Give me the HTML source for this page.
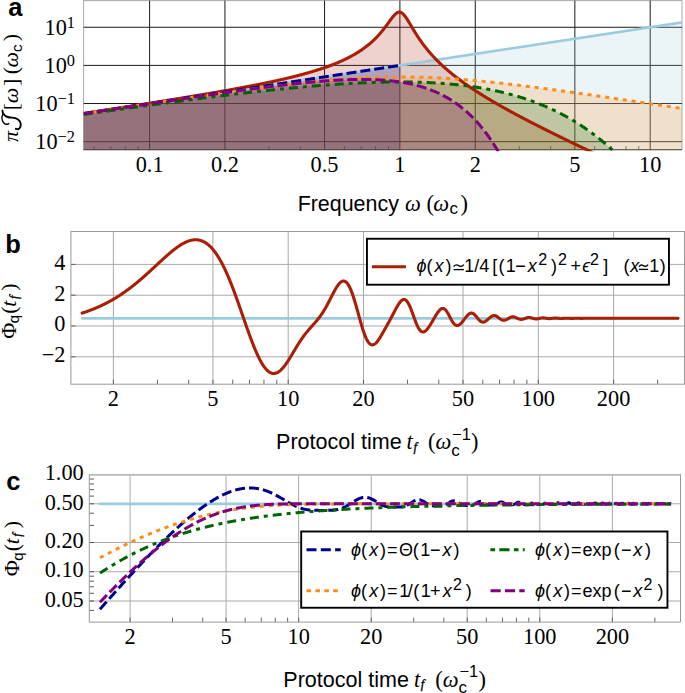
<!DOCTYPE html>
<html><head><meta charset="utf-8"><style>
html,body{margin:0;padding:0;background:#fff;width:685px;height:693px;overflow:hidden}
svg{display:block}
text{fill:#000}
</style></head><body>
<svg width="685" height="693" viewBox="0 0 685 693"><defs><clipPath id="ca"><rect x="83.60" y="0.60" width="598.40" height="149.10"/></clipPath><clipPath id="ca2"><rect x="83.60" y="0.60" width="598.40" height="150.60"/></clipPath>
</defs>
<rect x="83.60" y="0.60" width="598.40" height="149.10" fill="none" stroke="#aaa" stroke-width="1"/>
<line x1="83.60" y1="149.70" x2="682.00" y2="149.70" stroke="#333" stroke-width="1"/>
<line x1="94.07" y1="149.70" x2="94.07" y2="146.20" stroke="#333" stroke-width="0.8"/>
<line x1="110.83" y1="149.70" x2="110.83" y2="146.20" stroke="#333" stroke-width="0.8"/>
<line x1="125.34" y1="149.70" x2="125.34" y2="146.20" stroke="#333" stroke-width="0.8"/>
<line x1="138.15" y1="149.70" x2="138.15" y2="146.20" stroke="#333" stroke-width="0.8"/>
<line x1="269.02" y1="149.70" x2="269.02" y2="146.20" stroke="#333" stroke-width="0.8"/>
<line x1="300.30" y1="149.70" x2="300.30" y2="146.20" stroke="#333" stroke-width="0.8"/>
<line x1="344.37" y1="149.70" x2="344.37" y2="146.20" stroke="#333" stroke-width="0.8"/>
<line x1="361.13" y1="149.70" x2="361.13" y2="146.20" stroke="#333" stroke-width="0.8"/>
<line x1="375.64" y1="149.70" x2="375.64" y2="146.20" stroke="#333" stroke-width="0.8"/>
<line x1="388.45" y1="149.70" x2="388.45" y2="146.20" stroke="#333" stroke-width="0.8"/>
<line x1="519.32" y1="149.70" x2="519.32" y2="146.20" stroke="#333" stroke-width="0.8"/>
<line x1="550.60" y1="149.70" x2="550.60" y2="146.20" stroke="#333" stroke-width="0.8"/>
<line x1="594.67" y1="149.70" x2="594.67" y2="146.20" stroke="#333" stroke-width="0.8"/>
<line x1="611.43" y1="149.70" x2="611.43" y2="146.20" stroke="#333" stroke-width="0.8"/>
<line x1="625.94" y1="149.70" x2="625.94" y2="146.20" stroke="#333" stroke-width="0.8"/>
<line x1="638.75" y1="149.70" x2="638.75" y2="146.20" stroke="#333" stroke-width="0.8"/>
<line x1="149.60" y1="0.60" x2="149.60" y2="149.70" stroke="#1a1a1a" stroke-width="1"/>
<line x1="224.95" y1="0.60" x2="224.95" y2="149.70" stroke="#1a1a1a" stroke-width="1"/>
<line x1="324.55" y1="0.60" x2="324.55" y2="149.70" stroke="#1a1a1a" stroke-width="1"/>
<line x1="399.90" y1="0.60" x2="399.90" y2="149.70" stroke="#1a1a1a" stroke-width="1"/>
<line x1="475.25" y1="0.60" x2="475.25" y2="149.70" stroke="#1a1a1a" stroke-width="1"/>
<line x1="574.85" y1="0.60" x2="574.85" y2="149.70" stroke="#1a1a1a" stroke-width="1"/>
<line x1="650.20" y1="0.60" x2="650.20" y2="149.70" stroke="#1a1a1a" stroke-width="1"/>
<line x1="83.60" y1="27.27" x2="682.00" y2="27.27" stroke="#1a1a1a" stroke-width="1"/>
<line x1="83.60" y1="65.40" x2="682.00" y2="65.40" stroke="#1a1a1a" stroke-width="1"/>
<line x1="83.60" y1="103.53" x2="682.00" y2="103.53" stroke="#1a1a1a" stroke-width="1"/>
<line x1="83.60" y1="141.66" x2="682.00" y2="141.66" stroke="#1a1a1a" stroke-width="1"/>
<g clip-path="url(#ca)">
<path d="M83.60,113.58L84.27,113.48L84.93,113.38L85.60,113.28L86.26,113.18L86.93,113.08L87.59,112.98L88.26,112.87L88.93,112.77L89.59,112.67L90.26,112.57L90.92,112.47L91.59,112.37L92.25,112.27L92.92,112.16L93.58,112.06L94.25,111.96L94.92,111.86L95.58,111.76L96.25,111.66L96.91,111.56L97.58,111.45L98.24,111.35L98.91,111.25L99.58,111.15L100.24,111.05L100.91,110.95L101.57,110.85L102.24,110.75L102.90,110.64L103.57,110.54L104.23,110.44L104.90,110.34L105.57,110.24L106.23,110.14L106.90,110.04L107.56,109.93L108.23,109.83L108.89,109.73L109.56,109.63L110.23,109.53L110.89,109.43L111.56,109.33L112.22,109.22L112.89,109.12L113.55,109.02L114.22,108.92L114.88,108.82L115.55,108.72L116.22,108.62L116.88,108.51L117.55,108.41L118.21,108.31L118.88,108.21L119.54,108.11L120.21,108.01L120.88,107.91L121.54,107.80L122.21,107.70L122.87,107.60L123.54,107.50L124.20,107.40L124.87,107.30L125.53,107.20L126.20,107.09L126.87,106.99L127.53,106.89L128.20,106.79L128.86,106.69L129.53,106.59L130.19,106.49L130.86,106.38L131.53,106.28L132.19,106.18L132.86,106.08L133.52,105.98L134.19,105.88L134.85,105.78L135.52,105.68L136.18,105.57L136.85,105.47L137.52,105.37L138.18,105.27L138.85,105.17L139.51,105.07L140.18,104.97L140.84,104.86L141.51,104.76L142.18,104.66L142.84,104.56L143.51,104.46L144.17,104.36L144.84,104.26L145.50,104.15L146.17,104.05L146.83,103.95L147.50,103.85L148.17,103.75L148.83,103.65L149.50,103.55L150.16,103.44L150.83,103.34L151.49,103.24L152.16,103.14L152.83,103.04L153.49,102.94L154.16,102.84L154.82,102.73L155.49,102.63L156.15,102.53L156.82,102.43L157.48,102.33L158.15,102.23L158.82,102.13L159.48,102.02L160.15,101.92L160.81,101.82L161.48,101.72L162.14,101.62L162.81,101.52L163.48,101.42L164.14,101.31L164.81,101.21L165.47,101.11L166.14,101.01L166.80,100.91L167.47,100.81L168.13,100.71L168.80,100.61L169.47,100.50L170.13,100.40L170.80,100.30L171.46,100.20L172.13,100.10L172.79,100.00L173.46,99.90L174.13,99.79L174.79,99.69L175.46,99.59L176.12,99.49L176.79,99.39L177.45,99.29L178.12,99.19L178.78,99.08L179.45,98.98L180.12,98.88L180.78,98.78L181.45,98.68L182.11,98.58L182.78,98.48L183.44,98.37L184.11,98.27L184.78,98.17L185.44,98.07L186.11,97.97L186.77,97.87L187.44,97.77L188.10,97.66L188.77,97.56L189.43,97.46L190.10,97.36L190.77,97.26L191.43,97.16L192.10,97.06L192.76,96.95L193.43,96.85L194.09,96.75L194.76,96.65L195.43,96.55L196.09,96.45L196.76,96.35L197.42,96.24L198.09,96.14L198.75,96.04L199.42,95.94L200.08,95.84L200.75,95.74L201.42,95.64L202.08,95.54L202.75,95.43L203.41,95.33L204.08,95.23L204.74,95.13L205.41,95.03L206.08,94.93L206.74,94.83L207.41,94.72L208.07,94.62L208.74,94.52L209.40,94.42L210.07,94.32L210.74,94.22L211.40,94.12L212.07,94.01L212.73,93.91L213.40,93.81L214.06,93.71L214.73,93.61L215.39,93.51L216.06,93.41L216.73,93.30L217.39,93.20L218.06,93.10L218.72,93.00L219.39,92.90L220.05,92.80L220.72,92.70L221.39,92.59L222.05,92.49L222.72,92.39L223.38,92.29L224.05,92.19L224.71,92.09L225.38,91.99L226.04,91.88L226.71,91.78L227.38,91.68L228.04,91.58L228.71,91.48L229.37,91.38L230.04,91.28L230.70,91.17L231.37,91.07L232.04,90.97L232.70,90.87L233.37,90.77L234.03,90.67L234.70,90.57L235.36,90.47L236.03,90.36L236.69,90.26L237.36,90.16L238.03,90.06L238.69,89.96L239.36,89.86L240.02,89.76L240.69,89.65L241.35,89.55L242.02,89.45L242.69,89.35L243.35,89.25L244.02,89.15L244.68,89.05L245.35,88.94L246.01,88.84L246.68,88.74L247.34,88.64L248.01,88.54L248.68,88.44L249.34,88.34L250.01,88.23L250.67,88.13L251.34,88.03L252.00,87.93L252.67,87.83L253.34,87.73L254.00,87.63L254.67,87.52L255.33,87.42L256.00,87.32L256.66,87.22L257.33,87.12L257.99,87.02L258.66,86.92L259.33,86.81L259.99,86.71L260.66,86.61L261.32,86.51L261.99,86.41L262.65,86.31L263.32,86.21L263.99,86.10L264.65,86.00L265.32,85.90L265.98,85.80L266.65,85.70L267.31,85.60L267.98,85.50L268.64,85.40L269.31,85.29L269.98,85.19L270.64,85.09L271.31,84.99L271.97,84.89L272.64,84.79L273.30,84.69L273.97,84.58L274.64,84.48L275.30,84.38L275.97,84.28L276.63,84.18L277.30,84.08L277.96,83.98L278.63,83.87L279.29,83.77L279.96,83.67L280.63,83.57L281.29,83.47L281.96,83.37L282.62,83.27L283.29,83.16L283.95,83.06L284.62,82.96L285.29,82.86L285.95,82.76L286.62,82.66L287.28,82.56L287.95,82.45L288.61,82.35L289.28,82.25L289.94,82.15L290.61,82.05L291.28,81.95L291.94,81.85L292.61,81.74L293.27,81.64L293.94,81.54L294.60,81.44L295.27,81.34L295.94,81.24L296.60,81.14L297.27,81.03L297.93,80.93L298.60,80.83L299.26,80.73L299.93,80.63L300.59,80.53L301.26,80.43L301.93,80.33L302.59,80.22L303.26,80.12L303.92,80.02L304.59,79.92L305.25,79.82L305.92,79.72L306.59,79.62L307.25,79.51L307.92,79.41L308.58,79.31L309.25,79.21L309.91,79.11L310.58,79.01L311.24,78.91L311.91,78.80L312.58,78.70L313.24,78.60L313.91,78.50L314.57,78.40L315.24,78.30L315.90,78.20L316.57,78.09L317.24,77.99L317.90,77.89L318.57,77.79L319.23,77.69L319.90,77.59L320.56,77.49L321.23,77.38L321.89,77.28L322.56,77.18L323.23,77.08L323.89,76.98L324.56,76.88L325.22,76.78L325.89,76.67L326.55,76.57L327.22,76.47L327.89,76.37L328.55,76.27L329.22,76.17L329.88,76.07L330.55,75.96L331.21,75.86L331.88,75.76L332.55,75.66L333.21,75.56L333.88,75.46L334.54,75.36L335.21,75.26L335.87,75.15L336.54,75.05L337.20,74.95L337.87,74.85L338.54,74.75L339.20,74.65L339.87,74.55L340.53,74.44L341.20,74.34L341.86,74.24L342.53,74.14L343.20,74.04L343.86,73.94L344.53,73.84L345.19,73.73L345.86,73.63L346.52,73.53L347.19,73.43L347.85,73.33L348.52,73.23L349.19,73.13L349.85,73.02L350.52,72.92L351.18,72.82L351.85,72.72L352.51,72.62L353.18,72.52L353.85,72.42L354.51,72.31L355.18,72.21L355.84,72.11L356.51,72.01L357.17,71.91L357.84,71.81L358.50,71.71L359.17,71.60L359.84,71.50L360.50,71.40L361.17,71.30L361.83,71.20L362.50,71.10L363.16,71.00L363.83,70.89L364.50,70.79L365.16,70.69L365.83,70.59L366.49,70.49L367.16,70.39L367.82,70.29L368.49,70.19L369.15,70.08L369.82,69.98L370.49,69.88L371.15,69.78L371.82,69.68L372.48,69.58L373.15,69.48L373.81,69.37L374.48,69.27L375.15,69.17L375.81,69.07L376.48,68.97L377.14,68.87L377.81,68.77L378.47,68.66L379.14,68.56L379.80,68.46L380.47,68.36L381.14,68.26L381.80,68.16L382.47,68.06L383.13,67.95L383.80,67.85L384.46,67.75L385.13,67.65L385.80,67.55L386.46,67.45L387.13,67.35L387.79,67.24L388.46,67.14L389.12,67.04L389.79,66.94L390.45,66.84L391.12,66.74L391.79,66.64L392.45,66.53L393.12,66.43L393.78,66.33L394.45,66.23L395.11,66.13L395.78,66.03L396.45,65.93L397.11,65.82L397.78,65.72L398.44,65.62L399.11,65.52L399.77,65.42L400.44,65.32L401.10,65.22L401.77,65.12L402.44,65.01L403.10,64.91L403.77,64.81L404.43,64.71L405.10,64.61L405.76,64.51L406.43,64.41L407.10,64.30L407.76,64.20L408.43,64.10L409.09,64.00L409.76,63.90L410.42,63.80L411.09,63.70L411.75,63.59L412.42,63.49L413.09,63.39L413.75,63.29L414.42,63.19L415.08,63.09L415.75,62.99L416.41,62.88L417.08,62.78L417.75,62.68L418.41,62.58L419.08,62.48L419.74,62.38L420.41,62.28L421.07,62.17L421.74,62.07L422.40,61.97L423.07,61.87L423.74,61.77L424.40,61.67L425.07,61.57L425.73,61.46L426.40,61.36L427.06,61.26L427.73,61.16L428.40,61.06L429.06,60.96L429.73,60.86L430.39,60.75L431.06,60.65L431.72,60.55L432.39,60.45L433.05,60.35L433.72,60.25L434.39,60.15L435.05,60.05L435.72,59.94L436.38,59.84L437.05,59.74L437.71,59.64L438.38,59.54L439.05,59.44L439.71,59.34L440.38,59.23L441.04,59.13L441.71,59.03L442.37,58.93L443.04,58.83L443.71,58.73L444.37,58.63L445.04,58.52L445.70,58.42L446.37,58.32L447.03,58.22L447.70,58.12L448.36,58.02L449.03,57.92L449.70,57.81L450.36,57.71L451.03,57.61L451.69,57.51L452.36,57.41L453.02,57.31L453.69,57.21L454.36,57.10L455.02,57.00L455.69,56.90L456.35,56.80L457.02,56.70L457.68,56.60L458.35,56.50L459.01,56.39L459.68,56.29L460.35,56.19L461.01,56.09L461.68,55.99L462.34,55.89L463.01,55.79L463.67,55.68L464.34,55.58L465.01,55.48L465.67,55.38L466.34,55.28L467.00,55.18L467.67,55.08L468.33,54.98L469.00,54.87L469.66,54.77L470.33,54.67L471.00,54.57L471.66,54.47L472.33,54.37L472.99,54.27L473.66,54.16L474.32,54.06L474.99,53.96L475.66,53.86L476.32,53.76L476.99,53.66L477.65,53.56L478.32,53.45L478.98,53.35L479.65,53.25L480.31,53.15L480.98,53.05L481.65,52.95L482.31,52.85L482.98,52.74L483.64,52.64L484.31,52.54L484.97,52.44L485.64,52.34L486.31,52.24L486.97,52.14L487.64,52.03L488.30,51.93L488.97,51.83L489.63,51.73L490.30,51.63L490.96,51.53L491.63,51.43L492.30,51.32L492.96,51.22L493.63,51.12L494.29,51.02L494.96,50.92L495.62,50.82L496.29,50.72L496.96,50.61L497.62,50.51L498.29,50.41L498.95,50.31L499.62,50.21L500.28,50.11L500.95,50.01L501.61,49.91L502.28,49.80L502.95,49.70L503.61,49.60L504.28,49.50L504.94,49.40L505.61,49.30L506.27,49.20L506.94,49.09L507.61,48.99L508.27,48.89L508.94,48.79L509.60,48.69L510.27,48.59L510.93,48.49L511.60,48.38L512.26,48.28L512.93,48.18L513.60,48.08L514.26,47.98L514.93,47.88L515.59,47.78L516.26,47.67L516.92,47.57L517.59,47.47L518.26,47.37L518.92,47.27L519.59,47.17L520.25,47.07L520.92,46.96L521.58,46.86L522.25,46.76L522.91,46.66L523.58,46.56L524.25,46.46L524.91,46.36L525.58,46.25L526.24,46.15L526.91,46.05L527.57,45.95L528.24,45.85L528.91,45.75L529.57,45.65L530.24,45.54L530.90,45.44L531.57,45.34L532.23,45.24L532.90,45.14L533.56,45.04L534.23,44.94L534.90,44.84L535.56,44.73L536.23,44.63L536.89,44.53L537.56,44.43L538.22,44.33L538.89,44.23L539.56,44.13L540.22,44.02L540.89,43.92L541.55,43.82L542.22,43.72L542.88,43.62L543.55,43.52L544.21,43.42L544.88,43.31L545.55,43.21L546.21,43.11L546.88,43.01L547.54,42.91L548.21,42.81L548.87,42.71L549.54,42.60L550.21,42.50L550.87,42.40L551.54,42.30L552.20,42.20L552.87,42.10L553.53,42.00L554.20,41.89L554.86,41.79L555.53,41.69L556.20,41.59L556.86,41.49L557.53,41.39L558.19,41.29L558.86,41.18L559.52,41.08L560.19,40.98L560.86,40.88L561.52,40.78L562.19,40.68L562.85,40.58L563.52,40.47L564.18,40.37L564.85,40.27L565.52,40.17L566.18,40.07L566.85,39.97L567.51,39.87L568.18,39.77L568.84,39.66L569.51,39.56L570.17,39.46L570.84,39.36L571.51,39.26L572.17,39.16L572.84,39.06L573.50,38.95L574.17,38.85L574.83,38.75L575.50,38.65L576.17,38.55L576.83,38.45L577.50,38.35L578.16,38.24L578.83,38.14L579.49,38.04L580.16,37.94L580.82,37.84L581.49,37.74L582.16,37.64L582.82,37.53L583.49,37.43L584.15,37.33L584.82,37.23L585.48,37.13L586.15,37.03L586.82,36.93L587.48,36.82L588.15,36.72L588.81,36.62L589.48,36.52L590.14,36.42L590.81,36.32L591.47,36.22L592.14,36.11L592.81,36.01L593.47,35.91L594.14,35.81L594.80,35.71L595.47,35.61L596.13,35.51L596.80,35.40L597.47,35.30L598.13,35.20L598.80,35.10L599.46,35.00L600.13,34.90L600.79,34.80L601.46,34.70L602.12,34.59L602.79,34.49L603.46,34.39L604.12,34.29L604.79,34.19L605.45,34.09L606.12,33.99L606.78,33.88L607.45,33.78L608.12,33.68L608.78,33.58L609.45,33.48L610.11,33.38L610.78,33.28L611.44,33.17L612.11,33.07L612.77,32.97L613.44,32.87L614.11,32.77L614.77,32.67L615.44,32.57L616.10,32.46L616.77,32.36L617.43,32.26L618.10,32.16L618.77,32.06L619.43,31.96L620.10,31.86L620.76,31.75L621.43,31.65L622.09,31.55L622.76,31.45L623.42,31.35L624.09,31.25L624.76,31.15L625.42,31.04L626.09,30.94L626.75,30.84L627.42,30.74L628.08,30.64L628.75,30.54L629.42,30.44L630.08,30.33L630.75,30.23L631.41,30.13L632.08,30.03L632.74,29.93L633.41,29.83L634.07,29.73L634.74,29.63L635.41,29.52L636.07,29.42L636.74,29.32L637.40,29.22L638.07,29.12L638.73,29.02L639.40,28.92L640.07,28.81L640.73,28.71L641.40,28.61L642.06,28.51L642.73,28.41L643.39,28.31L644.06,28.21L644.72,28.10L645.39,28.00L646.06,27.90L646.72,27.80L647.39,27.70L648.05,27.60L648.72,27.50L649.38,27.39L650.05,27.29L650.72,27.19L651.38,27.09L652.05,26.99L652.71,26.89L653.38,26.79L654.04,26.68L654.71,26.58L655.37,26.48L656.04,26.38L656.71,26.28L657.37,26.18L658.04,26.08L658.70,25.97L659.37,25.87L660.03,25.77L660.70,25.67L661.37,25.57L662.03,25.47L662.70,25.37L663.36,25.26L664.03,25.16L664.69,25.06L665.36,24.96L666.02,24.86L666.69,24.76L667.36,24.66L668.02,24.56L668.69,24.45L669.35,24.35L670.02,24.25L670.68,24.15L671.35,24.05L672.02,23.95L672.68,23.85L673.35,23.74L674.01,23.64L674.68,23.54L675.34,23.44L676.01,23.34L676.67,23.24L677.34,23.14L678.01,23.03L678.67,22.93L679.34,22.83L680.00,22.73L680.67,22.63L681.33,22.53L682.00,22.43L682.00,154.70L83.60,154.70Z" fill="#9bcbde" fill-opacity="0.200" stroke="none"/>
<path d="M83.60,113.49L84.27,113.39L84.93,113.28L85.60,113.18L86.26,113.08L86.93,112.97L87.59,112.87L88.26,112.77L88.93,112.67L89.59,112.56L90.26,112.46L90.92,112.36L91.59,112.26L92.25,112.15L92.92,112.05L93.58,111.95L94.25,111.84L94.92,111.74L95.58,111.64L96.25,111.54L96.91,111.43L97.58,111.33L98.24,111.23L98.91,111.12L99.58,111.02L100.24,110.92L100.91,110.82L101.57,110.71L102.24,110.61L102.90,110.51L103.57,110.40L104.23,110.30L104.90,110.20L105.57,110.09L106.23,109.99L106.90,109.89L107.56,109.78L108.23,109.68L108.89,109.58L109.56,109.47L110.23,109.37L110.89,109.27L111.56,109.16L112.22,109.06L112.89,108.96L113.55,108.85L114.22,108.75L114.88,108.65L115.55,108.54L116.22,108.44L116.88,108.34L117.55,108.23L118.21,108.13L118.88,108.03L119.54,107.92L120.21,107.82L120.88,107.71L121.54,107.61L122.21,107.51L122.87,107.40L123.54,107.30L124.20,107.19L124.87,107.09L125.53,106.99L126.20,106.88L126.87,106.78L127.53,106.67L128.20,106.57L128.86,106.47L129.53,106.36L130.19,106.26L130.86,106.15L131.53,106.05L132.19,105.95L132.86,105.84L133.52,105.74L134.19,105.63L134.85,105.53L135.52,105.42L136.18,105.32L136.85,105.21L137.52,105.11L138.18,105.01L138.85,104.90L139.51,104.80L140.18,104.69L140.84,104.59L141.51,104.48L142.18,104.38L142.84,104.27L143.51,104.17L144.17,104.06L144.84,103.96L145.50,103.85L146.17,103.75L146.83,103.64L147.50,103.54L148.17,103.43L148.83,103.33L149.50,103.22L150.16,103.11L150.83,103.01L151.49,102.90L152.16,102.80L152.83,102.69L153.49,102.59L154.16,102.48L154.82,102.38L155.49,102.27L156.15,102.16L156.82,102.06L157.48,101.95L158.15,101.85L158.82,101.74L159.48,101.63L160.15,101.53L160.81,101.42L161.48,101.31L162.14,101.21L162.81,101.10L163.48,100.99L164.14,100.89L164.81,100.78L165.47,100.67L166.14,100.57L166.80,100.46L167.47,100.35L168.13,100.25L168.80,100.14L169.47,100.03L170.13,99.93L170.80,99.82L171.46,99.71L172.13,99.60L172.79,99.50L173.46,99.39L174.13,99.28L174.79,99.17L175.46,99.06L176.12,98.96L176.79,98.85L177.45,98.74L178.12,98.63L178.78,98.52L179.45,98.42L180.12,98.31L180.78,98.20L181.45,98.09L182.11,97.98L182.78,97.87L183.44,97.76L184.11,97.65L184.78,97.55L185.44,97.44L186.11,97.33L186.77,97.22L187.44,97.11L188.10,97.00L188.77,96.89L189.43,96.78L190.10,96.67L190.77,96.56L191.43,96.45L192.10,96.34L192.76,96.23L193.43,96.12L194.09,96.01L194.76,95.90L195.43,95.79L196.09,95.68L196.76,95.56L197.42,95.45L198.09,95.34L198.75,95.23L199.42,95.12L200.08,95.01L200.75,94.90L201.42,94.78L202.08,94.67L202.75,94.56L203.41,94.45L204.08,94.34L204.74,94.22L205.41,94.11L206.08,94.00L206.74,93.88L207.41,93.77L208.07,93.66L208.74,93.54L209.40,93.43L210.07,93.32L210.74,93.20L211.40,93.09L212.07,92.97L212.73,92.86L213.40,92.75L214.06,92.63L214.73,92.52L215.39,92.40L216.06,92.29L216.73,92.17L217.39,92.05L218.06,91.94L218.72,91.82L219.39,91.71L220.05,91.59L220.72,91.47L221.39,91.36L222.05,91.24L222.72,91.12L223.38,91.01L224.05,90.89L224.71,90.77L225.38,90.65L226.04,90.53L226.71,90.42L227.38,90.30L228.04,90.18L228.71,90.06L229.37,89.94L230.04,89.82L230.70,89.70L231.37,89.58L232.04,89.46L232.70,89.34L233.37,89.22L234.03,89.10L234.70,88.98L235.36,88.86L236.03,88.73L236.69,88.61L237.36,88.49L238.03,88.37L238.69,88.24L239.36,88.12L240.02,88.00L240.69,87.87L241.35,87.75L242.02,87.63L242.69,87.50L243.35,87.38L244.02,87.25L244.68,87.13L245.35,87.00L246.01,86.87L246.68,86.75L247.34,86.62L248.01,86.49L248.68,86.37L249.34,86.24L250.01,86.11L250.67,85.98L251.34,85.85L252.00,85.73L252.67,85.60L253.34,85.47L254.00,85.34L254.67,85.21L255.33,85.07L256.00,84.94L256.66,84.81L257.33,84.68L257.99,84.55L258.66,84.41L259.33,84.28L259.99,84.15L260.66,84.01L261.32,83.88L261.99,83.74L262.65,83.61L263.32,83.47L263.99,83.33L264.65,83.20L265.32,83.06L265.98,82.92L266.65,82.78L267.31,82.64L267.98,82.51L268.64,82.37L269.31,82.23L269.98,82.08L270.64,81.94L271.31,81.80L271.97,81.66L272.64,81.51L273.30,81.37L273.97,81.23L274.64,81.08L275.30,80.94L275.97,80.79L276.63,80.64L277.30,80.50L277.96,80.35L278.63,80.20L279.29,80.05L279.96,79.90L280.63,79.75L281.29,79.60L281.96,79.45L282.62,79.30L283.29,79.14L283.95,78.99L284.62,78.83L285.29,78.68L285.95,78.52L286.62,78.36L287.28,78.21L287.95,78.05L288.61,77.89L289.28,77.73L289.94,77.57L290.61,77.41L291.28,77.24L291.94,77.08L292.61,76.92L293.27,76.75L293.94,76.58L294.60,76.42L295.27,76.25L295.94,76.08L296.60,75.91L297.27,75.74L297.93,75.57L298.60,75.39L299.26,75.22L299.93,75.05L300.59,74.87L301.26,74.69L301.93,74.51L302.59,74.33L303.26,74.15L303.92,73.97L304.59,73.79L305.25,73.61L305.92,73.42L306.59,73.23L307.25,73.05L307.92,72.86L308.58,72.67L309.25,72.47L309.91,72.28L310.58,72.09L311.24,71.89L311.91,71.69L312.58,71.50L313.24,71.30L313.91,71.09L314.57,70.89L315.24,70.69L315.90,70.48L316.57,70.27L317.24,70.06L317.90,69.85L318.57,69.64L319.23,69.42L319.90,69.21L320.56,68.99L321.23,68.77L321.89,68.55L322.56,68.32L323.23,68.10L323.89,67.87L324.56,67.64L325.22,67.41L325.89,67.17L326.55,66.94L327.22,66.70L327.89,66.46L328.55,66.22L329.22,65.97L329.88,65.73L330.55,65.48L331.21,65.22L331.88,64.97L332.55,64.71L333.21,64.45L333.88,64.19L334.54,63.92L335.21,63.66L335.87,63.39L336.54,63.11L337.20,62.84L337.87,62.56L338.54,62.27L339.20,61.99L339.87,61.70L340.53,61.41L341.20,61.11L341.86,60.81L342.53,60.51L343.20,60.20L343.86,59.89L344.53,59.58L345.19,59.26L345.86,58.94L346.52,58.61L347.19,58.28L347.85,57.95L348.52,57.61L349.19,57.27L349.85,56.92L350.52,56.57L351.18,56.21L351.85,55.85L352.51,55.48L353.18,55.11L353.85,54.73L354.51,54.35L355.18,53.96L355.84,53.56L356.51,53.16L357.17,52.76L357.84,52.34L358.50,51.93L359.17,51.50L359.84,51.07L360.50,50.63L361.17,50.18L361.83,49.73L362.50,49.27L363.16,48.80L363.83,48.32L364.50,47.84L365.16,47.34L365.83,46.84L366.49,46.33L367.16,45.81L367.82,45.28L368.49,44.74L369.15,44.19L369.82,43.63L370.49,43.06L371.15,42.48L371.82,41.88L372.48,41.28L373.15,40.66L373.81,40.04L374.48,39.40L375.15,38.74L375.81,38.07L376.48,37.39L377.14,36.70L377.81,35.99L378.47,35.27L379.14,34.53L379.80,33.78L380.47,33.01L381.14,32.23L381.80,31.44L382.47,30.62L383.13,29.80L383.80,28.96L384.46,28.10L385.13,27.23L385.80,26.35L386.46,25.46L387.13,24.56L387.79,23.65L388.46,22.73L389.12,21.82L389.79,20.90L390.45,19.99L391.12,19.09L391.79,18.21L392.45,17.34L393.12,16.51L393.78,15.72L394.45,14.98L395.11,14.30L395.78,13.69L396.45,13.16L397.11,12.73L397.78,12.39L398.44,12.17L399.11,12.06L399.77,12.08L400.44,12.22L401.10,12.48L401.77,12.86L402.44,13.36L403.10,13.96L403.77,14.66L404.43,15.44L405.10,16.30L405.76,17.22L406.43,18.20L407.10,19.22L407.76,20.27L408.43,21.35L409.09,22.45L409.76,23.56L410.42,24.67L411.09,25.80L411.75,26.91L412.42,28.03L413.09,29.14L413.75,30.24L414.42,31.32L415.08,32.40L415.75,33.46L416.41,34.51L417.08,35.55L417.75,36.57L418.41,37.57L419.08,38.56L419.74,39.54L420.41,40.50L421.07,41.44L421.74,42.37L422.40,43.29L423.07,44.19L423.74,45.08L424.40,45.95L425.07,46.82L425.73,47.66L426.40,48.50L427.06,49.32L427.73,50.14L428.40,50.94L429.06,51.72L429.73,52.50L430.39,53.27L431.06,54.02L431.72,54.77L432.39,55.51L433.05,56.23L433.72,56.95L434.39,57.66L435.05,58.36L435.72,59.05L436.38,59.73L437.05,60.41L437.71,61.08L438.38,61.73L439.05,62.39L439.71,63.03L440.38,63.67L441.04,64.30L441.71,64.92L442.37,65.54L443.04,66.15L443.71,66.76L444.37,67.36L445.04,67.95L445.70,68.54L446.37,69.12L447.03,69.70L447.70,70.27L448.36,70.84L449.03,71.40L449.70,71.96L450.36,72.51L451.03,73.06L451.69,73.60L452.36,74.14L453.02,74.67L453.69,75.20L454.36,75.73L455.02,76.25L455.69,76.77L456.35,77.28L457.02,77.79L457.68,78.30L458.35,78.80L459.01,79.30L459.68,79.80L460.35,80.29L461.01,80.78L461.68,81.27L462.34,81.75L463.01,82.23L463.67,82.71L464.34,83.19L465.01,83.66L465.67,84.13L466.34,84.59L467.00,85.06L467.67,85.52L468.33,85.98L469.00,86.43L469.66,86.89L470.33,87.34L471.00,87.79L471.66,88.23L472.33,88.68L472.99,89.12L473.66,89.56L474.32,90.00L474.99,90.43L475.66,90.86L476.32,91.29L476.99,91.72L477.65,92.15L478.32,92.58L478.98,93.00L479.65,93.42L480.31,93.84L480.98,94.26L481.65,94.68L482.31,95.09L482.98,95.50L483.64,95.92L484.31,96.32L484.97,96.73L485.64,97.14L486.31,97.54L486.97,97.95L487.64,98.35L488.30,98.75L488.97,99.15L489.63,99.55L490.30,99.94L490.96,100.34L491.63,100.73L492.30,101.12L492.96,101.52L493.63,101.91L494.29,102.29L494.96,102.68L495.62,103.07L496.29,103.45L496.96,103.84L497.62,104.22L498.29,104.60L498.95,104.98L499.62,105.36L500.28,105.74L500.95,106.12L501.61,106.49L502.28,106.87L502.95,107.24L503.61,107.61L504.28,107.99L504.94,108.36L505.61,108.73L506.27,109.10L506.94,109.47L507.61,109.83L508.27,110.20L508.94,110.57L509.60,110.93L510.27,111.29L510.93,111.66L511.60,112.02L512.26,112.38L512.93,112.74L513.60,113.10L514.26,113.46L514.93,113.82L515.59,114.18L516.26,114.53L516.92,114.89L517.59,115.25L518.26,115.60L518.92,115.96L519.59,116.31L520.25,116.66L520.92,117.01L521.58,117.37L522.25,117.72L522.91,118.07L523.58,118.42L524.25,118.77L524.91,119.11L525.58,119.46L526.24,119.81L526.91,120.16L527.57,120.50L528.24,120.85L528.91,121.19L529.57,121.54L530.24,121.88L530.90,122.23L531.57,122.57L532.23,122.91L532.90,123.25L533.56,123.59L534.23,123.93L534.90,124.28L535.56,124.62L536.23,124.95L536.89,125.29L537.56,125.63L538.22,125.97L538.89,126.31L539.56,126.65L540.22,126.98L540.89,127.32L541.55,127.65L542.22,127.99L542.88,128.32L543.55,128.66L544.21,128.99L544.88,129.33L545.55,129.66L546.21,129.99L546.88,130.33L547.54,130.66L548.21,130.99L548.87,131.32L549.54,131.65L550.21,131.99L550.87,132.32L551.54,132.65L552.20,132.98L552.87,133.31L553.53,133.64L554.20,133.96L554.86,134.29L555.53,134.62L556.20,134.95L556.86,135.28L557.53,135.60L558.19,135.93L558.86,136.26L559.52,136.58L560.19,136.91L560.86,137.24L561.52,137.56L562.19,137.89L562.85,138.21L563.52,138.54L564.18,138.86L564.85,139.19L565.52,139.51L566.18,139.83L566.85,140.16L567.51,140.48L568.18,140.80L568.84,141.13L569.51,141.45L570.17,141.77L570.84,142.09L571.51,142.42L572.17,142.74L572.84,143.06L573.50,143.38L574.17,143.70L574.83,144.02L575.50,144.34L576.17,144.66L576.83,144.98L577.50,145.30L578.16,145.62L578.83,145.94L579.49,146.26L580.16,146.58L580.82,146.90L581.49,147.22L582.16,147.54L582.82,147.86L583.49,148.18L584.15,148.49L584.82,148.81L585.48,149.13L586.15,149.45L586.82,149.76L587.48,150.08L588.15,150.40L588.81,150.72L589.48,151.03L590.14,151.35L590.81,151.67L591.47,151.98L592.14,152.30L592.81,152.61L593.47,152.93L594.14,153.25L594.80,153.56L595.47,153.88L596.13,154.19L596.80,154.51L597.47,154.82L598.13,155.14L598.80,155.45L599.46,155.77L600.13,156.08L600.79,156.40L601.46,156.71L602.12,157.02L602.79,157.34L603.46,157.65L604.12,157.97L604.79,158.28L605.45,158.59L606.12,158.91L606.78,159.22L607.45,159.53L608.12,159.85L608.78,160.16L609.45,160.47L610.11,160.78L610.78,161.10L611.44,161.41L612.11,161.72L612.77,162.03L613.44,162.35L614.11,162.66L614.77,162.97L615.44,163.28L616.10,163.59L616.77,163.91L617.43,164.22L618.10,164.53L618.77,164.84L619.43,165.15L620.10,165.46L620.76,165.77L621.43,166.09L622.09,166.40L622.76,166.71L623.42,167.02L624.09,167.33L624.76,167.64L625.42,167.95L626.09,168.26L626.75,168.57L627.42,168.88L628.08,169.19L628.75,169.50L629.42,169.70L630.08,169.70L630.75,169.70L631.41,169.70L632.08,169.70L632.74,169.70L633.41,169.70L634.07,169.70L634.74,169.70L635.41,169.70L636.07,169.70L636.74,169.70L637.40,169.70L638.07,169.70L638.73,169.70L639.40,169.70L640.07,169.70L640.73,169.70L641.40,169.70L642.06,169.70L642.73,169.70L643.39,169.70L644.06,169.70L644.72,169.70L645.39,169.70L646.06,169.70L646.72,169.70L647.39,169.70L648.05,169.70L648.72,169.70L649.38,169.70L650.05,169.70L650.72,169.70L651.38,169.70L652.05,169.70L652.71,169.70L653.38,169.70L654.04,169.70L654.71,169.70L655.37,169.70L656.04,169.70L656.71,169.70L657.37,169.70L658.04,169.70L658.70,169.70L659.37,169.70L660.03,169.70L660.70,169.70L661.37,169.70L662.03,169.70L662.70,169.70L663.36,169.70L664.03,169.70L664.69,169.70L665.36,169.70L666.02,169.70L666.69,169.70L667.36,169.70L668.02,169.70L668.69,169.70L669.35,169.70L670.02,169.70L670.68,169.70L671.35,169.70L672.02,169.70L672.68,169.70L673.35,169.70L674.01,169.70L674.68,169.70L675.34,169.70L676.01,169.70L676.67,169.70L677.34,169.70L678.01,169.70L678.67,169.70L679.34,169.70L680.00,169.70L680.67,169.70L681.33,169.70L682.00,169.70L682.00,154.70L83.60,154.70Z" fill="#aa1e05" fill-opacity="0.200" stroke="none"/>
<path d="M83.60,113.58L84.27,113.48L84.93,113.38L85.60,113.28L86.26,113.18L86.93,113.08L87.59,112.98L88.26,112.87L88.93,112.77L89.59,112.67L90.26,112.57L90.92,112.47L91.59,112.37L92.25,112.27L92.92,112.16L93.58,112.06L94.25,111.96L94.92,111.86L95.58,111.76L96.25,111.66L96.91,111.56L97.58,111.45L98.24,111.35L98.91,111.25L99.58,111.15L100.24,111.05L100.91,110.95L101.57,110.85L102.24,110.75L102.90,110.64L103.57,110.54L104.23,110.44L104.90,110.34L105.57,110.24L106.23,110.14L106.90,110.04L107.56,109.93L108.23,109.83L108.89,109.73L109.56,109.63L110.23,109.53L110.89,109.43L111.56,109.33L112.22,109.22L112.89,109.12L113.55,109.02L114.22,108.92L114.88,108.82L115.55,108.72L116.22,108.62L116.88,108.51L117.55,108.41L118.21,108.31L118.88,108.21L119.54,108.11L120.21,108.01L120.88,107.91L121.54,107.80L122.21,107.70L122.87,107.60L123.54,107.50L124.20,107.40L124.87,107.30L125.53,107.20L126.20,107.09L126.87,106.99L127.53,106.89L128.20,106.79L128.86,106.69L129.53,106.59L130.19,106.49L130.86,106.38L131.53,106.28L132.19,106.18L132.86,106.08L133.52,105.98L134.19,105.88L134.85,105.78L135.52,105.68L136.18,105.57L136.85,105.47L137.52,105.37L138.18,105.27L138.85,105.17L139.51,105.07L140.18,104.97L140.84,104.86L141.51,104.76L142.18,104.66L142.84,104.56L143.51,104.46L144.17,104.36L144.84,104.26L145.50,104.15L146.17,104.05L146.83,103.95L147.50,103.85L148.17,103.75L148.83,103.65L149.50,103.55L150.16,103.44L150.83,103.34L151.49,103.24L152.16,103.14L152.83,103.04L153.49,102.94L154.16,102.84L154.82,102.73L155.49,102.63L156.15,102.53L156.82,102.43L157.48,102.33L158.15,102.23L158.82,102.13L159.48,102.02L160.15,101.92L160.81,101.82L161.48,101.72L162.14,101.62L162.81,101.52L163.48,101.42L164.14,101.31L164.81,101.21L165.47,101.11L166.14,101.01L166.80,100.91L167.47,100.81L168.13,100.71L168.80,100.61L169.47,100.50L170.13,100.40L170.80,100.30L171.46,100.20L172.13,100.10L172.79,100.00L173.46,99.90L174.13,99.79L174.79,99.69L175.46,99.59L176.12,99.49L176.79,99.39L177.45,99.29L178.12,99.19L178.78,99.08L179.45,98.98L180.12,98.88L180.78,98.78L181.45,98.68L182.11,98.58L182.78,98.48L183.44,98.37L184.11,98.27L184.78,98.17L185.44,98.07L186.11,97.97L186.77,97.87L187.44,97.77L188.10,97.66L188.77,97.56L189.43,97.46L190.10,97.36L190.77,97.26L191.43,97.16L192.10,97.06L192.76,96.95L193.43,96.85L194.09,96.75L194.76,96.65L195.43,96.55L196.09,96.45L196.76,96.35L197.42,96.24L198.09,96.14L198.75,96.04L199.42,95.94L200.08,95.84L200.75,95.74L201.42,95.64L202.08,95.54L202.75,95.43L203.41,95.33L204.08,95.23L204.74,95.13L205.41,95.03L206.08,94.93L206.74,94.83L207.41,94.72L208.07,94.62L208.74,94.52L209.40,94.42L210.07,94.32L210.74,94.22L211.40,94.12L212.07,94.01L212.73,93.91L213.40,93.81L214.06,93.71L214.73,93.61L215.39,93.51L216.06,93.41L216.73,93.30L217.39,93.20L218.06,93.10L218.72,93.00L219.39,92.90L220.05,92.80L220.72,92.70L221.39,92.59L222.05,92.49L222.72,92.39L223.38,92.29L224.05,92.19L224.71,92.09L225.38,91.99L226.04,91.88L226.71,91.78L227.38,91.68L228.04,91.58L228.71,91.48L229.37,91.38L230.04,91.28L230.70,91.17L231.37,91.07L232.04,90.97L232.70,90.87L233.37,90.77L234.03,90.67L234.70,90.57L235.36,90.47L236.03,90.36L236.69,90.26L237.36,90.16L238.03,90.06L238.69,89.96L239.36,89.86L240.02,89.76L240.69,89.65L241.35,89.55L242.02,89.45L242.69,89.35L243.35,89.25L244.02,89.15L244.68,89.05L245.35,88.94L246.01,88.84L246.68,88.74L247.34,88.64L248.01,88.54L248.68,88.44L249.34,88.34L250.01,88.23L250.67,88.13L251.34,88.03L252.00,87.93L252.67,87.83L253.34,87.73L254.00,87.63L254.67,87.52L255.33,87.42L256.00,87.32L256.66,87.22L257.33,87.12L257.99,87.02L258.66,86.92L259.33,86.81L259.99,86.71L260.66,86.61L261.32,86.51L261.99,86.41L262.65,86.31L263.32,86.21L263.99,86.10L264.65,86.00L265.32,85.90L265.98,85.80L266.65,85.70L267.31,85.60L267.98,85.50L268.64,85.40L269.31,85.29L269.98,85.19L270.64,85.09L271.31,84.99L271.97,84.89L272.64,84.79L273.30,84.69L273.97,84.58L274.64,84.48L275.30,84.38L275.97,84.28L276.63,84.18L277.30,84.08L277.96,83.98L278.63,83.87L279.29,83.77L279.96,83.67L280.63,83.57L281.29,83.47L281.96,83.37L282.62,83.27L283.29,83.16L283.95,83.06L284.62,82.96L285.29,82.86L285.95,82.76L286.62,82.66L287.28,82.56L287.95,82.45L288.61,82.35L289.28,82.25L289.94,82.15L290.61,82.05L291.28,81.95L291.94,81.85L292.61,81.74L293.27,81.64L293.94,81.54L294.60,81.44L295.27,81.34L295.94,81.24L296.60,81.14L297.27,81.03L297.93,80.93L298.60,80.83L299.26,80.73L299.93,80.63L300.59,80.53L301.26,80.43L301.93,80.33L302.59,80.22L303.26,80.12L303.92,80.02L304.59,79.92L305.25,79.82L305.92,79.72L306.59,79.62L307.25,79.51L307.92,79.41L308.58,79.31L309.25,79.21L309.91,79.11L310.58,79.01L311.24,78.91L311.91,78.80L312.58,78.70L313.24,78.60L313.91,78.50L314.57,78.40L315.24,78.30L315.90,78.20L316.57,78.09L317.24,77.99L317.90,77.89L318.57,77.79L319.23,77.69L319.90,77.59L320.56,77.49L321.23,77.38L321.89,77.28L322.56,77.18L323.23,77.08L323.89,76.98L324.56,76.88L325.22,76.78L325.89,76.67L326.55,76.57L327.22,76.47L327.89,76.37L328.55,76.27L329.22,76.17L329.88,76.07L330.55,75.96L331.21,75.86L331.88,75.76L332.55,75.66L333.21,75.56L333.88,75.46L334.54,75.36L335.21,75.26L335.87,75.15L336.54,75.05L337.20,74.95L337.87,74.85L338.54,74.75L339.20,74.65L339.87,74.55L340.53,74.44L341.20,74.34L341.86,74.24L342.53,74.14L343.20,74.04L343.86,73.94L344.53,73.84L345.19,73.73L345.86,73.63L346.52,73.53L347.19,73.43L347.85,73.33L348.52,73.23L349.19,73.13L349.85,73.02L350.52,72.92L351.18,72.82L351.85,72.72L352.51,72.62L353.18,72.52L353.85,72.42L354.51,72.31L355.18,72.21L355.84,72.11L356.51,72.01L357.17,71.91L357.84,71.81L358.50,71.71L359.17,71.60L359.84,71.50L360.50,71.40L361.17,71.30L361.83,71.20L362.50,71.10L363.16,71.00L363.83,70.89L364.50,70.79L365.16,70.69L365.83,70.59L366.49,70.49L367.16,70.39L367.82,70.29L368.49,70.19L369.15,70.08L369.82,69.98L370.49,69.88L371.15,69.78L371.82,69.68L372.48,69.58L373.15,69.48L373.81,69.37L374.48,69.27L375.15,69.17L375.81,69.07L376.48,68.97L377.14,68.87L377.81,68.77L378.47,68.66L379.14,68.56L379.80,68.46L380.47,68.36L381.14,68.26L381.80,68.16L382.47,68.06L383.13,67.95L383.80,67.85L384.46,67.75L385.13,67.65L385.80,67.55L386.46,67.45L387.13,67.35L387.79,67.24L388.46,67.14L389.12,67.04L389.79,66.94L390.45,66.84L391.12,66.74L391.79,66.64L392.45,66.53L393.12,66.43L393.78,66.33L394.45,66.23L395.11,66.13L395.78,66.03L396.45,65.93L397.11,65.82L397.78,65.72L398.44,65.62L399.11,65.52L399.77,65.42L399.90,65.40L399.90,154.70L83.60,154.70Z" fill="#00008b" fill-opacity="0.200" stroke="none"/>
<path d="M83.60,113.63L84.27,113.53L84.93,113.43L85.60,113.33L86.26,113.23L86.93,113.13L87.59,113.03L88.26,112.93L88.93,112.83L89.59,112.73L90.26,112.63L90.92,112.53L91.59,112.42L92.25,112.32L92.92,112.22L93.58,112.12L94.25,112.02L94.92,111.92L95.58,111.82L96.25,111.72L96.91,111.62L97.58,111.52L98.24,111.42L98.91,111.32L99.58,111.22L100.24,111.12L100.91,111.02L101.57,110.91L102.24,110.81L102.90,110.71L103.57,110.61L104.23,110.51L104.90,110.41L105.57,110.31L106.23,110.21L106.90,110.11L107.56,110.01L108.23,109.91L108.89,109.81L109.56,109.71L110.23,109.61L110.89,109.51L111.56,109.41L112.22,109.31L112.89,109.21L113.55,109.11L114.22,109.01L114.88,108.91L115.55,108.81L116.22,108.71L116.88,108.60L117.55,108.50L118.21,108.40L118.88,108.30L119.54,108.20L120.21,108.10L120.88,108.00L121.54,107.90L122.21,107.80L122.87,107.70L123.54,107.60L124.20,107.50L124.87,107.40L125.53,107.30L126.20,107.20L126.87,107.10L127.53,107.00L128.20,106.90L128.86,106.80L129.53,106.70L130.19,106.60L130.86,106.50L131.53,106.40L132.19,106.30L132.86,106.20L133.52,106.10L134.19,106.00L134.85,105.90L135.52,105.80L136.18,105.70L136.85,105.60L137.52,105.50L138.18,105.40L138.85,105.30L139.51,105.20L140.18,105.10L140.84,105.00L141.51,104.90L142.18,104.80L142.84,104.71L143.51,104.61L144.17,104.51L144.84,104.41L145.50,104.31L146.17,104.21L146.83,104.11L147.50,104.01L148.17,103.91L148.83,103.81L149.50,103.71L150.16,103.61L150.83,103.51L151.49,103.41L152.16,103.31L152.83,103.21L153.49,103.11L154.16,103.01L154.82,102.92L155.49,102.82L156.15,102.72L156.82,102.62L157.48,102.52L158.15,102.42L158.82,102.32L159.48,102.22L160.15,102.12L160.81,102.02L161.48,101.93L162.14,101.83L162.81,101.73L163.48,101.63L164.14,101.53L164.81,101.43L165.47,101.33L166.14,101.23L166.80,101.13L167.47,101.04L168.13,100.94L168.80,100.84L169.47,100.74L170.13,100.64L170.80,100.54L171.46,100.45L172.13,100.35L172.79,100.25L173.46,100.15L174.13,100.05L174.79,99.95L175.46,99.86L176.12,99.76L176.79,99.66L177.45,99.56L178.12,99.46L178.78,99.36L179.45,99.27L180.12,99.17L180.78,99.07L181.45,98.97L182.11,98.88L182.78,98.78L183.44,98.68L184.11,98.58L184.78,98.48L185.44,98.39L186.11,98.29L186.77,98.19L187.44,98.09L188.10,98.00L188.77,97.90L189.43,97.80L190.10,97.71L190.77,97.61L191.43,97.51L192.10,97.41L192.76,97.32L193.43,97.22L194.09,97.12L194.76,97.03L195.43,96.93L196.09,96.83L196.76,96.74L197.42,96.64L198.09,96.54L198.75,96.45L199.42,96.35L200.08,96.25L200.75,96.16L201.42,96.06L202.08,95.96L202.75,95.87L203.41,95.77L204.08,95.68L204.74,95.58L205.41,95.48L206.08,95.39L206.74,95.29L207.41,95.20L208.07,95.10L208.74,95.01L209.40,94.91L210.07,94.81L210.74,94.72L211.40,94.62L212.07,94.53L212.73,94.43L213.40,94.34L214.06,94.24L214.73,94.15L215.39,94.05L216.06,93.96L216.73,93.86L217.39,93.77L218.06,93.67L218.72,93.58L219.39,93.49L220.05,93.39L220.72,93.30L221.39,93.20L222.05,93.11L222.72,93.02L223.38,92.92L224.05,92.83L224.71,92.73L225.38,92.64L226.04,92.55L226.71,92.45L227.38,92.36L228.04,92.27L228.71,92.17L229.37,92.08L230.04,91.99L230.70,91.90L231.37,91.80L232.04,91.71L232.70,91.62L233.37,91.53L234.03,91.43L234.70,91.34L235.36,91.25L236.03,91.16L236.69,91.06L237.36,90.97L238.03,90.88L238.69,90.79L239.36,90.70L240.02,90.61L240.69,90.52L241.35,90.42L242.02,90.33L242.69,90.24L243.35,90.15L244.02,90.06L244.68,89.97L245.35,89.88L246.01,89.79L246.68,89.70L247.34,89.61L248.01,89.52L248.68,89.43L249.34,89.34L250.01,89.25L250.67,89.16L251.34,89.07L252.00,88.99L252.67,88.90L253.34,88.81L254.00,88.72L254.67,88.63L255.33,88.54L256.00,88.45L256.66,88.37L257.33,88.28L257.99,88.19L258.66,88.10L259.33,88.02L259.99,87.93L260.66,87.84L261.32,87.76L261.99,87.67L262.65,87.58L263.32,87.50L263.99,87.41L264.65,87.32L265.32,87.24L265.98,87.15L266.65,87.07L267.31,86.98L267.98,86.90L268.64,86.81L269.31,86.73L269.98,86.64L270.64,86.56L271.31,86.48L271.97,86.39L272.64,86.31L273.30,86.22L273.97,86.14L274.64,86.06L275.30,85.97L275.97,85.89L276.63,85.81L277.30,85.73L277.96,85.65L278.63,85.56L279.29,85.48L279.96,85.40L280.63,85.32L281.29,85.24L281.96,85.16L282.62,85.08L283.29,85.00L283.95,84.92L284.62,84.84L285.29,84.76L285.95,84.68L286.62,84.60L287.28,84.52L287.95,84.44L288.61,84.36L289.28,84.28L289.94,84.21L290.61,84.13L291.28,84.05L291.94,83.98L292.61,83.90L293.27,83.82L293.94,83.75L294.60,83.67L295.27,83.59L295.94,83.52L296.60,83.44L297.27,83.37L297.93,83.29L298.60,83.22L299.26,83.15L299.93,83.07L300.59,83.00L301.26,82.93L301.93,82.85L302.59,82.78L303.26,82.71L303.92,82.64L304.59,82.56L305.25,82.49L305.92,82.42L306.59,82.35L307.25,82.28L307.92,82.21L308.58,82.14L309.25,82.07L309.91,82.00L310.58,81.93L311.24,81.87L311.91,81.80L312.58,81.73L313.24,81.66L313.91,81.60L314.57,81.53L315.24,81.46L315.90,81.40L316.57,81.33L317.24,81.27L317.90,81.20L318.57,81.14L319.23,81.07L319.90,81.01L320.56,80.95L321.23,80.88L321.89,80.82L322.56,80.76L323.23,80.70L323.89,80.63L324.56,80.57L325.22,80.51L325.89,80.45L326.55,80.39L327.22,80.33L327.89,80.27L328.55,80.22L329.22,80.16L329.88,80.10L330.55,80.04L331.21,79.98L331.88,79.93L332.55,79.87L333.21,79.82L333.88,79.76L334.54,79.71L335.21,79.65L335.87,79.60L336.54,79.55L337.20,79.49L337.87,79.44L338.54,79.39L339.20,79.34L339.87,79.28L340.53,79.23L341.20,79.18L341.86,79.13L342.53,79.08L343.20,79.04L343.86,78.99L344.53,78.94L345.19,78.89L345.86,78.85L346.52,78.80L347.19,78.75L347.85,78.71L348.52,78.66L349.19,78.62L349.85,78.57L350.52,78.53L351.18,78.49L351.85,78.45L352.51,78.40L353.18,78.36L353.85,78.32L354.51,78.28L355.18,78.24L355.84,78.20L356.51,78.16L357.17,78.13L357.84,78.09L358.50,78.05L359.17,78.01L359.84,77.98L360.50,77.94L361.17,77.91L361.83,77.87L362.50,77.84L363.16,77.81L363.83,77.77L364.50,77.74L365.16,77.71L365.83,77.68L366.49,77.65L367.16,77.62L367.82,77.59L368.49,77.56L369.15,77.53L369.82,77.50L370.49,77.48L371.15,77.45L371.82,77.42L372.48,77.40L373.15,77.37L373.81,77.35L374.48,77.33L375.15,77.30L375.81,77.28L376.48,77.26L377.14,77.24L377.81,77.22L378.47,77.20L379.14,77.18L379.80,77.16L380.47,77.14L381.14,77.12L381.80,77.11L382.47,77.09L383.13,77.07L383.80,77.06L384.46,77.04L385.13,77.03L385.80,77.02L386.46,77.00L387.13,76.99L387.79,76.98L388.46,76.97L389.12,76.96L389.79,76.95L390.45,76.94L391.12,76.93L391.79,76.92L392.45,76.92L393.12,76.91L393.78,76.90L394.45,76.90L395.11,76.89L395.78,76.89L396.45,76.89L397.11,76.88L397.78,76.88L398.44,76.88L399.11,76.88L399.77,76.88L400.44,76.88L401.10,76.88L401.77,76.88L402.44,76.88L403.10,76.89L403.77,76.89L404.43,76.89L405.10,76.90L405.76,76.90L406.43,76.91L407.10,76.91L407.76,76.92L408.43,76.93L409.09,76.94L409.76,76.95L410.42,76.96L411.09,76.97L411.75,76.98L412.42,76.99L413.09,77.00L413.75,77.01L414.42,77.03L415.08,77.04L415.75,77.05L416.41,77.07L417.08,77.08L417.75,77.10L418.41,77.12L419.08,77.13L419.74,77.15L420.41,77.17L421.07,77.19L421.74,77.21L422.40,77.23L423.07,77.25L423.74,77.27L424.40,77.30L425.07,77.32L425.73,77.34L426.40,77.37L427.06,77.39L427.73,77.42L428.40,77.44L429.06,77.47L429.73,77.49L430.39,77.52L431.06,77.55L431.72,77.58L432.39,77.61L433.05,77.64L433.72,77.67L434.39,77.70L435.05,77.73L435.72,77.76L436.38,77.79L437.05,77.83L437.71,77.86L438.38,77.89L439.05,77.93L439.71,77.96L440.38,78.00L441.04,78.04L441.71,78.07L442.37,78.11L443.04,78.15L443.71,78.19L444.37,78.23L445.04,78.27L445.70,78.31L446.37,78.35L447.03,78.39L447.70,78.43L448.36,78.47L449.03,78.51L449.70,78.56L450.36,78.60L451.03,78.65L451.69,78.69L452.36,78.74L453.02,78.78L453.69,78.83L454.36,78.87L455.02,78.92L455.69,78.97L456.35,79.02L457.02,79.07L457.68,79.12L458.35,79.16L459.01,79.21L459.68,79.27L460.35,79.32L461.01,79.37L461.68,79.42L462.34,79.47L463.01,79.52L463.67,79.58L464.34,79.63L465.01,79.69L465.67,79.74L466.34,79.80L467.00,79.85L467.67,79.91L468.33,79.96L469.00,80.02L469.66,80.08L470.33,80.14L471.00,80.19L471.66,80.25L472.33,80.31L472.99,80.37L473.66,80.43L474.32,80.49L474.99,80.55L475.66,80.61L476.32,80.67L476.99,80.73L477.65,80.80L478.32,80.86L478.98,80.92L479.65,80.98L480.31,81.05L480.98,81.11L481.65,81.18L482.31,81.24L482.98,81.31L483.64,81.37L484.31,81.44L484.97,81.50L485.64,81.57L486.31,81.64L486.97,81.70L487.64,81.77L488.30,81.84L488.97,81.91L489.63,81.98L490.30,82.05L490.96,82.11L491.63,82.18L492.30,82.25L492.96,82.32L493.63,82.39L494.29,82.47L494.96,82.54L495.62,82.61L496.29,82.68L496.96,82.75L497.62,82.82L498.29,82.90L498.95,82.97L499.62,83.04L500.28,83.12L500.95,83.19L501.61,83.27L502.28,83.34L502.95,83.41L503.61,83.49L504.28,83.57L504.94,83.64L505.61,83.72L506.27,83.79L506.94,83.87L507.61,83.95L508.27,84.02L508.94,84.10L509.60,84.18L510.27,84.26L510.93,84.33L511.60,84.41L512.26,84.49L512.93,84.57L513.60,84.65L514.26,84.73L514.93,84.81L515.59,84.89L516.26,84.97L516.92,85.05L517.59,85.13L518.26,85.21L518.92,85.29L519.59,85.37L520.25,85.45L520.92,85.53L521.58,85.61L522.25,85.70L522.91,85.78L523.58,85.86L524.25,85.94L524.91,86.03L525.58,86.11L526.24,86.19L526.91,86.28L527.57,86.36L528.24,86.44L528.91,86.53L529.57,86.61L530.24,86.70L530.90,86.78L531.57,86.87L532.23,86.95L532.90,87.04L533.56,87.12L534.23,87.21L534.90,87.29L535.56,87.38L536.23,87.46L536.89,87.55L537.56,87.64L538.22,87.72L538.89,87.81L539.56,87.90L540.22,87.98L540.89,88.07L541.55,88.16L542.22,88.25L542.88,88.33L543.55,88.42L544.21,88.51L544.88,88.60L545.55,88.69L546.21,88.77L546.88,88.86L547.54,88.95L548.21,89.04L548.87,89.13L549.54,89.22L550.21,89.31L550.87,89.40L551.54,89.49L552.20,89.58L552.87,89.67L553.53,89.76L554.20,89.85L554.86,89.94L555.53,90.03L556.20,90.12L556.86,90.21L557.53,90.30L558.19,90.39L558.86,90.48L559.52,90.57L560.19,90.66L560.86,90.76L561.52,90.85L562.19,90.94L562.85,91.03L563.52,91.12L564.18,91.21L564.85,91.31L565.52,91.40L566.18,91.49L566.85,91.58L567.51,91.67L568.18,91.77L568.84,91.86L569.51,91.95L570.17,92.05L570.84,92.14L571.51,92.23L572.17,92.32L572.84,92.42L573.50,92.51L574.17,92.61L574.83,92.70L575.50,92.79L576.17,92.89L576.83,92.98L577.50,93.07L578.16,93.17L578.83,93.26L579.49,93.36L580.16,93.45L580.82,93.54L581.49,93.64L582.16,93.73L582.82,93.83L583.49,93.92L584.15,94.02L584.82,94.11L585.48,94.21L586.15,94.30L586.82,94.40L587.48,94.49L588.15,94.59L588.81,94.68L589.48,94.78L590.14,94.87L590.81,94.97L591.47,95.06L592.14,95.16L592.81,95.26L593.47,95.35L594.14,95.45L594.80,95.54L595.47,95.64L596.13,95.74L596.80,95.83L597.47,95.93L598.13,96.02L598.80,96.12L599.46,96.22L600.13,96.31L600.79,96.41L601.46,96.51L602.12,96.60L602.79,96.70L603.46,96.80L604.12,96.89L604.79,96.99L605.45,97.09L606.12,97.18L606.78,97.28L607.45,97.38L608.12,97.47L608.78,97.57L609.45,97.67L610.11,97.77L610.78,97.86L611.44,97.96L612.11,98.06L612.77,98.16L613.44,98.25L614.11,98.35L614.77,98.45L615.44,98.55L616.10,98.64L616.77,98.74L617.43,98.84L618.10,98.94L618.77,99.03L619.43,99.13L620.10,99.23L620.76,99.33L621.43,99.43L622.09,99.52L622.76,99.62L623.42,99.72L624.09,99.82L624.76,99.92L625.42,100.01L626.09,100.11L626.75,100.21L627.42,100.31L628.08,100.41L628.75,100.51L629.42,100.60L630.08,100.70L630.75,100.80L631.41,100.90L632.08,101.00L632.74,101.10L633.41,101.20L634.07,101.29L634.74,101.39L635.41,101.49L636.07,101.59L636.74,101.69L637.40,101.79L638.07,101.89L638.73,101.99L639.40,102.09L640.07,102.18L640.73,102.28L641.40,102.38L642.06,102.48L642.73,102.58L643.39,102.68L644.06,102.78L644.72,102.88L645.39,102.98L646.06,103.08L646.72,103.18L647.39,103.28L648.05,103.37L648.72,103.47L649.38,103.57L650.05,103.67L650.72,103.77L651.38,103.87L652.05,103.97L652.71,104.07L653.38,104.17L654.04,104.27L654.71,104.37L655.37,104.47L656.04,104.57L656.71,104.67L657.37,104.77L658.04,104.87L658.70,104.97L659.37,105.07L660.03,105.17L660.70,105.27L661.37,105.37L662.03,105.46L662.70,105.56L663.36,105.66L664.03,105.76L664.69,105.86L665.36,105.96L666.02,106.06L666.69,106.16L667.36,106.26L668.02,106.36L668.69,106.46L669.35,106.56L670.02,106.66L670.68,106.76L671.35,106.86L672.02,106.96L672.68,107.06L673.35,107.16L674.01,107.26L674.68,107.36L675.34,107.46L676.01,107.56L676.67,107.66L677.34,107.76L678.01,107.86L678.67,107.97L679.34,108.07L680.00,108.17L680.67,108.27L681.33,108.37L682.00,108.47L682.00,154.70L83.60,154.70Z" fill="#ff8c1a" fill-opacity="0.200" stroke="none"/>
<path d="M83.60,114.49L84.27,114.39L84.93,114.29L85.60,114.20L86.26,114.10L86.93,114.01L87.59,113.91L88.26,113.82L88.93,113.72L89.59,113.63L90.26,113.53L90.92,113.43L91.59,113.34L92.25,113.24L92.92,113.15L93.58,113.05L94.25,112.96L94.92,112.86L95.58,112.77L96.25,112.67L96.91,112.58L97.58,112.48L98.24,112.39L98.91,112.29L99.58,112.20L100.24,112.10L100.91,112.01L101.57,111.91L102.24,111.82L102.90,111.72L103.57,111.63L104.23,111.53L104.90,111.44L105.57,111.34L106.23,111.25L106.90,111.15L107.56,111.06L108.23,110.96L108.89,110.87L109.56,110.78L110.23,110.68L110.89,110.59L111.56,110.49L112.22,110.40L112.89,110.30L113.55,110.21L114.22,110.12L114.88,110.02L115.55,109.93L116.22,109.83L116.88,109.74L117.55,109.65L118.21,109.55L118.88,109.46L119.54,109.36L120.21,109.27L120.88,109.18L121.54,109.08L122.21,108.99L122.87,108.90L123.54,108.80L124.20,108.71L124.87,108.62L125.53,108.52L126.20,108.43L126.87,108.34L127.53,108.24L128.20,108.15L128.86,108.06L129.53,107.96L130.19,107.87L130.86,107.78L131.53,107.69L132.19,107.59L132.86,107.50L133.52,107.41L134.19,107.31L134.85,107.22L135.52,107.13L136.18,107.04L136.85,106.94L137.52,106.85L138.18,106.76L138.85,106.67L139.51,106.58L140.18,106.48L140.84,106.39L141.51,106.30L142.18,106.21L142.84,106.12L143.51,106.02L144.17,105.93L144.84,105.84L145.50,105.75L146.17,105.66L146.83,105.57L147.50,105.47L148.17,105.38L148.83,105.29L149.50,105.20L150.16,105.11L150.83,105.02L151.49,104.93L152.16,104.84L152.83,104.74L153.49,104.65L154.16,104.56L154.82,104.47L155.49,104.38L156.15,104.29L156.82,104.20L157.48,104.11L158.15,104.02L158.82,103.93L159.48,103.84L160.15,103.75L160.81,103.66L161.48,103.57L162.14,103.48L162.81,103.39L163.48,103.30L164.14,103.21L164.81,103.12L165.47,103.03L166.14,102.94L166.80,102.85L167.47,102.76L168.13,102.67L168.80,102.58L169.47,102.49L170.13,102.40L170.80,102.31L171.46,102.22L172.13,102.14L172.79,102.05L173.46,101.96L174.13,101.87L174.79,101.78L175.46,101.69L176.12,101.60L176.79,101.51L177.45,101.43L178.12,101.34L178.78,101.25L179.45,101.16L180.12,101.07L180.78,100.99L181.45,100.90L182.11,100.81L182.78,100.72L183.44,100.64L184.11,100.55L184.78,100.46L185.44,100.37L186.11,100.29L186.77,100.20L187.44,100.11L188.10,100.02L188.77,99.94L189.43,99.85L190.10,99.76L190.77,99.68L191.43,99.59L192.10,99.50L192.76,99.42L193.43,99.33L194.09,99.25L194.76,99.16L195.43,99.07L196.09,98.99L196.76,98.90L197.42,98.82L198.09,98.73L198.75,98.64L199.42,98.56L200.08,98.47L200.75,98.39L201.42,98.30L202.08,98.22L202.75,98.13L203.41,98.05L204.08,97.96L204.74,97.88L205.41,97.80L206.08,97.71L206.74,97.63L207.41,97.54L208.07,97.46L208.74,97.37L209.40,97.29L210.07,97.21L210.74,97.12L211.40,97.04L212.07,96.96L212.73,96.87L213.40,96.79L214.06,96.71L214.73,96.62L215.39,96.54L216.06,96.46L216.73,96.37L217.39,96.29L218.06,96.21L218.72,96.13L219.39,96.05L220.05,95.96L220.72,95.88L221.39,95.80L222.05,95.72L222.72,95.64L223.38,95.55L224.05,95.47L224.71,95.39L225.38,95.31L226.04,95.23L226.71,95.15L227.38,95.07L228.04,94.99L228.71,94.91L229.37,94.83L230.04,94.75L230.70,94.67L231.37,94.59L232.04,94.51L232.70,94.43L233.37,94.35L234.03,94.27L234.70,94.19L235.36,94.11L236.03,94.03L236.69,93.95L237.36,93.87L238.03,93.79L238.69,93.72L239.36,93.64L240.02,93.56L240.69,93.48L241.35,93.40L242.02,93.33L242.69,93.25L243.35,93.17L244.02,93.09L244.68,93.02L245.35,92.94L246.01,92.86L246.68,92.79L247.34,92.71L248.01,92.63L248.68,92.56L249.34,92.48L250.01,92.40L250.67,92.33L251.34,92.25L252.00,92.18L252.67,92.10L253.34,92.03L254.00,91.95L254.67,91.88L255.33,91.80L256.00,91.73L256.66,91.65L257.33,91.58L257.99,91.51L258.66,91.43L259.33,91.36L259.99,91.29L260.66,91.21L261.32,91.14L261.99,91.07L262.65,90.99L263.32,90.92L263.99,90.85L264.65,90.78L265.32,90.70L265.98,90.63L266.65,90.56L267.31,90.49L267.98,90.42L268.64,90.35L269.31,90.27L269.98,90.20L270.64,90.13L271.31,90.06L271.97,89.99L272.64,89.92L273.30,89.85L273.97,89.78L274.64,89.71L275.30,89.64L275.97,89.58L276.63,89.51L277.30,89.44L277.96,89.37L278.63,89.30L279.29,89.23L279.96,89.16L280.63,89.10L281.29,89.03L281.96,88.96L282.62,88.90L283.29,88.83L283.95,88.76L284.62,88.70L285.29,88.63L285.95,88.56L286.62,88.50L287.28,88.43L287.95,88.37L288.61,88.30L289.28,88.24L289.94,88.17L290.61,88.11L291.28,88.04L291.94,87.98L292.61,87.92L293.27,87.85L293.94,87.79L294.60,87.73L295.27,87.66L295.94,87.60L296.60,87.54L297.27,87.48L297.93,87.41L298.60,87.35L299.26,87.29L299.93,87.23L300.59,87.17L301.26,87.11L301.93,87.05L302.59,86.99L303.26,86.93L303.92,86.87L304.59,86.81L305.25,86.75L305.92,86.69L306.59,86.63L307.25,86.58L307.92,86.52L308.58,86.46L309.25,86.40L309.91,86.34L310.58,86.29L311.24,86.23L311.91,86.17L312.58,86.12L313.24,86.06L313.91,86.01L314.57,85.95L315.24,85.90L315.90,85.84L316.57,85.79L317.24,85.73L317.90,85.68L318.57,85.63L319.23,85.57L319.90,85.52L320.56,85.47L321.23,85.42L321.89,85.36L322.56,85.31L323.23,85.26L323.89,85.21L324.56,85.16L325.22,85.11L325.89,85.06L326.55,85.01L327.22,84.96L327.89,84.91L328.55,84.86L329.22,84.81L329.88,84.76L330.55,84.71L331.21,84.67L331.88,84.62L332.55,84.57L333.21,84.53L333.88,84.48L334.54,84.43L335.21,84.39L335.87,84.34L336.54,84.30L337.20,84.25L337.87,84.21L338.54,84.16L339.20,84.12L339.87,84.08L340.53,84.03L341.20,83.99L341.86,83.95L342.53,83.91L343.20,83.87L343.86,83.83L344.53,83.79L345.19,83.75L345.86,83.71L346.52,83.67L347.19,83.63L347.85,83.59L348.52,83.55L349.19,83.51L349.85,83.47L350.52,83.44L351.18,83.40L351.85,83.36L352.51,83.33L353.18,83.29L353.85,83.26L354.51,83.22L355.18,83.19L355.84,83.15L356.51,83.12L357.17,83.09L357.84,83.05L358.50,83.02L359.17,82.99L359.84,82.96L360.50,82.93L361.17,82.90L361.83,82.87L362.50,82.84L363.16,82.81L363.83,82.78L364.50,82.75L365.16,82.72L365.83,82.69L366.49,82.67L367.16,82.64L367.82,82.61L368.49,82.59L369.15,82.56L369.82,82.54L370.49,82.51L371.15,82.49L371.82,82.47L372.48,82.44L373.15,82.42L373.81,82.40L374.48,82.38L375.15,82.36L375.81,82.34L376.48,82.32L377.14,82.30L377.81,82.28L378.47,82.26L379.14,82.24L379.80,82.23L380.47,82.21L381.14,82.19L381.80,82.18L382.47,82.16L383.13,82.15L383.80,82.13L384.46,82.12L385.13,82.11L385.80,82.09L386.46,82.08L387.13,82.07L387.79,82.06L388.46,82.05L389.12,82.04L389.79,82.03L390.45,82.02L391.12,82.01L391.79,82.00L392.45,82.00L393.12,81.99L393.78,81.99L394.45,81.98L395.11,81.98L395.78,81.97L396.45,81.97L397.11,81.97L397.78,81.96L398.44,81.96L399.11,81.96L399.77,81.96L400.44,81.96L401.10,81.96L401.77,81.96L402.44,81.96L403.10,81.97L403.77,81.97L404.43,81.97L405.10,81.98L405.76,81.98L406.43,81.99L407.10,82.00L407.76,82.00L408.43,82.01L409.09,82.02L409.76,82.03L410.42,82.04L411.09,82.05L411.75,82.06L412.42,82.07L413.09,82.09L413.75,82.10L414.42,82.11L415.08,82.13L415.75,82.14L416.41,82.16L417.08,82.18L417.75,82.20L418.41,82.21L419.08,82.23L419.74,82.25L420.41,82.27L421.07,82.30L421.74,82.32L422.40,82.34L423.07,82.36L423.74,82.39L424.40,82.41L425.07,82.44L425.73,82.47L426.40,82.49L427.06,82.52L427.73,82.55L428.40,82.58L429.06,82.61L429.73,82.64L430.39,82.68L431.06,82.71L431.72,82.74L432.39,82.78L433.05,82.81L433.72,82.85L434.39,82.89L435.05,82.93L435.72,82.97L436.38,83.01L437.05,83.05L437.71,83.09L438.38,83.13L439.05,83.17L439.71,83.22L440.38,83.26L441.04,83.31L441.71,83.36L442.37,83.41L443.04,83.45L443.71,83.50L444.37,83.56L445.04,83.61L445.70,83.66L446.37,83.71L447.03,83.77L447.70,83.82L448.36,83.88L449.03,83.94L449.70,84.00L450.36,84.06L451.03,84.12L451.69,84.18L452.36,84.24L453.02,84.30L453.69,84.37L454.36,84.43L455.02,84.50L455.69,84.57L456.35,84.64L457.02,84.70L457.68,84.78L458.35,84.85L459.01,84.92L459.68,84.99L460.35,85.07L461.01,85.14L461.68,85.22L462.34,85.30L463.01,85.38L463.67,85.46L464.34,85.54L465.01,85.62L465.67,85.71L466.34,85.79L467.00,85.88L467.67,85.96L468.33,86.05L469.00,86.14L469.66,86.23L470.33,86.33L471.00,86.42L471.66,86.51L472.33,86.61L472.99,86.70L473.66,86.80L474.32,86.90L474.99,87.00L475.66,87.10L476.32,87.21L476.99,87.31L477.65,87.42L478.32,87.52L478.98,87.63L479.65,87.74L480.31,87.85L480.98,87.96L481.65,88.07L482.31,88.19L482.98,88.30L483.64,88.42L484.31,88.54L484.97,88.66L485.64,88.78L486.31,88.90L486.97,89.03L487.64,89.15L488.30,89.28L488.97,89.41L489.63,89.54L490.30,89.67L490.96,89.80L491.63,89.93L492.30,90.07L492.96,90.20L493.63,90.34L494.29,90.48L494.96,90.62L495.62,90.77L496.29,90.91L496.96,91.05L497.62,91.20L498.29,91.35L498.95,91.50L499.62,91.65L500.28,91.80L500.95,91.96L501.61,92.12L502.28,92.27L502.95,92.43L503.61,92.59L504.28,92.76L504.94,92.92L505.61,93.09L506.27,93.25L506.94,93.42L507.61,93.59L508.27,93.77L508.94,93.94L509.60,94.12L510.27,94.29L510.93,94.47L511.60,94.66L512.26,94.84L512.93,95.02L513.60,95.21L514.26,95.40L514.93,95.59L515.59,95.78L516.26,95.97L516.92,96.17L517.59,96.36L518.26,96.56L518.92,96.76L519.59,96.97L520.25,97.17L520.92,97.38L521.58,97.59L522.25,97.80L522.91,98.01L523.58,98.22L524.25,98.44L524.91,98.66L525.58,98.88L526.24,99.10L526.91,99.32L527.57,99.55L528.24,99.77L528.91,100.00L529.57,100.24L530.24,100.47L530.90,100.71L531.57,100.94L532.23,101.18L532.90,101.43L533.56,101.67L534.23,101.92L534.90,102.17L535.56,102.42L536.23,102.67L536.89,102.92L537.56,103.18L538.22,103.44L538.89,103.70L539.56,103.97L540.22,104.23L540.89,104.50L541.55,104.77L542.22,105.05L542.88,105.32L543.55,105.60L544.21,105.88L544.88,106.16L545.55,106.44L546.21,106.73L546.88,107.02L547.54,107.31L548.21,107.61L548.87,107.90L549.54,108.20L550.21,108.50L550.87,108.81L551.54,109.11L552.20,109.42L552.87,109.74L553.53,110.05L554.20,110.37L554.86,110.68L555.53,111.01L556.20,111.33L556.86,111.66L557.53,111.99L558.19,112.32L558.86,112.65L559.52,112.99L560.19,113.33L560.86,113.68L561.52,114.02L562.19,114.37L562.85,114.72L563.52,115.07L564.18,115.43L564.85,115.79L565.52,116.15L566.18,116.52L566.85,116.89L567.51,117.26L568.18,117.63L568.84,118.01L569.51,118.39L570.17,118.77L570.84,119.16L571.51,119.55L572.17,119.94L572.84,120.33L573.50,120.73L574.17,121.13L574.83,121.54L575.50,121.94L576.17,122.35L576.83,122.77L577.50,123.18L578.16,123.60L578.83,124.02L579.49,124.45L580.16,124.88L580.82,125.31L581.49,125.75L582.16,126.19L582.82,126.63L583.49,127.08L584.15,127.53L584.82,127.98L585.48,128.43L586.15,128.89L586.82,129.36L587.48,129.82L588.15,130.29L588.81,130.77L589.48,131.24L590.14,131.72L590.81,132.21L591.47,132.69L592.14,133.19L592.81,133.68L593.47,134.18L594.14,134.68L594.80,135.19L595.47,135.70L596.13,136.21L596.80,136.73L597.47,137.25L598.13,137.77L598.80,138.30L599.46,138.83L600.13,139.37L600.79,139.91L601.46,140.45L602.12,141.00L602.79,141.56L603.46,142.11L604.12,142.67L604.79,143.24L605.45,143.80L606.12,144.38L606.78,144.95L607.45,145.53L608.12,146.12L608.78,146.71L609.45,147.30L610.11,147.90L610.78,148.50L611.44,149.11L612.11,149.72L612.77,150.33L613.44,150.95L614.11,151.58L614.77,152.21L615.44,152.84L616.10,153.48L616.77,154.12L617.43,154.76L618.10,155.41L618.77,156.07L619.43,156.73L620.10,157.40L620.76,158.07L621.43,158.74L622.09,159.42L622.76,160.10L623.42,160.79L624.09,161.49L624.76,162.18L625.42,162.89L626.09,163.60L626.75,164.31L627.42,165.03L628.08,165.75L628.75,166.48L629.42,167.21L630.08,167.95L630.75,168.70L631.41,169.44L632.08,169.70L632.74,169.70L633.41,169.70L634.07,169.70L634.74,169.70L635.41,169.70L636.07,169.70L636.74,169.70L637.40,169.70L638.07,169.70L638.73,169.70L639.40,169.70L640.07,169.70L640.73,169.70L641.40,169.70L642.06,169.70L642.73,169.70L643.39,169.70L644.06,169.70L644.72,169.70L645.39,169.70L646.06,169.70L646.72,169.70L647.39,169.70L648.05,169.70L648.72,169.70L649.38,169.70L650.05,169.70L650.72,169.70L651.38,169.70L652.05,169.70L652.71,169.70L653.38,169.70L654.04,169.70L654.71,169.70L655.37,169.70L656.04,169.70L656.71,169.70L657.37,169.70L658.04,169.70L658.70,169.70L659.37,169.70L660.03,169.70L660.70,169.70L661.37,169.70L662.03,169.70L662.70,169.70L663.36,169.70L664.03,169.70L664.69,169.70L665.36,169.70L666.02,169.70L666.69,169.70L667.36,169.70L668.02,169.70L668.69,169.70L669.35,169.70L670.02,169.70L670.68,169.70L671.35,169.70L672.02,169.70L672.68,169.70L673.35,169.70L674.01,169.70L674.68,169.70L675.34,169.70L676.01,169.70L676.67,169.70L677.34,169.70L678.01,169.70L678.67,169.70L679.34,169.70L680.00,169.70L680.67,169.70L681.33,169.70L682.00,169.70L682.00,154.70L83.60,154.70Z" fill="#006400" fill-opacity="0.200" stroke="none"/>
<path d="M83.60,113.63L84.27,113.53L84.93,113.43L85.60,113.33L86.26,113.23L86.93,113.13L87.59,113.03L88.26,112.93L88.93,112.83L89.59,112.73L90.26,112.63L90.92,112.53L91.59,112.42L92.25,112.32L92.92,112.22L93.58,112.12L94.25,112.02L94.92,111.92L95.58,111.82L96.25,111.72L96.91,111.62L97.58,111.52L98.24,111.42L98.91,111.32L99.58,111.22L100.24,111.12L100.91,111.02L101.57,110.91L102.24,110.81L102.90,110.71L103.57,110.61L104.23,110.51L104.90,110.41L105.57,110.31L106.23,110.21L106.90,110.11L107.56,110.01L108.23,109.91L108.89,109.81L109.56,109.71L110.23,109.61L110.89,109.51L111.56,109.41L112.22,109.31L112.89,109.21L113.55,109.11L114.22,109.01L114.88,108.91L115.55,108.81L116.22,108.71L116.88,108.60L117.55,108.50L118.21,108.40L118.88,108.30L119.54,108.20L120.21,108.10L120.88,108.00L121.54,107.90L122.21,107.80L122.87,107.70L123.54,107.60L124.20,107.50L124.87,107.40L125.53,107.30L126.20,107.20L126.87,107.10L127.53,107.00L128.20,106.90L128.86,106.80L129.53,106.70L130.19,106.60L130.86,106.50L131.53,106.40L132.19,106.30L132.86,106.20L133.52,106.10L134.19,106.00L134.85,105.90L135.52,105.80L136.18,105.70L136.85,105.60L137.52,105.50L138.18,105.40L138.85,105.30L139.51,105.20L140.18,105.10L140.84,105.00L141.51,104.91L142.18,104.81L142.84,104.71L143.51,104.61L144.17,104.51L144.84,104.41L145.50,104.31L146.17,104.21L146.83,104.11L147.50,104.01L148.17,103.91L148.83,103.81L149.50,103.71L150.16,103.61L150.83,103.51L151.49,103.41L152.16,103.31L152.83,103.21L153.49,103.12L154.16,103.02L154.82,102.92L155.49,102.82L156.15,102.72L156.82,102.62L157.48,102.52L158.15,102.42L158.82,102.32L159.48,102.22L160.15,102.12L160.81,102.03L161.48,101.93L162.14,101.83L162.81,101.73L163.48,101.63L164.14,101.53L164.81,101.43L165.47,101.33L166.14,101.24L166.80,101.14L167.47,101.04L168.13,100.94L168.80,100.84L169.47,100.74L170.13,100.64L170.80,100.55L171.46,100.45L172.13,100.35L172.79,100.25L173.46,100.15L174.13,100.05L174.79,99.96L175.46,99.86L176.12,99.76L176.79,99.66L177.45,99.56L178.12,99.47L178.78,99.37L179.45,99.27L180.12,99.17L180.78,99.07L181.45,98.98L182.11,98.88L182.78,98.78L183.44,98.68L184.11,98.59L184.78,98.49L185.44,98.39L186.11,98.29L186.77,98.20L187.44,98.10L188.10,98.00L188.77,97.90L189.43,97.81L190.10,97.71L190.77,97.61L191.43,97.51L192.10,97.42L192.76,97.32L193.43,97.22L194.09,97.13L194.76,97.03L195.43,96.93L196.09,96.84L196.76,96.74L197.42,96.64L198.09,96.55L198.75,96.45L199.42,96.35L200.08,96.26L200.75,96.16L201.42,96.07L202.08,95.97L202.75,95.87L203.41,95.78L204.08,95.68L204.74,95.59L205.41,95.49L206.08,95.39L206.74,95.30L207.41,95.20L208.07,95.11L208.74,95.01L209.40,94.92L210.07,94.82L210.74,94.73L211.40,94.63L212.07,94.54L212.73,94.44L213.40,94.35L214.06,94.25L214.73,94.16L215.39,94.06L216.06,93.97L216.73,93.87L217.39,93.78L218.06,93.68L218.72,93.59L219.39,93.50L220.05,93.40L220.72,93.31L221.39,93.21L222.05,93.12L222.72,93.03L223.38,92.93L224.05,92.84L224.71,92.75L225.38,92.65L226.04,92.56L226.71,92.47L227.38,92.37L228.04,92.28L228.71,92.19L229.37,92.10L230.04,92.00L230.70,91.91L231.37,91.82L232.04,91.73L232.70,91.63L233.37,91.54L234.03,91.45L234.70,91.36L235.36,91.27L236.03,91.18L236.69,91.08L237.36,90.99L238.03,90.90L238.69,90.81L239.36,90.72L240.02,90.63L240.69,90.54L241.35,90.45L242.02,90.36L242.69,90.27L243.35,90.18L244.02,90.09L244.68,90.00L245.35,89.91L246.01,89.82L246.68,89.73L247.34,89.64L248.01,89.55L248.68,89.46L249.34,89.37L250.01,89.28L250.67,89.20L251.34,89.11L252.00,89.02L252.67,88.93L253.34,88.84L254.00,88.76L254.67,88.67L255.33,88.58L256.00,88.49L256.66,88.41L257.33,88.32L257.99,88.23L258.66,88.15L259.33,88.06L259.99,87.98L260.66,87.89L261.32,87.80L261.99,87.72L262.65,87.63L263.32,87.55L263.99,87.46L264.65,87.38L265.32,87.29L265.98,87.21L266.65,87.13L267.31,87.04L267.98,86.96L268.64,86.88L269.31,86.79L269.98,86.71L270.64,86.63L271.31,86.54L271.97,86.46L272.64,86.38L273.30,86.30L273.97,86.22L274.64,86.13L275.30,86.05L275.97,85.97L276.63,85.89L277.30,85.81L277.96,85.73L278.63,85.65L279.29,85.57L279.96,85.49L280.63,85.41L281.29,85.34L281.96,85.26L282.62,85.18L283.29,85.10L283.95,85.02L284.62,84.95L285.29,84.87L285.95,84.79L286.62,84.72L287.28,84.64L287.95,84.57L288.61,84.49L289.28,84.42L289.94,84.34L290.61,84.27L291.28,84.19L291.94,84.12L292.61,84.04L293.27,83.97L293.94,83.90L294.60,83.83L295.27,83.75L295.94,83.68L296.60,83.61L297.27,83.54L297.93,83.47L298.60,83.40L299.26,83.33L299.93,83.26L300.59,83.19L301.26,83.12L301.93,83.06L302.59,82.99L303.26,82.92L303.92,82.85L304.59,82.79L305.25,82.72L305.92,82.66L306.59,82.59L307.25,82.53L307.92,82.46L308.58,82.40L309.25,82.33L309.91,82.27L310.58,82.21L311.24,82.15L311.91,82.08L312.58,82.02L313.24,81.96L313.91,81.90L314.57,81.84L315.24,81.79L315.90,81.73L316.57,81.67L317.24,81.61L317.90,81.55L318.57,81.50L319.23,81.44L319.90,81.39L320.56,81.33L321.23,81.28L321.89,81.23L322.56,81.17L323.23,81.12L323.89,81.07L324.56,81.02L325.22,80.97L325.89,80.92L326.55,80.87L327.22,80.82L327.89,80.77L328.55,80.73L329.22,80.68L329.88,80.63L330.55,80.59L331.21,80.54L331.88,80.50L332.55,80.46L333.21,80.41L333.88,80.37L334.54,80.33L335.21,80.29L335.87,80.25L336.54,80.21L337.20,80.18L337.87,80.14L338.54,80.10L339.20,80.07L339.87,80.03L340.53,80.00L341.20,79.97L341.86,79.93L342.53,79.90L343.20,79.87L343.86,79.84L344.53,79.81L345.19,79.79L345.86,79.76L346.52,79.73L347.19,79.71L347.85,79.68L348.52,79.66L349.19,79.64L349.85,79.62L350.52,79.60L351.18,79.58L351.85,79.56L352.51,79.54L353.18,79.53L353.85,79.51L354.51,79.50L355.18,79.49L355.84,79.47L356.51,79.46L357.17,79.45L357.84,79.45L358.50,79.44L359.17,79.43L359.84,79.43L360.50,79.42L361.17,79.42L361.83,79.42L362.50,79.42L363.16,79.42L363.83,79.42L364.50,79.43L365.16,79.43L365.83,79.44L366.49,79.45L367.16,79.45L367.82,79.46L368.49,79.48L369.15,79.49L369.82,79.50L370.49,79.52L371.15,79.54L371.82,79.56L372.48,79.58L373.15,79.60L373.81,79.62L374.48,79.65L375.15,79.67L375.81,79.70L376.48,79.73L377.14,79.76L377.81,79.79L378.47,79.83L379.14,79.86L379.80,79.90L380.47,79.94L381.14,79.98L381.80,80.03L382.47,80.07L383.13,80.12L383.80,80.17L384.46,80.22L385.13,80.27L385.80,80.32L386.46,80.38L387.13,80.44L387.79,80.50L388.46,80.56L389.12,80.62L389.79,80.69L390.45,80.76L391.12,80.83L391.79,80.90L392.45,80.97L393.12,81.05L393.78,81.13L394.45,81.21L395.11,81.29L395.78,81.38L396.45,81.47L397.11,81.56L397.78,81.65L398.44,81.74L399.11,81.84L399.77,81.94L400.44,82.04L401.10,82.15L401.77,82.25L402.44,82.36L403.10,82.48L403.77,82.59L404.43,82.71L405.10,82.83L405.76,82.95L406.43,83.08L407.10,83.21L407.76,83.34L408.43,83.47L409.09,83.61L409.76,83.75L410.42,83.89L411.09,84.04L411.75,84.19L412.42,84.34L413.09,84.50L413.75,84.66L414.42,84.82L415.08,84.98L415.75,85.15L416.41,85.32L417.08,85.50L417.75,85.68L418.41,85.86L419.08,86.04L419.74,86.23L420.41,86.43L421.07,86.62L421.74,86.82L422.40,87.03L423.07,87.23L423.74,87.44L424.40,87.66L425.07,87.88L425.73,88.10L426.40,88.33L427.06,88.56L427.73,88.79L428.40,89.03L429.06,89.28L429.73,89.52L430.39,89.77L431.06,90.03L431.72,90.29L432.39,90.56L433.05,90.83L433.72,91.10L434.39,91.38L435.05,91.66L435.72,91.95L436.38,92.24L437.05,92.54L437.71,92.84L438.38,93.15L439.05,93.46L439.71,93.78L440.38,94.11L441.04,94.43L441.71,94.77L442.37,95.11L443.04,95.45L443.71,95.80L444.37,96.16L445.04,96.52L445.70,96.88L446.37,97.26L447.03,97.64L447.70,98.02L448.36,98.41L449.03,98.81L449.70,99.21L450.36,99.62L451.03,100.03L451.69,100.45L452.36,100.88L453.02,101.32L453.69,101.76L454.36,102.20L455.02,102.66L455.69,103.12L456.35,103.59L457.02,104.06L457.68,104.54L458.35,105.03L459.01,105.53L459.68,106.03L460.35,106.55L461.01,107.07L461.68,107.59L462.34,108.13L463.01,108.67L463.67,109.22L464.34,109.78L465.01,110.34L465.67,110.92L466.34,111.50L467.00,112.09L467.67,112.69L468.33,113.30L469.00,113.92L469.66,114.54L470.33,115.18L471.00,115.82L471.66,116.48L472.33,117.14L472.99,117.81L473.66,118.49L474.32,119.18L474.99,119.89L475.66,120.60L476.32,121.32L476.99,122.05L477.65,122.79L478.32,123.54L478.98,124.30L479.65,125.08L480.31,125.86L480.98,126.65L481.65,127.46L482.31,128.28L482.98,129.11L483.64,129.94L484.31,130.80L484.97,131.66L485.64,132.53L486.31,133.42L486.97,134.32L487.64,135.23L488.30,136.15L488.97,137.09L489.63,138.04L490.30,139.00L490.96,139.98L491.63,140.97L492.30,141.97L492.96,142.98L493.63,144.01L494.29,145.06L494.96,146.11L495.62,147.18L496.29,148.27L496.96,149.37L497.62,150.49L498.29,151.62L498.95,152.76L499.62,153.92L500.28,155.10L500.95,156.29L501.61,157.50L502.28,158.72L502.95,159.97L503.61,161.22L504.28,162.50L504.94,163.79L505.61,165.10L506.27,166.42L506.94,167.76L507.61,169.13L508.27,169.70L508.94,169.70L509.60,169.70L510.27,169.70L510.93,169.70L511.60,169.70L512.26,169.70L512.93,169.70L513.60,169.70L514.26,169.70L514.93,169.70L515.59,169.70L516.26,169.70L516.92,169.70L517.59,169.70L518.26,169.70L518.92,169.70L519.59,169.70L520.25,169.70L520.92,169.70L521.58,169.70L522.25,169.70L522.91,169.70L523.58,169.70L524.25,169.70L524.91,169.70L525.58,169.70L526.24,169.70L526.91,169.70L527.57,169.70L528.24,169.70L528.91,169.70L529.57,169.70L530.24,169.70L530.90,169.70L531.57,169.70L532.23,169.70L532.90,169.70L533.56,169.70L534.23,169.70L534.90,169.70L535.56,169.70L536.23,169.70L536.89,169.70L537.56,169.70L538.22,169.70L538.89,169.70L539.56,169.70L540.22,169.70L540.89,169.70L541.55,169.70L542.22,169.70L542.88,169.70L543.55,169.70L544.21,169.70L544.88,169.70L545.55,169.70L546.21,169.70L546.88,169.70L547.54,169.70L548.21,169.70L548.87,169.70L549.54,169.70L550.21,169.70L550.87,169.70L551.54,169.70L552.20,169.70L552.87,169.70L553.53,169.70L554.20,169.70L554.86,169.70L555.53,169.70L556.20,169.70L556.86,169.70L557.53,169.70L558.19,169.70L558.86,169.70L559.52,169.70L560.19,169.70L560.86,169.70L561.52,169.70L562.19,169.70L562.85,169.70L563.52,169.70L564.18,169.70L564.85,169.70L565.52,169.70L566.18,169.70L566.85,169.70L567.51,169.70L568.18,169.70L568.84,169.70L569.51,169.70L570.17,169.70L570.84,169.70L571.51,169.70L572.17,169.70L572.84,169.70L573.50,169.70L574.17,169.70L574.83,169.70L575.50,169.70L576.17,169.70L576.83,169.70L577.50,169.70L578.16,169.70L578.83,169.70L579.49,169.70L580.16,169.70L580.82,169.70L581.49,169.70L582.16,169.70L582.82,169.70L583.49,169.70L584.15,169.70L584.82,169.70L585.48,169.70L586.15,169.70L586.82,169.70L587.48,169.70L588.15,169.70L588.81,169.70L589.48,169.70L590.14,169.70L590.81,169.70L591.47,169.70L592.14,169.70L592.81,169.70L593.47,169.70L594.14,169.70L594.80,169.70L595.47,169.70L596.13,169.70L596.80,169.70L597.47,169.70L598.13,169.70L598.80,169.70L599.46,169.70L600.13,169.70L600.79,169.70L601.46,169.70L602.12,169.70L602.79,169.70L603.46,169.70L604.12,169.70L604.79,169.70L605.45,169.70L606.12,169.70L606.78,169.70L607.45,169.70L608.12,169.70L608.78,169.70L609.45,169.70L610.11,169.70L610.78,169.70L611.44,169.70L612.11,169.70L612.77,169.70L613.44,169.70L614.11,169.70L614.77,169.70L615.44,169.70L616.10,169.70L616.77,169.70L617.43,169.70L618.10,169.70L618.77,169.70L619.43,169.70L620.10,169.70L620.76,169.70L621.43,169.70L622.09,169.70L622.76,169.70L623.42,169.70L624.09,169.70L624.76,169.70L625.42,169.70L626.09,169.70L626.75,169.70L627.42,169.70L628.08,169.70L628.75,169.70L629.42,169.70L630.08,169.70L630.75,169.70L631.41,169.70L632.08,169.70L632.74,169.70L633.41,169.70L634.07,169.70L634.74,169.70L635.41,169.70L636.07,169.70L636.74,169.70L637.40,169.70L638.07,169.70L638.73,169.70L639.40,169.70L640.07,169.70L640.73,169.70L641.40,169.70L642.06,169.70L642.73,169.70L643.39,169.70L644.06,169.70L644.72,169.70L645.39,169.70L646.06,169.70L646.72,169.70L647.39,169.70L648.05,169.70L648.72,169.70L649.38,169.70L650.05,169.70L650.72,169.70L651.38,169.70L652.05,169.70L652.71,169.70L653.38,169.70L654.04,169.70L654.71,169.70L655.37,169.70L656.04,169.70L656.71,169.70L657.37,169.70L658.04,169.70L658.70,169.70L659.37,169.70L660.03,169.70L660.70,169.70L661.37,169.70L662.03,169.70L662.70,169.70L663.36,169.70L664.03,169.70L664.69,169.70L665.36,169.70L666.02,169.70L666.69,169.70L667.36,169.70L668.02,169.70L668.69,169.70L669.35,169.70L670.02,169.70L670.68,169.70L671.35,169.70L672.02,169.70L672.68,169.70L673.35,169.70L674.01,169.70L674.68,169.70L675.34,169.70L676.01,169.70L676.67,169.70L677.34,169.70L678.01,169.70L678.67,169.70L679.34,169.70L680.00,169.70L680.67,169.70L681.33,169.70L682.00,169.70L682.00,154.70L83.60,154.70Z" fill="#800080" fill-opacity="0.200" stroke="none"/>
</g><g clip-path="url(#ca2)">
<path d="M83.60,113.58L84.27,113.48L84.93,113.38L85.60,113.28L86.26,113.18L86.93,113.08L87.59,112.98L88.26,112.87L88.93,112.77L89.59,112.67L90.26,112.57L90.92,112.47L91.59,112.37L92.25,112.27L92.92,112.16L93.58,112.06L94.25,111.96L94.92,111.86L95.58,111.76L96.25,111.66L96.91,111.56L97.58,111.45L98.24,111.35L98.91,111.25L99.58,111.15L100.24,111.05L100.91,110.95L101.57,110.85L102.24,110.75L102.90,110.64L103.57,110.54L104.23,110.44L104.90,110.34L105.57,110.24L106.23,110.14L106.90,110.04L107.56,109.93L108.23,109.83L108.89,109.73L109.56,109.63L110.23,109.53L110.89,109.43L111.56,109.33L112.22,109.22L112.89,109.12L113.55,109.02L114.22,108.92L114.88,108.82L115.55,108.72L116.22,108.62L116.88,108.51L117.55,108.41L118.21,108.31L118.88,108.21L119.54,108.11L120.21,108.01L120.88,107.91L121.54,107.80L122.21,107.70L122.87,107.60L123.54,107.50L124.20,107.40L124.87,107.30L125.53,107.20L126.20,107.09L126.87,106.99L127.53,106.89L128.20,106.79L128.86,106.69L129.53,106.59L130.19,106.49L130.86,106.38L131.53,106.28L132.19,106.18L132.86,106.08L133.52,105.98L134.19,105.88L134.85,105.78L135.52,105.68L136.18,105.57L136.85,105.47L137.52,105.37L138.18,105.27L138.85,105.17L139.51,105.07L140.18,104.97L140.84,104.86L141.51,104.76L142.18,104.66L142.84,104.56L143.51,104.46L144.17,104.36L144.84,104.26L145.50,104.15L146.17,104.05L146.83,103.95L147.50,103.85L148.17,103.75L148.83,103.65L149.50,103.55L150.16,103.44L150.83,103.34L151.49,103.24L152.16,103.14L152.83,103.04L153.49,102.94L154.16,102.84L154.82,102.73L155.49,102.63L156.15,102.53L156.82,102.43L157.48,102.33L158.15,102.23L158.82,102.13L159.48,102.02L160.15,101.92L160.81,101.82L161.48,101.72L162.14,101.62L162.81,101.52L163.48,101.42L164.14,101.31L164.81,101.21L165.47,101.11L166.14,101.01L166.80,100.91L167.47,100.81L168.13,100.71L168.80,100.61L169.47,100.50L170.13,100.40L170.80,100.30L171.46,100.20L172.13,100.10L172.79,100.00L173.46,99.90L174.13,99.79L174.79,99.69L175.46,99.59L176.12,99.49L176.79,99.39L177.45,99.29L178.12,99.19L178.78,99.08L179.45,98.98L180.12,98.88L180.78,98.78L181.45,98.68L182.11,98.58L182.78,98.48L183.44,98.37L184.11,98.27L184.78,98.17L185.44,98.07L186.11,97.97L186.77,97.87L187.44,97.77L188.10,97.66L188.77,97.56L189.43,97.46L190.10,97.36L190.77,97.26L191.43,97.16L192.10,97.06L192.76,96.95L193.43,96.85L194.09,96.75L194.76,96.65L195.43,96.55L196.09,96.45L196.76,96.35L197.42,96.24L198.09,96.14L198.75,96.04L199.42,95.94L200.08,95.84L200.75,95.74L201.42,95.64L202.08,95.54L202.75,95.43L203.41,95.33L204.08,95.23L204.74,95.13L205.41,95.03L206.08,94.93L206.74,94.83L207.41,94.72L208.07,94.62L208.74,94.52L209.40,94.42L210.07,94.32L210.74,94.22L211.40,94.12L212.07,94.01L212.73,93.91L213.40,93.81L214.06,93.71L214.73,93.61L215.39,93.51L216.06,93.41L216.73,93.30L217.39,93.20L218.06,93.10L218.72,93.00L219.39,92.90L220.05,92.80L220.72,92.70L221.39,92.59L222.05,92.49L222.72,92.39L223.38,92.29L224.05,92.19L224.71,92.09L225.38,91.99L226.04,91.88L226.71,91.78L227.38,91.68L228.04,91.58L228.71,91.48L229.37,91.38L230.04,91.28L230.70,91.17L231.37,91.07L232.04,90.97L232.70,90.87L233.37,90.77L234.03,90.67L234.70,90.57L235.36,90.47L236.03,90.36L236.69,90.26L237.36,90.16L238.03,90.06L238.69,89.96L239.36,89.86L240.02,89.76L240.69,89.65L241.35,89.55L242.02,89.45L242.69,89.35L243.35,89.25L244.02,89.15L244.68,89.05L245.35,88.94L246.01,88.84L246.68,88.74L247.34,88.64L248.01,88.54L248.68,88.44L249.34,88.34L250.01,88.23L250.67,88.13L251.34,88.03L252.00,87.93L252.67,87.83L253.34,87.73L254.00,87.63L254.67,87.52L255.33,87.42L256.00,87.32L256.66,87.22L257.33,87.12L257.99,87.02L258.66,86.92L259.33,86.81L259.99,86.71L260.66,86.61L261.32,86.51L261.99,86.41L262.65,86.31L263.32,86.21L263.99,86.10L264.65,86.00L265.32,85.90L265.98,85.80L266.65,85.70L267.31,85.60L267.98,85.50L268.64,85.40L269.31,85.29L269.98,85.19L270.64,85.09L271.31,84.99L271.97,84.89L272.64,84.79L273.30,84.69L273.97,84.58L274.64,84.48L275.30,84.38L275.97,84.28L276.63,84.18L277.30,84.08L277.96,83.98L278.63,83.87L279.29,83.77L279.96,83.67L280.63,83.57L281.29,83.47L281.96,83.37L282.62,83.27L283.29,83.16L283.95,83.06L284.62,82.96L285.29,82.86L285.95,82.76L286.62,82.66L287.28,82.56L287.95,82.45L288.61,82.35L289.28,82.25L289.94,82.15L290.61,82.05L291.28,81.95L291.94,81.85L292.61,81.74L293.27,81.64L293.94,81.54L294.60,81.44L295.27,81.34L295.94,81.24L296.60,81.14L297.27,81.03L297.93,80.93L298.60,80.83L299.26,80.73L299.93,80.63L300.59,80.53L301.26,80.43L301.93,80.33L302.59,80.22L303.26,80.12L303.92,80.02L304.59,79.92L305.25,79.82L305.92,79.72L306.59,79.62L307.25,79.51L307.92,79.41L308.58,79.31L309.25,79.21L309.91,79.11L310.58,79.01L311.24,78.91L311.91,78.80L312.58,78.70L313.24,78.60L313.91,78.50L314.57,78.40L315.24,78.30L315.90,78.20L316.57,78.09L317.24,77.99L317.90,77.89L318.57,77.79L319.23,77.69L319.90,77.59L320.56,77.49L321.23,77.38L321.89,77.28L322.56,77.18L323.23,77.08L323.89,76.98L324.56,76.88L325.22,76.78L325.89,76.67L326.55,76.57L327.22,76.47L327.89,76.37L328.55,76.27L329.22,76.17L329.88,76.07L330.55,75.96L331.21,75.86L331.88,75.76L332.55,75.66L333.21,75.56L333.88,75.46L334.54,75.36L335.21,75.26L335.87,75.15L336.54,75.05L337.20,74.95L337.87,74.85L338.54,74.75L339.20,74.65L339.87,74.55L340.53,74.44L341.20,74.34L341.86,74.24L342.53,74.14L343.20,74.04L343.86,73.94L344.53,73.84L345.19,73.73L345.86,73.63L346.52,73.53L347.19,73.43L347.85,73.33L348.52,73.23L349.19,73.13L349.85,73.02L350.52,72.92L351.18,72.82L351.85,72.72L352.51,72.62L353.18,72.52L353.85,72.42L354.51,72.31L355.18,72.21L355.84,72.11L356.51,72.01L357.17,71.91L357.84,71.81L358.50,71.71L359.17,71.60L359.84,71.50L360.50,71.40L361.17,71.30L361.83,71.20L362.50,71.10L363.16,71.00L363.83,70.89L364.50,70.79L365.16,70.69L365.83,70.59L366.49,70.49L367.16,70.39L367.82,70.29L368.49,70.19L369.15,70.08L369.82,69.98L370.49,69.88L371.15,69.78L371.82,69.68L372.48,69.58L373.15,69.48L373.81,69.37L374.48,69.27L375.15,69.17L375.81,69.07L376.48,68.97L377.14,68.87L377.81,68.77L378.47,68.66L379.14,68.56L379.80,68.46L380.47,68.36L381.14,68.26L381.80,68.16L382.47,68.06L383.13,67.95L383.80,67.85L384.46,67.75L385.13,67.65L385.80,67.55L386.46,67.45L387.13,67.35L387.79,67.24L388.46,67.14L389.12,67.04L389.79,66.94L390.45,66.84L391.12,66.74L391.79,66.64L392.45,66.53L393.12,66.43L393.78,66.33L394.45,66.23L395.11,66.13L395.78,66.03L396.45,65.93L397.11,65.82L397.78,65.72L398.44,65.62L399.11,65.52L399.77,65.42L400.44,65.32L401.10,65.22L401.77,65.12L402.44,65.01L403.10,64.91L403.77,64.81L404.43,64.71L405.10,64.61L405.76,64.51L406.43,64.41L407.10,64.30L407.76,64.20L408.43,64.10L409.09,64.00L409.76,63.90L410.42,63.80L411.09,63.70L411.75,63.59L412.42,63.49L413.09,63.39L413.75,63.29L414.42,63.19L415.08,63.09L415.75,62.99L416.41,62.88L417.08,62.78L417.75,62.68L418.41,62.58L419.08,62.48L419.74,62.38L420.41,62.28L421.07,62.17L421.74,62.07L422.40,61.97L423.07,61.87L423.74,61.77L424.40,61.67L425.07,61.57L425.73,61.46L426.40,61.36L427.06,61.26L427.73,61.16L428.40,61.06L429.06,60.96L429.73,60.86L430.39,60.75L431.06,60.65L431.72,60.55L432.39,60.45L433.05,60.35L433.72,60.25L434.39,60.15L435.05,60.05L435.72,59.94L436.38,59.84L437.05,59.74L437.71,59.64L438.38,59.54L439.05,59.44L439.71,59.34L440.38,59.23L441.04,59.13L441.71,59.03L442.37,58.93L443.04,58.83L443.71,58.73L444.37,58.63L445.04,58.52L445.70,58.42L446.37,58.32L447.03,58.22L447.70,58.12L448.36,58.02L449.03,57.92L449.70,57.81L450.36,57.71L451.03,57.61L451.69,57.51L452.36,57.41L453.02,57.31L453.69,57.21L454.36,57.10L455.02,57.00L455.69,56.90L456.35,56.80L457.02,56.70L457.68,56.60L458.35,56.50L459.01,56.39L459.68,56.29L460.35,56.19L461.01,56.09L461.68,55.99L462.34,55.89L463.01,55.79L463.67,55.68L464.34,55.58L465.01,55.48L465.67,55.38L466.34,55.28L467.00,55.18L467.67,55.08L468.33,54.98L469.00,54.87L469.66,54.77L470.33,54.67L471.00,54.57L471.66,54.47L472.33,54.37L472.99,54.27L473.66,54.16L474.32,54.06L474.99,53.96L475.66,53.86L476.32,53.76L476.99,53.66L477.65,53.56L478.32,53.45L478.98,53.35L479.65,53.25L480.31,53.15L480.98,53.05L481.65,52.95L482.31,52.85L482.98,52.74L483.64,52.64L484.31,52.54L484.97,52.44L485.64,52.34L486.31,52.24L486.97,52.14L487.64,52.03L488.30,51.93L488.97,51.83L489.63,51.73L490.30,51.63L490.96,51.53L491.63,51.43L492.30,51.32L492.96,51.22L493.63,51.12L494.29,51.02L494.96,50.92L495.62,50.82L496.29,50.72L496.96,50.61L497.62,50.51L498.29,50.41L498.95,50.31L499.62,50.21L500.28,50.11L500.95,50.01L501.61,49.91L502.28,49.80L502.95,49.70L503.61,49.60L504.28,49.50L504.94,49.40L505.61,49.30L506.27,49.20L506.94,49.09L507.61,48.99L508.27,48.89L508.94,48.79L509.60,48.69L510.27,48.59L510.93,48.49L511.60,48.38L512.26,48.28L512.93,48.18L513.60,48.08L514.26,47.98L514.93,47.88L515.59,47.78L516.26,47.67L516.92,47.57L517.59,47.47L518.26,47.37L518.92,47.27L519.59,47.17L520.25,47.07L520.92,46.96L521.58,46.86L522.25,46.76L522.91,46.66L523.58,46.56L524.25,46.46L524.91,46.36L525.58,46.25L526.24,46.15L526.91,46.05L527.57,45.95L528.24,45.85L528.91,45.75L529.57,45.65L530.24,45.54L530.90,45.44L531.57,45.34L532.23,45.24L532.90,45.14L533.56,45.04L534.23,44.94L534.90,44.84L535.56,44.73L536.23,44.63L536.89,44.53L537.56,44.43L538.22,44.33L538.89,44.23L539.56,44.13L540.22,44.02L540.89,43.92L541.55,43.82L542.22,43.72L542.88,43.62L543.55,43.52L544.21,43.42L544.88,43.31L545.55,43.21L546.21,43.11L546.88,43.01L547.54,42.91L548.21,42.81L548.87,42.71L549.54,42.60L550.21,42.50L550.87,42.40L551.54,42.30L552.20,42.20L552.87,42.10L553.53,42.00L554.20,41.89L554.86,41.79L555.53,41.69L556.20,41.59L556.86,41.49L557.53,41.39L558.19,41.29L558.86,41.18L559.52,41.08L560.19,40.98L560.86,40.88L561.52,40.78L562.19,40.68L562.85,40.58L563.52,40.47L564.18,40.37L564.85,40.27L565.52,40.17L566.18,40.07L566.85,39.97L567.51,39.87L568.18,39.77L568.84,39.66L569.51,39.56L570.17,39.46L570.84,39.36L571.51,39.26L572.17,39.16L572.84,39.06L573.50,38.95L574.17,38.85L574.83,38.75L575.50,38.65L576.17,38.55L576.83,38.45L577.50,38.35L578.16,38.24L578.83,38.14L579.49,38.04L580.16,37.94L580.82,37.84L581.49,37.74L582.16,37.64L582.82,37.53L583.49,37.43L584.15,37.33L584.82,37.23L585.48,37.13L586.15,37.03L586.82,36.93L587.48,36.82L588.15,36.72L588.81,36.62L589.48,36.52L590.14,36.42L590.81,36.32L591.47,36.22L592.14,36.11L592.81,36.01L593.47,35.91L594.14,35.81L594.80,35.71L595.47,35.61L596.13,35.51L596.80,35.40L597.47,35.30L598.13,35.20L598.80,35.10L599.46,35.00L600.13,34.90L600.79,34.80L601.46,34.70L602.12,34.59L602.79,34.49L603.46,34.39L604.12,34.29L604.79,34.19L605.45,34.09L606.12,33.99L606.78,33.88L607.45,33.78L608.12,33.68L608.78,33.58L609.45,33.48L610.11,33.38L610.78,33.28L611.44,33.17L612.11,33.07L612.77,32.97L613.44,32.87L614.11,32.77L614.77,32.67L615.44,32.57L616.10,32.46L616.77,32.36L617.43,32.26L618.10,32.16L618.77,32.06L619.43,31.96L620.10,31.86L620.76,31.75L621.43,31.65L622.09,31.55L622.76,31.45L623.42,31.35L624.09,31.25L624.76,31.15L625.42,31.04L626.09,30.94L626.75,30.84L627.42,30.74L628.08,30.64L628.75,30.54L629.42,30.44L630.08,30.33L630.75,30.23L631.41,30.13L632.08,30.03L632.74,29.93L633.41,29.83L634.07,29.73L634.74,29.63L635.41,29.52L636.07,29.42L636.74,29.32L637.40,29.22L638.07,29.12L638.73,29.02L639.40,28.92L640.07,28.81L640.73,28.71L641.40,28.61L642.06,28.51L642.73,28.41L643.39,28.31L644.06,28.21L644.72,28.10L645.39,28.00L646.06,27.90L646.72,27.80L647.39,27.70L648.05,27.60L648.72,27.50L649.38,27.39L650.05,27.29L650.72,27.19L651.38,27.09L652.05,26.99L652.71,26.89L653.38,26.79L654.04,26.68L654.71,26.58L655.37,26.48L656.04,26.38L656.71,26.28L657.37,26.18L658.04,26.08L658.70,25.97L659.37,25.87L660.03,25.77L660.70,25.67L661.37,25.57L662.03,25.47L662.70,25.37L663.36,25.26L664.03,25.16L664.69,25.06L665.36,24.96L666.02,24.86L666.69,24.76L667.36,24.66L668.02,24.56L668.69,24.45L669.35,24.35L670.02,24.25L670.68,24.15L671.35,24.05L672.02,23.95L672.68,23.85L673.35,23.74L674.01,23.64L674.68,23.54L675.34,23.44L676.01,23.34L676.67,23.24L677.34,23.14L678.01,23.03L678.67,22.93L679.34,22.83L680.00,22.73L680.67,22.63L681.33,22.53L682.00,22.43" fill="none" stroke="#9bcbde" stroke-width="2.60" stroke-linecap="butt" stroke-linejoin="round"/>
<path d="M83.60,113.49L84.27,113.39L84.93,113.28L85.60,113.18L86.26,113.08L86.93,112.97L87.59,112.87L88.26,112.77L88.93,112.67L89.59,112.56L90.26,112.46L90.92,112.36L91.59,112.26L92.25,112.15L92.92,112.05L93.58,111.95L94.25,111.84L94.92,111.74L95.58,111.64L96.25,111.54L96.91,111.43L97.58,111.33L98.24,111.23L98.91,111.12L99.58,111.02L100.24,110.92L100.91,110.82L101.57,110.71L102.24,110.61L102.90,110.51L103.57,110.40L104.23,110.30L104.90,110.20L105.57,110.09L106.23,109.99L106.90,109.89L107.56,109.78L108.23,109.68L108.89,109.58L109.56,109.47L110.23,109.37L110.89,109.27L111.56,109.16L112.22,109.06L112.89,108.96L113.55,108.85L114.22,108.75L114.88,108.65L115.55,108.54L116.22,108.44L116.88,108.34L117.55,108.23L118.21,108.13L118.88,108.03L119.54,107.92L120.21,107.82L120.88,107.71L121.54,107.61L122.21,107.51L122.87,107.40L123.54,107.30L124.20,107.19L124.87,107.09L125.53,106.99L126.20,106.88L126.87,106.78L127.53,106.67L128.20,106.57L128.86,106.47L129.53,106.36L130.19,106.26L130.86,106.15L131.53,106.05L132.19,105.95L132.86,105.84L133.52,105.74L134.19,105.63L134.85,105.53L135.52,105.42L136.18,105.32L136.85,105.21L137.52,105.11L138.18,105.01L138.85,104.90L139.51,104.80L140.18,104.69L140.84,104.59L141.51,104.48L142.18,104.38L142.84,104.27L143.51,104.17L144.17,104.06L144.84,103.96L145.50,103.85L146.17,103.75L146.83,103.64L147.50,103.54L148.17,103.43L148.83,103.33L149.50,103.22L150.16,103.11L150.83,103.01L151.49,102.90L152.16,102.80L152.83,102.69L153.49,102.59L154.16,102.48L154.82,102.38L155.49,102.27L156.15,102.16L156.82,102.06L157.48,101.95L158.15,101.85L158.82,101.74L159.48,101.63L160.15,101.53L160.81,101.42L161.48,101.31L162.14,101.21L162.81,101.10L163.48,100.99L164.14,100.89L164.81,100.78L165.47,100.67L166.14,100.57L166.80,100.46L167.47,100.35L168.13,100.25L168.80,100.14L169.47,100.03L170.13,99.93L170.80,99.82L171.46,99.71L172.13,99.60L172.79,99.50L173.46,99.39L174.13,99.28L174.79,99.17L175.46,99.06L176.12,98.96L176.79,98.85L177.45,98.74L178.12,98.63L178.78,98.52L179.45,98.42L180.12,98.31L180.78,98.20L181.45,98.09L182.11,97.98L182.78,97.87L183.44,97.76L184.11,97.65L184.78,97.55L185.44,97.44L186.11,97.33L186.77,97.22L187.44,97.11L188.10,97.00L188.77,96.89L189.43,96.78L190.10,96.67L190.77,96.56L191.43,96.45L192.10,96.34L192.76,96.23L193.43,96.12L194.09,96.01L194.76,95.90L195.43,95.79L196.09,95.68L196.76,95.56L197.42,95.45L198.09,95.34L198.75,95.23L199.42,95.12L200.08,95.01L200.75,94.90L201.42,94.78L202.08,94.67L202.75,94.56L203.41,94.45L204.08,94.34L204.74,94.22L205.41,94.11L206.08,94.00L206.74,93.88L207.41,93.77L208.07,93.66L208.74,93.54L209.40,93.43L210.07,93.32L210.74,93.20L211.40,93.09L212.07,92.97L212.73,92.86L213.40,92.75L214.06,92.63L214.73,92.52L215.39,92.40L216.06,92.29L216.73,92.17L217.39,92.05L218.06,91.94L218.72,91.82L219.39,91.71L220.05,91.59L220.72,91.47L221.39,91.36L222.05,91.24L222.72,91.12L223.38,91.01L224.05,90.89L224.71,90.77L225.38,90.65L226.04,90.53L226.71,90.42L227.38,90.30L228.04,90.18L228.71,90.06L229.37,89.94L230.04,89.82L230.70,89.70L231.37,89.58L232.04,89.46L232.70,89.34L233.37,89.22L234.03,89.10L234.70,88.98L235.36,88.86L236.03,88.73L236.69,88.61L237.36,88.49L238.03,88.37L238.69,88.24L239.36,88.12L240.02,88.00L240.69,87.87L241.35,87.75L242.02,87.63L242.69,87.50L243.35,87.38L244.02,87.25L244.68,87.13L245.35,87.00L246.01,86.87L246.68,86.75L247.34,86.62L248.01,86.49L248.68,86.37L249.34,86.24L250.01,86.11L250.67,85.98L251.34,85.85L252.00,85.73L252.67,85.60L253.34,85.47L254.00,85.34L254.67,85.21L255.33,85.07L256.00,84.94L256.66,84.81L257.33,84.68L257.99,84.55L258.66,84.41L259.33,84.28L259.99,84.15L260.66,84.01L261.32,83.88L261.99,83.74L262.65,83.61L263.32,83.47L263.99,83.33L264.65,83.20L265.32,83.06L265.98,82.92L266.65,82.78L267.31,82.64L267.98,82.51L268.64,82.37L269.31,82.23L269.98,82.08L270.64,81.94L271.31,81.80L271.97,81.66L272.64,81.51L273.30,81.37L273.97,81.23L274.64,81.08L275.30,80.94L275.97,80.79L276.63,80.64L277.30,80.50L277.96,80.35L278.63,80.20L279.29,80.05L279.96,79.90L280.63,79.75L281.29,79.60L281.96,79.45L282.62,79.30L283.29,79.14L283.95,78.99L284.62,78.83L285.29,78.68L285.95,78.52L286.62,78.36L287.28,78.21L287.95,78.05L288.61,77.89L289.28,77.73L289.94,77.57L290.61,77.41L291.28,77.24L291.94,77.08L292.61,76.92L293.27,76.75L293.94,76.58L294.60,76.42L295.27,76.25L295.94,76.08L296.60,75.91L297.27,75.74L297.93,75.57L298.60,75.39L299.26,75.22L299.93,75.05L300.59,74.87L301.26,74.69L301.93,74.51L302.59,74.33L303.26,74.15L303.92,73.97L304.59,73.79L305.25,73.61L305.92,73.42L306.59,73.23L307.25,73.05L307.92,72.86L308.58,72.67L309.25,72.47L309.91,72.28L310.58,72.09L311.24,71.89L311.91,71.69L312.58,71.50L313.24,71.30L313.91,71.09L314.57,70.89L315.24,70.69L315.90,70.48L316.57,70.27L317.24,70.06L317.90,69.85L318.57,69.64L319.23,69.42L319.90,69.21L320.56,68.99L321.23,68.77L321.89,68.55L322.56,68.32L323.23,68.10L323.89,67.87L324.56,67.64L325.22,67.41L325.89,67.17L326.55,66.94L327.22,66.70L327.89,66.46L328.55,66.22L329.22,65.97L329.88,65.73L330.55,65.48L331.21,65.22L331.88,64.97L332.55,64.71L333.21,64.45L333.88,64.19L334.54,63.92L335.21,63.66L335.87,63.39L336.54,63.11L337.20,62.84L337.87,62.56L338.54,62.27L339.20,61.99L339.87,61.70L340.53,61.41L341.20,61.11L341.86,60.81L342.53,60.51L343.20,60.20L343.86,59.89L344.53,59.58L345.19,59.26L345.86,58.94L346.52,58.61L347.19,58.28L347.85,57.95L348.52,57.61L349.19,57.27L349.85,56.92L350.52,56.57L351.18,56.21L351.85,55.85L352.51,55.48L353.18,55.11L353.85,54.73L354.51,54.35L355.18,53.96L355.84,53.56L356.51,53.16L357.17,52.76L357.84,52.34L358.50,51.93L359.17,51.50L359.84,51.07L360.50,50.63L361.17,50.18L361.83,49.73L362.50,49.27L363.16,48.80L363.83,48.32L364.50,47.84L365.16,47.34L365.83,46.84L366.49,46.33L367.16,45.81L367.82,45.28L368.49,44.74L369.15,44.19L369.82,43.63L370.49,43.06L371.15,42.48L371.82,41.88L372.48,41.28L373.15,40.66L373.81,40.04L374.48,39.40L375.15,38.74L375.81,38.07L376.48,37.39L377.14,36.70L377.81,35.99L378.47,35.27L379.14,34.53L379.80,33.78L380.47,33.01L381.14,32.23L381.80,31.44L382.47,30.62L383.13,29.80L383.80,28.96L384.46,28.10L385.13,27.23L385.80,26.35L386.46,25.46L387.13,24.56L387.79,23.65L388.46,22.73L389.12,21.82L389.79,20.90L390.45,19.99L391.12,19.09L391.79,18.21L392.45,17.34L393.12,16.51L393.78,15.72L394.45,14.98L395.11,14.30L395.78,13.69L396.45,13.16L397.11,12.73L397.78,12.39L398.44,12.17L399.11,12.06L399.77,12.08L400.44,12.22L401.10,12.48L401.77,12.86L402.44,13.36L403.10,13.96L403.77,14.66L404.43,15.44L405.10,16.30L405.76,17.22L406.43,18.20L407.10,19.22L407.76,20.27L408.43,21.35L409.09,22.45L409.76,23.56L410.42,24.67L411.09,25.80L411.75,26.91L412.42,28.03L413.09,29.14L413.75,30.24L414.42,31.32L415.08,32.40L415.75,33.46L416.41,34.51L417.08,35.55L417.75,36.57L418.41,37.57L419.08,38.56L419.74,39.54L420.41,40.50L421.07,41.44L421.74,42.37L422.40,43.29L423.07,44.19L423.74,45.08L424.40,45.95L425.07,46.82L425.73,47.66L426.40,48.50L427.06,49.32L427.73,50.14L428.40,50.94L429.06,51.72L429.73,52.50L430.39,53.27L431.06,54.02L431.72,54.77L432.39,55.51L433.05,56.23L433.72,56.95L434.39,57.66L435.05,58.36L435.72,59.05L436.38,59.73L437.05,60.41L437.71,61.08L438.38,61.73L439.05,62.39L439.71,63.03L440.38,63.67L441.04,64.30L441.71,64.92L442.37,65.54L443.04,66.15L443.71,66.76L444.37,67.36L445.04,67.95L445.70,68.54L446.37,69.12L447.03,69.70L447.70,70.27L448.36,70.84L449.03,71.40L449.70,71.96L450.36,72.51L451.03,73.06L451.69,73.60L452.36,74.14L453.02,74.67L453.69,75.20L454.36,75.73L455.02,76.25L455.69,76.77L456.35,77.28L457.02,77.79L457.68,78.30L458.35,78.80L459.01,79.30L459.68,79.80L460.35,80.29L461.01,80.78L461.68,81.27L462.34,81.75L463.01,82.23L463.67,82.71L464.34,83.19L465.01,83.66L465.67,84.13L466.34,84.59L467.00,85.06L467.67,85.52L468.33,85.98L469.00,86.43L469.66,86.89L470.33,87.34L471.00,87.79L471.66,88.23L472.33,88.68L472.99,89.12L473.66,89.56L474.32,90.00L474.99,90.43L475.66,90.86L476.32,91.29L476.99,91.72L477.65,92.15L478.32,92.58L478.98,93.00L479.65,93.42L480.31,93.84L480.98,94.26L481.65,94.68L482.31,95.09L482.98,95.50L483.64,95.92L484.31,96.32L484.97,96.73L485.64,97.14L486.31,97.54L486.97,97.95L487.64,98.35L488.30,98.75L488.97,99.15L489.63,99.55L490.30,99.94L490.96,100.34L491.63,100.73L492.30,101.12L492.96,101.52L493.63,101.91L494.29,102.29L494.96,102.68L495.62,103.07L496.29,103.45L496.96,103.84L497.62,104.22L498.29,104.60L498.95,104.98L499.62,105.36L500.28,105.74L500.95,106.12L501.61,106.49L502.28,106.87L502.95,107.24L503.61,107.61L504.28,107.99L504.94,108.36L505.61,108.73L506.27,109.10L506.94,109.47L507.61,109.83L508.27,110.20L508.94,110.57L509.60,110.93L510.27,111.29L510.93,111.66L511.60,112.02L512.26,112.38L512.93,112.74L513.60,113.10L514.26,113.46L514.93,113.82L515.59,114.18L516.26,114.53L516.92,114.89L517.59,115.25L518.26,115.60L518.92,115.96L519.59,116.31L520.25,116.66L520.92,117.01L521.58,117.37L522.25,117.72L522.91,118.07L523.58,118.42L524.25,118.77L524.91,119.11L525.58,119.46L526.24,119.81L526.91,120.16L527.57,120.50L528.24,120.85L528.91,121.19L529.57,121.54L530.24,121.88L530.90,122.23L531.57,122.57L532.23,122.91L532.90,123.25L533.56,123.59L534.23,123.93L534.90,124.28L535.56,124.62L536.23,124.95L536.89,125.29L537.56,125.63L538.22,125.97L538.89,126.31L539.56,126.65L540.22,126.98L540.89,127.32L541.55,127.65L542.22,127.99L542.88,128.32L543.55,128.66L544.21,128.99L544.88,129.33L545.55,129.66L546.21,129.99L546.88,130.33L547.54,130.66L548.21,130.99L548.87,131.32L549.54,131.65L550.21,131.99L550.87,132.32L551.54,132.65L552.20,132.98L552.87,133.31L553.53,133.64L554.20,133.96L554.86,134.29L555.53,134.62L556.20,134.95L556.86,135.28L557.53,135.60L558.19,135.93L558.86,136.26L559.52,136.58L560.19,136.91L560.86,137.24L561.52,137.56L562.19,137.89L562.85,138.21L563.52,138.54L564.18,138.86L564.85,139.19L565.52,139.51L566.18,139.83L566.85,140.16L567.51,140.48L568.18,140.80L568.84,141.13L569.51,141.45L570.17,141.77L570.84,142.09L571.51,142.42L572.17,142.74L572.84,143.06L573.50,143.38L574.17,143.70L574.83,144.02L575.50,144.34L576.17,144.66L576.83,144.98L577.50,145.30L578.16,145.62L578.83,145.94L579.49,146.26L580.16,146.58L580.82,146.90L581.49,147.22L582.16,147.54L582.82,147.86L583.49,148.18L584.15,148.49L584.82,148.81L585.48,149.13L586.15,149.45L586.82,149.76L587.48,150.08L588.15,150.40L588.81,150.72L589.48,151.03L590.14,151.35L590.81,151.67L591.47,151.98L592.14,152.30L592.81,152.61L593.47,152.93L594.14,153.25L594.80,153.56L595.47,153.88L596.13,154.19L596.80,154.51L597.47,154.82L598.13,155.14L598.80,155.45L599.46,155.77L600.13,156.08L600.79,156.40L601.46,156.71L602.12,157.02L602.79,157.34L603.46,157.65L604.12,157.97L604.79,158.28L605.45,158.59L606.12,158.91L606.78,159.22L607.45,159.53L608.12,159.85L608.78,160.16L609.45,160.47L610.11,160.78L610.78,161.10L611.44,161.41L612.11,161.72L612.77,162.03L613.44,162.35L614.11,162.66L614.77,162.97L615.44,163.28L616.10,163.59L616.77,163.91L617.43,164.22L618.10,164.53L618.77,164.84L619.43,165.15L620.10,165.46L620.76,165.77L621.43,166.09L622.09,166.40L622.76,166.71L623.42,167.02L624.09,167.33L624.76,167.64L625.42,167.95L626.09,168.26L626.75,168.57L627.42,168.88L628.08,169.19L628.75,169.50L629.42,169.70L630.08,169.70L630.75,169.70L631.41,169.70L632.08,169.70L632.74,169.70L633.41,169.70L634.07,169.70L634.74,169.70L635.41,169.70L636.07,169.70L636.74,169.70L637.40,169.70L638.07,169.70L638.73,169.70L639.40,169.70L640.07,169.70L640.73,169.70L641.40,169.70L642.06,169.70L642.73,169.70L643.39,169.70L644.06,169.70L644.72,169.70L645.39,169.70L646.06,169.70L646.72,169.70L647.39,169.70L648.05,169.70L648.72,169.70L649.38,169.70L650.05,169.70L650.72,169.70L651.38,169.70L652.05,169.70L652.71,169.70L653.38,169.70L654.04,169.70L654.71,169.70L655.37,169.70L656.04,169.70L656.71,169.70L657.37,169.70L658.04,169.70L658.70,169.70L659.37,169.70L660.03,169.70L660.70,169.70L661.37,169.70L662.03,169.70L662.70,169.70L663.36,169.70L664.03,169.70L664.69,169.70L665.36,169.70L666.02,169.70L666.69,169.70L667.36,169.70L668.02,169.70L668.69,169.70L669.35,169.70L670.02,169.70L670.68,169.70L671.35,169.70L672.02,169.70L672.68,169.70L673.35,169.70L674.01,169.70L674.68,169.70L675.34,169.70L676.01,169.70L676.67,169.70L677.34,169.70L678.01,169.70L678.67,169.70L679.34,169.70L680.00,169.70L680.67,169.70L681.33,169.70L682.00,169.70" fill="none" stroke="#aa1e05" stroke-width="3.10" stroke-linecap="butt" stroke-linejoin="round"/>
<path d="M83.60,113.58L84.27,113.48L84.93,113.38L85.60,113.28L86.26,113.18L86.93,113.08L87.59,112.98L88.26,112.87L88.93,112.77L89.59,112.67L90.26,112.57L90.92,112.47L91.59,112.37L92.25,112.27L92.92,112.16L93.58,112.06L94.25,111.96L94.92,111.86L95.58,111.76L96.25,111.66L96.91,111.56L97.58,111.45L98.24,111.35L98.91,111.25L99.58,111.15L100.24,111.05L100.91,110.95L101.57,110.85L102.24,110.75L102.90,110.64L103.57,110.54L104.23,110.44L104.90,110.34L105.57,110.24L106.23,110.14L106.90,110.04L107.56,109.93L108.23,109.83L108.89,109.73L109.56,109.63L110.23,109.53L110.89,109.43L111.56,109.33L112.22,109.22L112.89,109.12L113.55,109.02L114.22,108.92L114.88,108.82L115.55,108.72L116.22,108.62L116.88,108.51L117.55,108.41L118.21,108.31L118.88,108.21L119.54,108.11L120.21,108.01L120.88,107.91L121.54,107.80L122.21,107.70L122.87,107.60L123.54,107.50L124.20,107.40L124.87,107.30L125.53,107.20L126.20,107.09L126.87,106.99L127.53,106.89L128.20,106.79L128.86,106.69L129.53,106.59L130.19,106.49L130.86,106.38L131.53,106.28L132.19,106.18L132.86,106.08L133.52,105.98L134.19,105.88L134.85,105.78L135.52,105.68L136.18,105.57L136.85,105.47L137.52,105.37L138.18,105.27L138.85,105.17L139.51,105.07L140.18,104.97L140.84,104.86L141.51,104.76L142.18,104.66L142.84,104.56L143.51,104.46L144.17,104.36L144.84,104.26L145.50,104.15L146.17,104.05L146.83,103.95L147.50,103.85L148.17,103.75L148.83,103.65L149.50,103.55L150.16,103.44L150.83,103.34L151.49,103.24L152.16,103.14L152.83,103.04L153.49,102.94L154.16,102.84L154.82,102.73L155.49,102.63L156.15,102.53L156.82,102.43L157.48,102.33L158.15,102.23L158.82,102.13L159.48,102.02L160.15,101.92L160.81,101.82L161.48,101.72L162.14,101.62L162.81,101.52L163.48,101.42L164.14,101.31L164.81,101.21L165.47,101.11L166.14,101.01L166.80,100.91L167.47,100.81L168.13,100.71L168.80,100.61L169.47,100.50L170.13,100.40L170.80,100.30L171.46,100.20L172.13,100.10L172.79,100.00L173.46,99.90L174.13,99.79L174.79,99.69L175.46,99.59L176.12,99.49L176.79,99.39L177.45,99.29L178.12,99.19L178.78,99.08L179.45,98.98L180.12,98.88L180.78,98.78L181.45,98.68L182.11,98.58L182.78,98.48L183.44,98.37L184.11,98.27L184.78,98.17L185.44,98.07L186.11,97.97L186.77,97.87L187.44,97.77L188.10,97.66L188.77,97.56L189.43,97.46L190.10,97.36L190.77,97.26L191.43,97.16L192.10,97.06L192.76,96.95L193.43,96.85L194.09,96.75L194.76,96.65L195.43,96.55L196.09,96.45L196.76,96.35L197.42,96.24L198.09,96.14L198.75,96.04L199.42,95.94L200.08,95.84L200.75,95.74L201.42,95.64L202.08,95.54L202.75,95.43L203.41,95.33L204.08,95.23L204.74,95.13L205.41,95.03L206.08,94.93L206.74,94.83L207.41,94.72L208.07,94.62L208.74,94.52L209.40,94.42L210.07,94.32L210.74,94.22L211.40,94.12L212.07,94.01L212.73,93.91L213.40,93.81L214.06,93.71L214.73,93.61L215.39,93.51L216.06,93.41L216.73,93.30L217.39,93.20L218.06,93.10L218.72,93.00L219.39,92.90L220.05,92.80L220.72,92.70L221.39,92.59L222.05,92.49L222.72,92.39L223.38,92.29L224.05,92.19L224.71,92.09L225.38,91.99L226.04,91.88L226.71,91.78L227.38,91.68L228.04,91.58L228.71,91.48L229.37,91.38L230.04,91.28L230.70,91.17L231.37,91.07L232.04,90.97L232.70,90.87L233.37,90.77L234.03,90.67L234.70,90.57L235.36,90.47L236.03,90.36L236.69,90.26L237.36,90.16L238.03,90.06L238.69,89.96L239.36,89.86L240.02,89.76L240.69,89.65L241.35,89.55L242.02,89.45L242.69,89.35L243.35,89.25L244.02,89.15L244.68,89.05L245.35,88.94L246.01,88.84L246.68,88.74L247.34,88.64L248.01,88.54L248.68,88.44L249.34,88.34L250.01,88.23L250.67,88.13L251.34,88.03L252.00,87.93L252.67,87.83L253.34,87.73L254.00,87.63L254.67,87.52L255.33,87.42L256.00,87.32L256.66,87.22L257.33,87.12L257.99,87.02L258.66,86.92L259.33,86.81L259.99,86.71L260.66,86.61L261.32,86.51L261.99,86.41L262.65,86.31L263.32,86.21L263.99,86.10L264.65,86.00L265.32,85.90L265.98,85.80L266.65,85.70L267.31,85.60L267.98,85.50L268.64,85.40L269.31,85.29L269.98,85.19L270.64,85.09L271.31,84.99L271.97,84.89L272.64,84.79L273.30,84.69L273.97,84.58L274.64,84.48L275.30,84.38L275.97,84.28L276.63,84.18L277.30,84.08L277.96,83.98L278.63,83.87L279.29,83.77L279.96,83.67L280.63,83.57L281.29,83.47L281.96,83.37L282.62,83.27L283.29,83.16L283.95,83.06L284.62,82.96L285.29,82.86L285.95,82.76L286.62,82.66L287.28,82.56L287.95,82.45L288.61,82.35L289.28,82.25L289.94,82.15L290.61,82.05L291.28,81.95L291.94,81.85L292.61,81.74L293.27,81.64L293.94,81.54L294.60,81.44L295.27,81.34L295.94,81.24L296.60,81.14L297.27,81.03L297.93,80.93L298.60,80.83L299.26,80.73L299.93,80.63L300.59,80.53L301.26,80.43L301.93,80.33L302.59,80.22L303.26,80.12L303.92,80.02L304.59,79.92L305.25,79.82L305.92,79.72L306.59,79.62L307.25,79.51L307.92,79.41L308.58,79.31L309.25,79.21L309.91,79.11L310.58,79.01L311.24,78.91L311.91,78.80L312.58,78.70L313.24,78.60L313.91,78.50L314.57,78.40L315.24,78.30L315.90,78.20L316.57,78.09L317.24,77.99L317.90,77.89L318.57,77.79L319.23,77.69L319.90,77.59L320.56,77.49L321.23,77.38L321.89,77.28L322.56,77.18L323.23,77.08L323.89,76.98L324.56,76.88L325.22,76.78L325.89,76.67L326.55,76.57L327.22,76.47L327.89,76.37L328.55,76.27L329.22,76.17L329.88,76.07L330.55,75.96L331.21,75.86L331.88,75.76L332.55,75.66L333.21,75.56L333.88,75.46L334.54,75.36L335.21,75.26L335.87,75.15L336.54,75.05L337.20,74.95L337.87,74.85L338.54,74.75L339.20,74.65L339.87,74.55L340.53,74.44L341.20,74.34L341.86,74.24L342.53,74.14L343.20,74.04L343.86,73.94L344.53,73.84L345.19,73.73L345.86,73.63L346.52,73.53L347.19,73.43L347.85,73.33L348.52,73.23L349.19,73.13L349.85,73.02L350.52,72.92L351.18,72.82L351.85,72.72L352.51,72.62L353.18,72.52L353.85,72.42L354.51,72.31L355.18,72.21L355.84,72.11L356.51,72.01L357.17,71.91L357.84,71.81L358.50,71.71L359.17,71.60L359.84,71.50L360.50,71.40L361.17,71.30L361.83,71.20L362.50,71.10L363.16,71.00L363.83,70.89L364.50,70.79L365.16,70.69L365.83,70.59L366.49,70.49L367.16,70.39L367.82,70.29L368.49,70.19L369.15,70.08L369.82,69.98L370.49,69.88L371.15,69.78L371.82,69.68L372.48,69.58L373.15,69.48L373.81,69.37L374.48,69.27L375.15,69.17L375.81,69.07L376.48,68.97L377.14,68.87L377.81,68.77L378.47,68.66L379.14,68.56L379.80,68.46L380.47,68.36L381.14,68.26L381.80,68.16L382.47,68.06L383.13,67.95L383.80,67.85L384.46,67.75L385.13,67.65L385.80,67.55L386.46,67.45L387.13,67.35L387.79,67.24L388.46,67.14L389.12,67.04L389.79,66.94L390.45,66.84L391.12,66.74L391.79,66.64L392.45,66.53L393.12,66.43L393.78,66.33L394.45,66.23L395.11,66.13L395.78,66.03L396.45,65.93L397.11,65.82L397.78,65.72L398.44,65.62L399.11,65.52L399.77,65.42L399.90,65.40" fill="none" stroke="#00008b" stroke-width="3.00" stroke-dasharray="10,4" stroke-linecap="butt" stroke-linejoin="round"/>
<path d="M83.60,113.63L84.27,113.53L84.93,113.43L85.60,113.33L86.26,113.23L86.93,113.13L87.59,113.03L88.26,112.93L88.93,112.83L89.59,112.73L90.26,112.63L90.92,112.53L91.59,112.42L92.25,112.32L92.92,112.22L93.58,112.12L94.25,112.02L94.92,111.92L95.58,111.82L96.25,111.72L96.91,111.62L97.58,111.52L98.24,111.42L98.91,111.32L99.58,111.22L100.24,111.12L100.91,111.02L101.57,110.91L102.24,110.81L102.90,110.71L103.57,110.61L104.23,110.51L104.90,110.41L105.57,110.31L106.23,110.21L106.90,110.11L107.56,110.01L108.23,109.91L108.89,109.81L109.56,109.71L110.23,109.61L110.89,109.51L111.56,109.41L112.22,109.31L112.89,109.21L113.55,109.11L114.22,109.01L114.88,108.91L115.55,108.81L116.22,108.71L116.88,108.60L117.55,108.50L118.21,108.40L118.88,108.30L119.54,108.20L120.21,108.10L120.88,108.00L121.54,107.90L122.21,107.80L122.87,107.70L123.54,107.60L124.20,107.50L124.87,107.40L125.53,107.30L126.20,107.20L126.87,107.10L127.53,107.00L128.20,106.90L128.86,106.80L129.53,106.70L130.19,106.60L130.86,106.50L131.53,106.40L132.19,106.30L132.86,106.20L133.52,106.10L134.19,106.00L134.85,105.90L135.52,105.80L136.18,105.70L136.85,105.60L137.52,105.50L138.18,105.40L138.85,105.30L139.51,105.20L140.18,105.10L140.84,105.00L141.51,104.90L142.18,104.80L142.84,104.71L143.51,104.61L144.17,104.51L144.84,104.41L145.50,104.31L146.17,104.21L146.83,104.11L147.50,104.01L148.17,103.91L148.83,103.81L149.50,103.71L150.16,103.61L150.83,103.51L151.49,103.41L152.16,103.31L152.83,103.21L153.49,103.11L154.16,103.01L154.82,102.92L155.49,102.82L156.15,102.72L156.82,102.62L157.48,102.52L158.15,102.42L158.82,102.32L159.48,102.22L160.15,102.12L160.81,102.02L161.48,101.93L162.14,101.83L162.81,101.73L163.48,101.63L164.14,101.53L164.81,101.43L165.47,101.33L166.14,101.23L166.80,101.13L167.47,101.04L168.13,100.94L168.80,100.84L169.47,100.74L170.13,100.64L170.80,100.54L171.46,100.45L172.13,100.35L172.79,100.25L173.46,100.15L174.13,100.05L174.79,99.95L175.46,99.86L176.12,99.76L176.79,99.66L177.45,99.56L178.12,99.46L178.78,99.36L179.45,99.27L180.12,99.17L180.78,99.07L181.45,98.97L182.11,98.88L182.78,98.78L183.44,98.68L184.11,98.58L184.78,98.48L185.44,98.39L186.11,98.29L186.77,98.19L187.44,98.09L188.10,98.00L188.77,97.90L189.43,97.80L190.10,97.71L190.77,97.61L191.43,97.51L192.10,97.41L192.76,97.32L193.43,97.22L194.09,97.12L194.76,97.03L195.43,96.93L196.09,96.83L196.76,96.74L197.42,96.64L198.09,96.54L198.75,96.45L199.42,96.35L200.08,96.25L200.75,96.16L201.42,96.06L202.08,95.96L202.75,95.87L203.41,95.77L204.08,95.68L204.74,95.58L205.41,95.48L206.08,95.39L206.74,95.29L207.41,95.20L208.07,95.10L208.74,95.01L209.40,94.91L210.07,94.81L210.74,94.72L211.40,94.62L212.07,94.53L212.73,94.43L213.40,94.34L214.06,94.24L214.73,94.15L215.39,94.05L216.06,93.96L216.73,93.86L217.39,93.77L218.06,93.67L218.72,93.58L219.39,93.49L220.05,93.39L220.72,93.30L221.39,93.20L222.05,93.11L222.72,93.02L223.38,92.92L224.05,92.83L224.71,92.73L225.38,92.64L226.04,92.55L226.71,92.45L227.38,92.36L228.04,92.27L228.71,92.17L229.37,92.08L230.04,91.99L230.70,91.90L231.37,91.80L232.04,91.71L232.70,91.62L233.37,91.53L234.03,91.43L234.70,91.34L235.36,91.25L236.03,91.16L236.69,91.06L237.36,90.97L238.03,90.88L238.69,90.79L239.36,90.70L240.02,90.61L240.69,90.52L241.35,90.42L242.02,90.33L242.69,90.24L243.35,90.15L244.02,90.06L244.68,89.97L245.35,89.88L246.01,89.79L246.68,89.70L247.34,89.61L248.01,89.52L248.68,89.43L249.34,89.34L250.01,89.25L250.67,89.16L251.34,89.07L252.00,88.99L252.67,88.90L253.34,88.81L254.00,88.72L254.67,88.63L255.33,88.54L256.00,88.45L256.66,88.37L257.33,88.28L257.99,88.19L258.66,88.10L259.33,88.02L259.99,87.93L260.66,87.84L261.32,87.76L261.99,87.67L262.65,87.58L263.32,87.50L263.99,87.41L264.65,87.32L265.32,87.24L265.98,87.15L266.65,87.07L267.31,86.98L267.98,86.90L268.64,86.81L269.31,86.73L269.98,86.64L270.64,86.56L271.31,86.48L271.97,86.39L272.64,86.31L273.30,86.22L273.97,86.14L274.64,86.06L275.30,85.97L275.97,85.89L276.63,85.81L277.30,85.73L277.96,85.65L278.63,85.56L279.29,85.48L279.96,85.40L280.63,85.32L281.29,85.24L281.96,85.16L282.62,85.08L283.29,85.00L283.95,84.92L284.62,84.84L285.29,84.76L285.95,84.68L286.62,84.60L287.28,84.52L287.95,84.44L288.61,84.36L289.28,84.28L289.94,84.21L290.61,84.13L291.28,84.05L291.94,83.98L292.61,83.90L293.27,83.82L293.94,83.75L294.60,83.67L295.27,83.59L295.94,83.52L296.60,83.44L297.27,83.37L297.93,83.29L298.60,83.22L299.26,83.15L299.93,83.07L300.59,83.00L301.26,82.93L301.93,82.85L302.59,82.78L303.26,82.71L303.92,82.64L304.59,82.56L305.25,82.49L305.92,82.42L306.59,82.35L307.25,82.28L307.92,82.21L308.58,82.14L309.25,82.07L309.91,82.00L310.58,81.93L311.24,81.87L311.91,81.80L312.58,81.73L313.24,81.66L313.91,81.60L314.57,81.53L315.24,81.46L315.90,81.40L316.57,81.33L317.24,81.27L317.90,81.20L318.57,81.14L319.23,81.07L319.90,81.01L320.56,80.95L321.23,80.88L321.89,80.82L322.56,80.76L323.23,80.70L323.89,80.63L324.56,80.57L325.22,80.51L325.89,80.45L326.55,80.39L327.22,80.33L327.89,80.27L328.55,80.22L329.22,80.16L329.88,80.10L330.55,80.04L331.21,79.98L331.88,79.93L332.55,79.87L333.21,79.82L333.88,79.76L334.54,79.71L335.21,79.65L335.87,79.60L336.54,79.55L337.20,79.49L337.87,79.44L338.54,79.39L339.20,79.34L339.87,79.28L340.53,79.23L341.20,79.18L341.86,79.13L342.53,79.08L343.20,79.04L343.86,78.99L344.53,78.94L345.19,78.89L345.86,78.85L346.52,78.80L347.19,78.75L347.85,78.71L348.52,78.66L349.19,78.62L349.85,78.57L350.52,78.53L351.18,78.49L351.85,78.45L352.51,78.40L353.18,78.36L353.85,78.32L354.51,78.28L355.18,78.24L355.84,78.20L356.51,78.16L357.17,78.13L357.84,78.09L358.50,78.05L359.17,78.01L359.84,77.98L360.50,77.94L361.17,77.91L361.83,77.87L362.50,77.84L363.16,77.81L363.83,77.77L364.50,77.74L365.16,77.71L365.83,77.68L366.49,77.65L367.16,77.62L367.82,77.59L368.49,77.56L369.15,77.53L369.82,77.50L370.49,77.48L371.15,77.45L371.82,77.42L372.48,77.40L373.15,77.37L373.81,77.35L374.48,77.33L375.15,77.30L375.81,77.28L376.48,77.26L377.14,77.24L377.81,77.22L378.47,77.20L379.14,77.18L379.80,77.16L380.47,77.14L381.14,77.12L381.80,77.11L382.47,77.09L383.13,77.07L383.80,77.06L384.46,77.04L385.13,77.03L385.80,77.02L386.46,77.00L387.13,76.99L387.79,76.98L388.46,76.97L389.12,76.96L389.79,76.95L390.45,76.94L391.12,76.93L391.79,76.92L392.45,76.92L393.12,76.91L393.78,76.90L394.45,76.90L395.11,76.89L395.78,76.89L396.45,76.89L397.11,76.88L397.78,76.88L398.44,76.88L399.11,76.88L399.77,76.88L400.44,76.88L401.10,76.88L401.77,76.88L402.44,76.88L403.10,76.89L403.77,76.89L404.43,76.89L405.10,76.90L405.76,76.90L406.43,76.91L407.10,76.91L407.76,76.92L408.43,76.93L409.09,76.94L409.76,76.95L410.42,76.96L411.09,76.97L411.75,76.98L412.42,76.99L413.09,77.00L413.75,77.01L414.42,77.03L415.08,77.04L415.75,77.05L416.41,77.07L417.08,77.08L417.75,77.10L418.41,77.12L419.08,77.13L419.74,77.15L420.41,77.17L421.07,77.19L421.74,77.21L422.40,77.23L423.07,77.25L423.74,77.27L424.40,77.30L425.07,77.32L425.73,77.34L426.40,77.37L427.06,77.39L427.73,77.42L428.40,77.44L429.06,77.47L429.73,77.49L430.39,77.52L431.06,77.55L431.72,77.58L432.39,77.61L433.05,77.64L433.72,77.67L434.39,77.70L435.05,77.73L435.72,77.76L436.38,77.79L437.05,77.83L437.71,77.86L438.38,77.89L439.05,77.93L439.71,77.96L440.38,78.00L441.04,78.04L441.71,78.07L442.37,78.11L443.04,78.15L443.71,78.19L444.37,78.23L445.04,78.27L445.70,78.31L446.37,78.35L447.03,78.39L447.70,78.43L448.36,78.47L449.03,78.51L449.70,78.56L450.36,78.60L451.03,78.65L451.69,78.69L452.36,78.74L453.02,78.78L453.69,78.83L454.36,78.87L455.02,78.92L455.69,78.97L456.35,79.02L457.02,79.07L457.68,79.12L458.35,79.16L459.01,79.21L459.68,79.27L460.35,79.32L461.01,79.37L461.68,79.42L462.34,79.47L463.01,79.52L463.67,79.58L464.34,79.63L465.01,79.69L465.67,79.74L466.34,79.80L467.00,79.85L467.67,79.91L468.33,79.96L469.00,80.02L469.66,80.08L470.33,80.14L471.00,80.19L471.66,80.25L472.33,80.31L472.99,80.37L473.66,80.43L474.32,80.49L474.99,80.55L475.66,80.61L476.32,80.67L476.99,80.73L477.65,80.80L478.32,80.86L478.98,80.92L479.65,80.98L480.31,81.05L480.98,81.11L481.65,81.18L482.31,81.24L482.98,81.31L483.64,81.37L484.31,81.44L484.97,81.50L485.64,81.57L486.31,81.64L486.97,81.70L487.64,81.77L488.30,81.84L488.97,81.91L489.63,81.98L490.30,82.05L490.96,82.11L491.63,82.18L492.30,82.25L492.96,82.32L493.63,82.39L494.29,82.47L494.96,82.54L495.62,82.61L496.29,82.68L496.96,82.75L497.62,82.82L498.29,82.90L498.95,82.97L499.62,83.04L500.28,83.12L500.95,83.19L501.61,83.27L502.28,83.34L502.95,83.41L503.61,83.49L504.28,83.57L504.94,83.64L505.61,83.72L506.27,83.79L506.94,83.87L507.61,83.95L508.27,84.02L508.94,84.10L509.60,84.18L510.27,84.26L510.93,84.33L511.60,84.41L512.26,84.49L512.93,84.57L513.60,84.65L514.26,84.73L514.93,84.81L515.59,84.89L516.26,84.97L516.92,85.05L517.59,85.13L518.26,85.21L518.92,85.29L519.59,85.37L520.25,85.45L520.92,85.53L521.58,85.61L522.25,85.70L522.91,85.78L523.58,85.86L524.25,85.94L524.91,86.03L525.58,86.11L526.24,86.19L526.91,86.28L527.57,86.36L528.24,86.44L528.91,86.53L529.57,86.61L530.24,86.70L530.90,86.78L531.57,86.87L532.23,86.95L532.90,87.04L533.56,87.12L534.23,87.21L534.90,87.29L535.56,87.38L536.23,87.46L536.89,87.55L537.56,87.64L538.22,87.72L538.89,87.81L539.56,87.90L540.22,87.98L540.89,88.07L541.55,88.16L542.22,88.25L542.88,88.33L543.55,88.42L544.21,88.51L544.88,88.60L545.55,88.69L546.21,88.77L546.88,88.86L547.54,88.95L548.21,89.04L548.87,89.13L549.54,89.22L550.21,89.31L550.87,89.40L551.54,89.49L552.20,89.58L552.87,89.67L553.53,89.76L554.20,89.85L554.86,89.94L555.53,90.03L556.20,90.12L556.86,90.21L557.53,90.30L558.19,90.39L558.86,90.48L559.52,90.57L560.19,90.66L560.86,90.76L561.52,90.85L562.19,90.94L562.85,91.03L563.52,91.12L564.18,91.21L564.85,91.31L565.52,91.40L566.18,91.49L566.85,91.58L567.51,91.67L568.18,91.77L568.84,91.86L569.51,91.95L570.17,92.05L570.84,92.14L571.51,92.23L572.17,92.32L572.84,92.42L573.50,92.51L574.17,92.61L574.83,92.70L575.50,92.79L576.17,92.89L576.83,92.98L577.50,93.07L578.16,93.17L578.83,93.26L579.49,93.36L580.16,93.45L580.82,93.54L581.49,93.64L582.16,93.73L582.82,93.83L583.49,93.92L584.15,94.02L584.82,94.11L585.48,94.21L586.15,94.30L586.82,94.40L587.48,94.49L588.15,94.59L588.81,94.68L589.48,94.78L590.14,94.87L590.81,94.97L591.47,95.06L592.14,95.16L592.81,95.26L593.47,95.35L594.14,95.45L594.80,95.54L595.47,95.64L596.13,95.74L596.80,95.83L597.47,95.93L598.13,96.02L598.80,96.12L599.46,96.22L600.13,96.31L600.79,96.41L601.46,96.51L602.12,96.60L602.79,96.70L603.46,96.80L604.12,96.89L604.79,96.99L605.45,97.09L606.12,97.18L606.78,97.28L607.45,97.38L608.12,97.47L608.78,97.57L609.45,97.67L610.11,97.77L610.78,97.86L611.44,97.96L612.11,98.06L612.77,98.16L613.44,98.25L614.11,98.35L614.77,98.45L615.44,98.55L616.10,98.64L616.77,98.74L617.43,98.84L618.10,98.94L618.77,99.03L619.43,99.13L620.10,99.23L620.76,99.33L621.43,99.43L622.09,99.52L622.76,99.62L623.42,99.72L624.09,99.82L624.76,99.92L625.42,100.01L626.09,100.11L626.75,100.21L627.42,100.31L628.08,100.41L628.75,100.51L629.42,100.60L630.08,100.70L630.75,100.80L631.41,100.90L632.08,101.00L632.74,101.10L633.41,101.20L634.07,101.29L634.74,101.39L635.41,101.49L636.07,101.59L636.74,101.69L637.40,101.79L638.07,101.89L638.73,101.99L639.40,102.09L640.07,102.18L640.73,102.28L641.40,102.38L642.06,102.48L642.73,102.58L643.39,102.68L644.06,102.78L644.72,102.88L645.39,102.98L646.06,103.08L646.72,103.18L647.39,103.28L648.05,103.37L648.72,103.47L649.38,103.57L650.05,103.67L650.72,103.77L651.38,103.87L652.05,103.97L652.71,104.07L653.38,104.17L654.04,104.27L654.71,104.37L655.37,104.47L656.04,104.57L656.71,104.67L657.37,104.77L658.04,104.87L658.70,104.97L659.37,105.07L660.03,105.17L660.70,105.27L661.37,105.37L662.03,105.46L662.70,105.56L663.36,105.66L664.03,105.76L664.69,105.86L665.36,105.96L666.02,106.06L666.69,106.16L667.36,106.26L668.02,106.36L668.69,106.46L669.35,106.56L670.02,106.66L670.68,106.76L671.35,106.86L672.02,106.96L672.68,107.06L673.35,107.16L674.01,107.26L674.68,107.36L675.34,107.46L676.01,107.56L676.67,107.66L677.34,107.76L678.01,107.86L678.67,107.97L679.34,108.07L680.00,108.17L680.67,108.27L681.33,108.37L682.00,108.47" fill="none" stroke="#ff8c1a" stroke-width="3.00" stroke-dasharray="4.1,4.8" stroke-linecap="butt" stroke-linejoin="round"/>
<path d="M83.60,114.49L84.27,114.39L84.93,114.29L85.60,114.20L86.26,114.10L86.93,114.01L87.59,113.91L88.26,113.82L88.93,113.72L89.59,113.63L90.26,113.53L90.92,113.43L91.59,113.34L92.25,113.24L92.92,113.15L93.58,113.05L94.25,112.96L94.92,112.86L95.58,112.77L96.25,112.67L96.91,112.58L97.58,112.48L98.24,112.39L98.91,112.29L99.58,112.20L100.24,112.10L100.91,112.01L101.57,111.91L102.24,111.82L102.90,111.72L103.57,111.63L104.23,111.53L104.90,111.44L105.57,111.34L106.23,111.25L106.90,111.15L107.56,111.06L108.23,110.96L108.89,110.87L109.56,110.78L110.23,110.68L110.89,110.59L111.56,110.49L112.22,110.40L112.89,110.30L113.55,110.21L114.22,110.12L114.88,110.02L115.55,109.93L116.22,109.83L116.88,109.74L117.55,109.65L118.21,109.55L118.88,109.46L119.54,109.36L120.21,109.27L120.88,109.18L121.54,109.08L122.21,108.99L122.87,108.90L123.54,108.80L124.20,108.71L124.87,108.62L125.53,108.52L126.20,108.43L126.87,108.34L127.53,108.24L128.20,108.15L128.86,108.06L129.53,107.96L130.19,107.87L130.86,107.78L131.53,107.69L132.19,107.59L132.86,107.50L133.52,107.41L134.19,107.31L134.85,107.22L135.52,107.13L136.18,107.04L136.85,106.94L137.52,106.85L138.18,106.76L138.85,106.67L139.51,106.58L140.18,106.48L140.84,106.39L141.51,106.30L142.18,106.21L142.84,106.12L143.51,106.02L144.17,105.93L144.84,105.84L145.50,105.75L146.17,105.66L146.83,105.57L147.50,105.47L148.17,105.38L148.83,105.29L149.50,105.20L150.16,105.11L150.83,105.02L151.49,104.93L152.16,104.84L152.83,104.74L153.49,104.65L154.16,104.56L154.82,104.47L155.49,104.38L156.15,104.29L156.82,104.20L157.48,104.11L158.15,104.02L158.82,103.93L159.48,103.84L160.15,103.75L160.81,103.66L161.48,103.57L162.14,103.48L162.81,103.39L163.48,103.30L164.14,103.21L164.81,103.12L165.47,103.03L166.14,102.94L166.80,102.85L167.47,102.76L168.13,102.67L168.80,102.58L169.47,102.49L170.13,102.40L170.80,102.31L171.46,102.22L172.13,102.14L172.79,102.05L173.46,101.96L174.13,101.87L174.79,101.78L175.46,101.69L176.12,101.60L176.79,101.51L177.45,101.43L178.12,101.34L178.78,101.25L179.45,101.16L180.12,101.07L180.78,100.99L181.45,100.90L182.11,100.81L182.78,100.72L183.44,100.64L184.11,100.55L184.78,100.46L185.44,100.37L186.11,100.29L186.77,100.20L187.44,100.11L188.10,100.02L188.77,99.94L189.43,99.85L190.10,99.76L190.77,99.68L191.43,99.59L192.10,99.50L192.76,99.42L193.43,99.33L194.09,99.25L194.76,99.16L195.43,99.07L196.09,98.99L196.76,98.90L197.42,98.82L198.09,98.73L198.75,98.64L199.42,98.56L200.08,98.47L200.75,98.39L201.42,98.30L202.08,98.22L202.75,98.13L203.41,98.05L204.08,97.96L204.74,97.88L205.41,97.80L206.08,97.71L206.74,97.63L207.41,97.54L208.07,97.46L208.74,97.37L209.40,97.29L210.07,97.21L210.74,97.12L211.40,97.04L212.07,96.96L212.73,96.87L213.40,96.79L214.06,96.71L214.73,96.62L215.39,96.54L216.06,96.46L216.73,96.37L217.39,96.29L218.06,96.21L218.72,96.13L219.39,96.05L220.05,95.96L220.72,95.88L221.39,95.80L222.05,95.72L222.72,95.64L223.38,95.55L224.05,95.47L224.71,95.39L225.38,95.31L226.04,95.23L226.71,95.15L227.38,95.07L228.04,94.99L228.71,94.91L229.37,94.83L230.04,94.75L230.70,94.67L231.37,94.59L232.04,94.51L232.70,94.43L233.37,94.35L234.03,94.27L234.70,94.19L235.36,94.11L236.03,94.03L236.69,93.95L237.36,93.87L238.03,93.79L238.69,93.72L239.36,93.64L240.02,93.56L240.69,93.48L241.35,93.40L242.02,93.33L242.69,93.25L243.35,93.17L244.02,93.09L244.68,93.02L245.35,92.94L246.01,92.86L246.68,92.79L247.34,92.71L248.01,92.63L248.68,92.56L249.34,92.48L250.01,92.40L250.67,92.33L251.34,92.25L252.00,92.18L252.67,92.10L253.34,92.03L254.00,91.95L254.67,91.88L255.33,91.80L256.00,91.73L256.66,91.65L257.33,91.58L257.99,91.51L258.66,91.43L259.33,91.36L259.99,91.29L260.66,91.21L261.32,91.14L261.99,91.07L262.65,90.99L263.32,90.92L263.99,90.85L264.65,90.78L265.32,90.70L265.98,90.63L266.65,90.56L267.31,90.49L267.98,90.42L268.64,90.35L269.31,90.27L269.98,90.20L270.64,90.13L271.31,90.06L271.97,89.99L272.64,89.92L273.30,89.85L273.97,89.78L274.64,89.71L275.30,89.64L275.97,89.58L276.63,89.51L277.30,89.44L277.96,89.37L278.63,89.30L279.29,89.23L279.96,89.16L280.63,89.10L281.29,89.03L281.96,88.96L282.62,88.90L283.29,88.83L283.95,88.76L284.62,88.70L285.29,88.63L285.95,88.56L286.62,88.50L287.28,88.43L287.95,88.37L288.61,88.30L289.28,88.24L289.94,88.17L290.61,88.11L291.28,88.04L291.94,87.98L292.61,87.92L293.27,87.85L293.94,87.79L294.60,87.73L295.27,87.66L295.94,87.60L296.60,87.54L297.27,87.48L297.93,87.41L298.60,87.35L299.26,87.29L299.93,87.23L300.59,87.17L301.26,87.11L301.93,87.05L302.59,86.99L303.26,86.93L303.92,86.87L304.59,86.81L305.25,86.75L305.92,86.69L306.59,86.63L307.25,86.58L307.92,86.52L308.58,86.46L309.25,86.40L309.91,86.34L310.58,86.29L311.24,86.23L311.91,86.17L312.58,86.12L313.24,86.06L313.91,86.01L314.57,85.95L315.24,85.90L315.90,85.84L316.57,85.79L317.24,85.73L317.90,85.68L318.57,85.63L319.23,85.57L319.90,85.52L320.56,85.47L321.23,85.42L321.89,85.36L322.56,85.31L323.23,85.26L323.89,85.21L324.56,85.16L325.22,85.11L325.89,85.06L326.55,85.01L327.22,84.96L327.89,84.91L328.55,84.86L329.22,84.81L329.88,84.76L330.55,84.71L331.21,84.67L331.88,84.62L332.55,84.57L333.21,84.53L333.88,84.48L334.54,84.43L335.21,84.39L335.87,84.34L336.54,84.30L337.20,84.25L337.87,84.21L338.54,84.16L339.20,84.12L339.87,84.08L340.53,84.03L341.20,83.99L341.86,83.95L342.53,83.91L343.20,83.87L343.86,83.83L344.53,83.79L345.19,83.75L345.86,83.71L346.52,83.67L347.19,83.63L347.85,83.59L348.52,83.55L349.19,83.51L349.85,83.47L350.52,83.44L351.18,83.40L351.85,83.36L352.51,83.33L353.18,83.29L353.85,83.26L354.51,83.22L355.18,83.19L355.84,83.15L356.51,83.12L357.17,83.09L357.84,83.05L358.50,83.02L359.17,82.99L359.84,82.96L360.50,82.93L361.17,82.90L361.83,82.87L362.50,82.84L363.16,82.81L363.83,82.78L364.50,82.75L365.16,82.72L365.83,82.69L366.49,82.67L367.16,82.64L367.82,82.61L368.49,82.59L369.15,82.56L369.82,82.54L370.49,82.51L371.15,82.49L371.82,82.47L372.48,82.44L373.15,82.42L373.81,82.40L374.48,82.38L375.15,82.36L375.81,82.34L376.48,82.32L377.14,82.30L377.81,82.28L378.47,82.26L379.14,82.24L379.80,82.23L380.47,82.21L381.14,82.19L381.80,82.18L382.47,82.16L383.13,82.15L383.80,82.13L384.46,82.12L385.13,82.11L385.80,82.09L386.46,82.08L387.13,82.07L387.79,82.06L388.46,82.05L389.12,82.04L389.79,82.03L390.45,82.02L391.12,82.01L391.79,82.00L392.45,82.00L393.12,81.99L393.78,81.99L394.45,81.98L395.11,81.98L395.78,81.97L396.45,81.97L397.11,81.97L397.78,81.96L398.44,81.96L399.11,81.96L399.77,81.96L400.44,81.96L401.10,81.96L401.77,81.96L402.44,81.96L403.10,81.97L403.77,81.97L404.43,81.97L405.10,81.98L405.76,81.98L406.43,81.99L407.10,82.00L407.76,82.00L408.43,82.01L409.09,82.02L409.76,82.03L410.42,82.04L411.09,82.05L411.75,82.06L412.42,82.07L413.09,82.09L413.75,82.10L414.42,82.11L415.08,82.13L415.75,82.14L416.41,82.16L417.08,82.18L417.75,82.20L418.41,82.21L419.08,82.23L419.74,82.25L420.41,82.27L421.07,82.30L421.74,82.32L422.40,82.34L423.07,82.36L423.74,82.39L424.40,82.41L425.07,82.44L425.73,82.47L426.40,82.49L427.06,82.52L427.73,82.55L428.40,82.58L429.06,82.61L429.73,82.64L430.39,82.68L431.06,82.71L431.72,82.74L432.39,82.78L433.05,82.81L433.72,82.85L434.39,82.89L435.05,82.93L435.72,82.97L436.38,83.01L437.05,83.05L437.71,83.09L438.38,83.13L439.05,83.17L439.71,83.22L440.38,83.26L441.04,83.31L441.71,83.36L442.37,83.41L443.04,83.45L443.71,83.50L444.37,83.56L445.04,83.61L445.70,83.66L446.37,83.71L447.03,83.77L447.70,83.82L448.36,83.88L449.03,83.94L449.70,84.00L450.36,84.06L451.03,84.12L451.69,84.18L452.36,84.24L453.02,84.30L453.69,84.37L454.36,84.43L455.02,84.50L455.69,84.57L456.35,84.64L457.02,84.70L457.68,84.78L458.35,84.85L459.01,84.92L459.68,84.99L460.35,85.07L461.01,85.14L461.68,85.22L462.34,85.30L463.01,85.38L463.67,85.46L464.34,85.54L465.01,85.62L465.67,85.71L466.34,85.79L467.00,85.88L467.67,85.96L468.33,86.05L469.00,86.14L469.66,86.23L470.33,86.33L471.00,86.42L471.66,86.51L472.33,86.61L472.99,86.70L473.66,86.80L474.32,86.90L474.99,87.00L475.66,87.10L476.32,87.21L476.99,87.31L477.65,87.42L478.32,87.52L478.98,87.63L479.65,87.74L480.31,87.85L480.98,87.96L481.65,88.07L482.31,88.19L482.98,88.30L483.64,88.42L484.31,88.54L484.97,88.66L485.64,88.78L486.31,88.90L486.97,89.03L487.64,89.15L488.30,89.28L488.97,89.41L489.63,89.54L490.30,89.67L490.96,89.80L491.63,89.93L492.30,90.07L492.96,90.20L493.63,90.34L494.29,90.48L494.96,90.62L495.62,90.77L496.29,90.91L496.96,91.05L497.62,91.20L498.29,91.35L498.95,91.50L499.62,91.65L500.28,91.80L500.95,91.96L501.61,92.12L502.28,92.27L502.95,92.43L503.61,92.59L504.28,92.76L504.94,92.92L505.61,93.09L506.27,93.25L506.94,93.42L507.61,93.59L508.27,93.77L508.94,93.94L509.60,94.12L510.27,94.29L510.93,94.47L511.60,94.66L512.26,94.84L512.93,95.02L513.60,95.21L514.26,95.40L514.93,95.59L515.59,95.78L516.26,95.97L516.92,96.17L517.59,96.36L518.26,96.56L518.92,96.76L519.59,96.97L520.25,97.17L520.92,97.38L521.58,97.59L522.25,97.80L522.91,98.01L523.58,98.22L524.25,98.44L524.91,98.66L525.58,98.88L526.24,99.10L526.91,99.32L527.57,99.55L528.24,99.77L528.91,100.00L529.57,100.24L530.24,100.47L530.90,100.71L531.57,100.94L532.23,101.18L532.90,101.43L533.56,101.67L534.23,101.92L534.90,102.17L535.56,102.42L536.23,102.67L536.89,102.92L537.56,103.18L538.22,103.44L538.89,103.70L539.56,103.97L540.22,104.23L540.89,104.50L541.55,104.77L542.22,105.05L542.88,105.32L543.55,105.60L544.21,105.88L544.88,106.16L545.55,106.44L546.21,106.73L546.88,107.02L547.54,107.31L548.21,107.61L548.87,107.90L549.54,108.20L550.21,108.50L550.87,108.81L551.54,109.11L552.20,109.42L552.87,109.74L553.53,110.05L554.20,110.37L554.86,110.68L555.53,111.01L556.20,111.33L556.86,111.66L557.53,111.99L558.19,112.32L558.86,112.65L559.52,112.99L560.19,113.33L560.86,113.68L561.52,114.02L562.19,114.37L562.85,114.72L563.52,115.07L564.18,115.43L564.85,115.79L565.52,116.15L566.18,116.52L566.85,116.89L567.51,117.26L568.18,117.63L568.84,118.01L569.51,118.39L570.17,118.77L570.84,119.16L571.51,119.55L572.17,119.94L572.84,120.33L573.50,120.73L574.17,121.13L574.83,121.54L575.50,121.94L576.17,122.35L576.83,122.77L577.50,123.18L578.16,123.60L578.83,124.02L579.49,124.45L580.16,124.88L580.82,125.31L581.49,125.75L582.16,126.19L582.82,126.63L583.49,127.08L584.15,127.53L584.82,127.98L585.48,128.43L586.15,128.89L586.82,129.36L587.48,129.82L588.15,130.29L588.81,130.77L589.48,131.24L590.14,131.72L590.81,132.21L591.47,132.69L592.14,133.19L592.81,133.68L593.47,134.18L594.14,134.68L594.80,135.19L595.47,135.70L596.13,136.21L596.80,136.73L597.47,137.25L598.13,137.77L598.80,138.30L599.46,138.83L600.13,139.37L600.79,139.91L601.46,140.45L602.12,141.00L602.79,141.56L603.46,142.11L604.12,142.67L604.79,143.24L605.45,143.80L606.12,144.38L606.78,144.95L607.45,145.53L608.12,146.12L608.78,146.71L609.45,147.30L610.11,147.90L610.78,148.50L611.44,149.11L612.11,149.72L612.77,150.33L613.44,150.95L614.11,151.58L614.77,152.21L615.44,152.84L616.10,153.48L616.77,154.12L617.43,154.76L618.10,155.41L618.77,156.07L619.43,156.73L620.10,157.40L620.76,158.07L621.43,158.74L622.09,159.42L622.76,160.10L623.42,160.79L624.09,161.49L624.76,162.18L625.42,162.89L626.09,163.60L626.75,164.31L627.42,165.03L628.08,165.75L628.75,166.48L629.42,167.21L630.08,167.95L630.75,168.70L631.41,169.44L632.08,169.70L632.74,169.70L633.41,169.70L634.07,169.70L634.74,169.70L635.41,169.70L636.07,169.70L636.74,169.70L637.40,169.70L638.07,169.70L638.73,169.70L639.40,169.70L640.07,169.70L640.73,169.70L641.40,169.70L642.06,169.70L642.73,169.70L643.39,169.70L644.06,169.70L644.72,169.70L645.39,169.70L646.06,169.70L646.72,169.70L647.39,169.70L648.05,169.70L648.72,169.70L649.38,169.70L650.05,169.70L650.72,169.70L651.38,169.70L652.05,169.70L652.71,169.70L653.38,169.70L654.04,169.70L654.71,169.70L655.37,169.70L656.04,169.70L656.71,169.70L657.37,169.70L658.04,169.70L658.70,169.70L659.37,169.70L660.03,169.70L660.70,169.70L661.37,169.70L662.03,169.70L662.70,169.70L663.36,169.70L664.03,169.70L664.69,169.70L665.36,169.70L666.02,169.70L666.69,169.70L667.36,169.70L668.02,169.70L668.69,169.70L669.35,169.70L670.02,169.70L670.68,169.70L671.35,169.70L672.02,169.70L672.68,169.70L673.35,169.70L674.01,169.70L674.68,169.70L675.34,169.70L676.01,169.70L676.67,169.70L677.34,169.70L678.01,169.70L678.67,169.70L679.34,169.70L680.00,169.70L680.67,169.70L681.33,169.70L682.00,169.70" fill="none" stroke="#006400" stroke-width="3.00" stroke-dasharray="9,5,4,5" stroke-linecap="butt" stroke-linejoin="round"/>
<path d="M83.60,113.63L84.27,113.53L84.93,113.43L85.60,113.33L86.26,113.23L86.93,113.13L87.59,113.03L88.26,112.93L88.93,112.83L89.59,112.73L90.26,112.63L90.92,112.53L91.59,112.42L92.25,112.32L92.92,112.22L93.58,112.12L94.25,112.02L94.92,111.92L95.58,111.82L96.25,111.72L96.91,111.62L97.58,111.52L98.24,111.42L98.91,111.32L99.58,111.22L100.24,111.12L100.91,111.02L101.57,110.91L102.24,110.81L102.90,110.71L103.57,110.61L104.23,110.51L104.90,110.41L105.57,110.31L106.23,110.21L106.90,110.11L107.56,110.01L108.23,109.91L108.89,109.81L109.56,109.71L110.23,109.61L110.89,109.51L111.56,109.41L112.22,109.31L112.89,109.21L113.55,109.11L114.22,109.01L114.88,108.91L115.55,108.81L116.22,108.71L116.88,108.60L117.55,108.50L118.21,108.40L118.88,108.30L119.54,108.20L120.21,108.10L120.88,108.00L121.54,107.90L122.21,107.80L122.87,107.70L123.54,107.60L124.20,107.50L124.87,107.40L125.53,107.30L126.20,107.20L126.87,107.10L127.53,107.00L128.20,106.90L128.86,106.80L129.53,106.70L130.19,106.60L130.86,106.50L131.53,106.40L132.19,106.30L132.86,106.20L133.52,106.10L134.19,106.00L134.85,105.90L135.52,105.80L136.18,105.70L136.85,105.60L137.52,105.50L138.18,105.40L138.85,105.30L139.51,105.20L140.18,105.10L140.84,105.00L141.51,104.91L142.18,104.81L142.84,104.71L143.51,104.61L144.17,104.51L144.84,104.41L145.50,104.31L146.17,104.21L146.83,104.11L147.50,104.01L148.17,103.91L148.83,103.81L149.50,103.71L150.16,103.61L150.83,103.51L151.49,103.41L152.16,103.31L152.83,103.21L153.49,103.12L154.16,103.02L154.82,102.92L155.49,102.82L156.15,102.72L156.82,102.62L157.48,102.52L158.15,102.42L158.82,102.32L159.48,102.22L160.15,102.12L160.81,102.03L161.48,101.93L162.14,101.83L162.81,101.73L163.48,101.63L164.14,101.53L164.81,101.43L165.47,101.33L166.14,101.24L166.80,101.14L167.47,101.04L168.13,100.94L168.80,100.84L169.47,100.74L170.13,100.64L170.80,100.55L171.46,100.45L172.13,100.35L172.79,100.25L173.46,100.15L174.13,100.05L174.79,99.96L175.46,99.86L176.12,99.76L176.79,99.66L177.45,99.56L178.12,99.47L178.78,99.37L179.45,99.27L180.12,99.17L180.78,99.07L181.45,98.98L182.11,98.88L182.78,98.78L183.44,98.68L184.11,98.59L184.78,98.49L185.44,98.39L186.11,98.29L186.77,98.20L187.44,98.10L188.10,98.00L188.77,97.90L189.43,97.81L190.10,97.71L190.77,97.61L191.43,97.51L192.10,97.42L192.76,97.32L193.43,97.22L194.09,97.13L194.76,97.03L195.43,96.93L196.09,96.84L196.76,96.74L197.42,96.64L198.09,96.55L198.75,96.45L199.42,96.35L200.08,96.26L200.75,96.16L201.42,96.07L202.08,95.97L202.75,95.87L203.41,95.78L204.08,95.68L204.74,95.59L205.41,95.49L206.08,95.39L206.74,95.30L207.41,95.20L208.07,95.11L208.74,95.01L209.40,94.92L210.07,94.82L210.74,94.73L211.40,94.63L212.07,94.54L212.73,94.44L213.40,94.35L214.06,94.25L214.73,94.16L215.39,94.06L216.06,93.97L216.73,93.87L217.39,93.78L218.06,93.68L218.72,93.59L219.39,93.50L220.05,93.40L220.72,93.31L221.39,93.21L222.05,93.12L222.72,93.03L223.38,92.93L224.05,92.84L224.71,92.75L225.38,92.65L226.04,92.56L226.71,92.47L227.38,92.37L228.04,92.28L228.71,92.19L229.37,92.10L230.04,92.00L230.70,91.91L231.37,91.82L232.04,91.73L232.70,91.63L233.37,91.54L234.03,91.45L234.70,91.36L235.36,91.27L236.03,91.18L236.69,91.08L237.36,90.99L238.03,90.90L238.69,90.81L239.36,90.72L240.02,90.63L240.69,90.54L241.35,90.45L242.02,90.36L242.69,90.27L243.35,90.18L244.02,90.09L244.68,90.00L245.35,89.91L246.01,89.82L246.68,89.73L247.34,89.64L248.01,89.55L248.68,89.46L249.34,89.37L250.01,89.28L250.67,89.20L251.34,89.11L252.00,89.02L252.67,88.93L253.34,88.84L254.00,88.76L254.67,88.67L255.33,88.58L256.00,88.49L256.66,88.41L257.33,88.32L257.99,88.23L258.66,88.15L259.33,88.06L259.99,87.98L260.66,87.89L261.32,87.80L261.99,87.72L262.65,87.63L263.32,87.55L263.99,87.46L264.65,87.38L265.32,87.29L265.98,87.21L266.65,87.13L267.31,87.04L267.98,86.96L268.64,86.88L269.31,86.79L269.98,86.71L270.64,86.63L271.31,86.54L271.97,86.46L272.64,86.38L273.30,86.30L273.97,86.22L274.64,86.13L275.30,86.05L275.97,85.97L276.63,85.89L277.30,85.81L277.96,85.73L278.63,85.65L279.29,85.57L279.96,85.49L280.63,85.41L281.29,85.34L281.96,85.26L282.62,85.18L283.29,85.10L283.95,85.02L284.62,84.95L285.29,84.87L285.95,84.79L286.62,84.72L287.28,84.64L287.95,84.57L288.61,84.49L289.28,84.42L289.94,84.34L290.61,84.27L291.28,84.19L291.94,84.12L292.61,84.04L293.27,83.97L293.94,83.90L294.60,83.83L295.27,83.75L295.94,83.68L296.60,83.61L297.27,83.54L297.93,83.47L298.60,83.40L299.26,83.33L299.93,83.26L300.59,83.19L301.26,83.12L301.93,83.06L302.59,82.99L303.26,82.92L303.92,82.85L304.59,82.79L305.25,82.72L305.92,82.66L306.59,82.59L307.25,82.53L307.92,82.46L308.58,82.40L309.25,82.33L309.91,82.27L310.58,82.21L311.24,82.15L311.91,82.08L312.58,82.02L313.24,81.96L313.91,81.90L314.57,81.84L315.24,81.79L315.90,81.73L316.57,81.67L317.24,81.61L317.90,81.55L318.57,81.50L319.23,81.44L319.90,81.39L320.56,81.33L321.23,81.28L321.89,81.23L322.56,81.17L323.23,81.12L323.89,81.07L324.56,81.02L325.22,80.97L325.89,80.92L326.55,80.87L327.22,80.82L327.89,80.77L328.55,80.73L329.22,80.68L329.88,80.63L330.55,80.59L331.21,80.54L331.88,80.50L332.55,80.46L333.21,80.41L333.88,80.37L334.54,80.33L335.21,80.29L335.87,80.25L336.54,80.21L337.20,80.18L337.87,80.14L338.54,80.10L339.20,80.07L339.87,80.03L340.53,80.00L341.20,79.97L341.86,79.93L342.53,79.90L343.20,79.87L343.86,79.84L344.53,79.81L345.19,79.79L345.86,79.76L346.52,79.73L347.19,79.71L347.85,79.68L348.52,79.66L349.19,79.64L349.85,79.62L350.52,79.60L351.18,79.58L351.85,79.56L352.51,79.54L353.18,79.53L353.85,79.51L354.51,79.50L355.18,79.49L355.84,79.47L356.51,79.46L357.17,79.45L357.84,79.45L358.50,79.44L359.17,79.43L359.84,79.43L360.50,79.42L361.17,79.42L361.83,79.42L362.50,79.42L363.16,79.42L363.83,79.42L364.50,79.43L365.16,79.43L365.83,79.44L366.49,79.45L367.16,79.45L367.82,79.46L368.49,79.48L369.15,79.49L369.82,79.50L370.49,79.52L371.15,79.54L371.82,79.56L372.48,79.58L373.15,79.60L373.81,79.62L374.48,79.65L375.15,79.67L375.81,79.70L376.48,79.73L377.14,79.76L377.81,79.79L378.47,79.83L379.14,79.86L379.80,79.90L380.47,79.94L381.14,79.98L381.80,80.03L382.47,80.07L383.13,80.12L383.80,80.17L384.46,80.22L385.13,80.27L385.80,80.32L386.46,80.38L387.13,80.44L387.79,80.50L388.46,80.56L389.12,80.62L389.79,80.69L390.45,80.76L391.12,80.83L391.79,80.90L392.45,80.97L393.12,81.05L393.78,81.13L394.45,81.21L395.11,81.29L395.78,81.38L396.45,81.47L397.11,81.56L397.78,81.65L398.44,81.74L399.11,81.84L399.77,81.94L400.44,82.04L401.10,82.15L401.77,82.25L402.44,82.36L403.10,82.48L403.77,82.59L404.43,82.71L405.10,82.83L405.76,82.95L406.43,83.08L407.10,83.21L407.76,83.34L408.43,83.47L409.09,83.61L409.76,83.75L410.42,83.89L411.09,84.04L411.75,84.19L412.42,84.34L413.09,84.50L413.75,84.66L414.42,84.82L415.08,84.98L415.75,85.15L416.41,85.32L417.08,85.50L417.75,85.68L418.41,85.86L419.08,86.04L419.74,86.23L420.41,86.43L421.07,86.62L421.74,86.82L422.40,87.03L423.07,87.23L423.74,87.44L424.40,87.66L425.07,87.88L425.73,88.10L426.40,88.33L427.06,88.56L427.73,88.79L428.40,89.03L429.06,89.28L429.73,89.52L430.39,89.77L431.06,90.03L431.72,90.29L432.39,90.56L433.05,90.83L433.72,91.10L434.39,91.38L435.05,91.66L435.72,91.95L436.38,92.24L437.05,92.54L437.71,92.84L438.38,93.15L439.05,93.46L439.71,93.78L440.38,94.11L441.04,94.43L441.71,94.77L442.37,95.11L443.04,95.45L443.71,95.80L444.37,96.16L445.04,96.52L445.70,96.88L446.37,97.26L447.03,97.64L447.70,98.02L448.36,98.41L449.03,98.81L449.70,99.21L450.36,99.62L451.03,100.03L451.69,100.45L452.36,100.88L453.02,101.32L453.69,101.76L454.36,102.20L455.02,102.66L455.69,103.12L456.35,103.59L457.02,104.06L457.68,104.54L458.35,105.03L459.01,105.53L459.68,106.03L460.35,106.55L461.01,107.07L461.68,107.59L462.34,108.13L463.01,108.67L463.67,109.22L464.34,109.78L465.01,110.34L465.67,110.92L466.34,111.50L467.00,112.09L467.67,112.69L468.33,113.30L469.00,113.92L469.66,114.54L470.33,115.18L471.00,115.82L471.66,116.48L472.33,117.14L472.99,117.81L473.66,118.49L474.32,119.18L474.99,119.89L475.66,120.60L476.32,121.32L476.99,122.05L477.65,122.79L478.32,123.54L478.98,124.30L479.65,125.08L480.31,125.86L480.98,126.65L481.65,127.46L482.31,128.28L482.98,129.11L483.64,129.94L484.31,130.80L484.97,131.66L485.64,132.53L486.31,133.42L486.97,134.32L487.64,135.23L488.30,136.15L488.97,137.09L489.63,138.04L490.30,139.00L490.96,139.98L491.63,140.97L492.30,141.97L492.96,142.98L493.63,144.01L494.29,145.06L494.96,146.11L495.62,147.18L496.29,148.27L496.96,149.37L497.62,150.49L498.29,151.62L498.95,152.76L499.62,153.92L500.28,155.10L500.95,156.29L501.61,157.50L502.28,158.72L502.95,159.97L503.61,161.22L504.28,162.50L504.94,163.79L505.61,165.10L506.27,166.42L506.94,167.76L507.61,169.13L508.27,169.70L508.94,169.70L509.60,169.70L510.27,169.70L510.93,169.70L511.60,169.70L512.26,169.70L512.93,169.70L513.60,169.70L514.26,169.70L514.93,169.70L515.59,169.70L516.26,169.70L516.92,169.70L517.59,169.70L518.26,169.70L518.92,169.70L519.59,169.70L520.25,169.70L520.92,169.70L521.58,169.70L522.25,169.70L522.91,169.70L523.58,169.70L524.25,169.70L524.91,169.70L525.58,169.70L526.24,169.70L526.91,169.70L527.57,169.70L528.24,169.70L528.91,169.70L529.57,169.70L530.24,169.70L530.90,169.70L531.57,169.70L532.23,169.70L532.90,169.70L533.56,169.70L534.23,169.70L534.90,169.70L535.56,169.70L536.23,169.70L536.89,169.70L537.56,169.70L538.22,169.70L538.89,169.70L539.56,169.70L540.22,169.70L540.89,169.70L541.55,169.70L542.22,169.70L542.88,169.70L543.55,169.70L544.21,169.70L544.88,169.70L545.55,169.70L546.21,169.70L546.88,169.70L547.54,169.70L548.21,169.70L548.87,169.70L549.54,169.70L550.21,169.70L550.87,169.70L551.54,169.70L552.20,169.70L552.87,169.70L553.53,169.70L554.20,169.70L554.86,169.70L555.53,169.70L556.20,169.70L556.86,169.70L557.53,169.70L558.19,169.70L558.86,169.70L559.52,169.70L560.19,169.70L560.86,169.70L561.52,169.70L562.19,169.70L562.85,169.70L563.52,169.70L564.18,169.70L564.85,169.70L565.52,169.70L566.18,169.70L566.85,169.70L567.51,169.70L568.18,169.70L568.84,169.70L569.51,169.70L570.17,169.70L570.84,169.70L571.51,169.70L572.17,169.70L572.84,169.70L573.50,169.70L574.17,169.70L574.83,169.70L575.50,169.70L576.17,169.70L576.83,169.70L577.50,169.70L578.16,169.70L578.83,169.70L579.49,169.70L580.16,169.70L580.82,169.70L581.49,169.70L582.16,169.70L582.82,169.70L583.49,169.70L584.15,169.70L584.82,169.70L585.48,169.70L586.15,169.70L586.82,169.70L587.48,169.70L588.15,169.70L588.81,169.70L589.48,169.70L590.14,169.70L590.81,169.70L591.47,169.70L592.14,169.70L592.81,169.70L593.47,169.70L594.14,169.70L594.80,169.70L595.47,169.70L596.13,169.70L596.80,169.70L597.47,169.70L598.13,169.70L598.80,169.70L599.46,169.70L600.13,169.70L600.79,169.70L601.46,169.70L602.12,169.70L602.79,169.70L603.46,169.70L604.12,169.70L604.79,169.70L605.45,169.70L606.12,169.70L606.78,169.70L607.45,169.70L608.12,169.70L608.78,169.70L609.45,169.70L610.11,169.70L610.78,169.70L611.44,169.70L612.11,169.70L612.77,169.70L613.44,169.70L614.11,169.70L614.77,169.70L615.44,169.70L616.10,169.70L616.77,169.70L617.43,169.70L618.10,169.70L618.77,169.70L619.43,169.70L620.10,169.70L620.76,169.70L621.43,169.70L622.09,169.70L622.76,169.70L623.42,169.70L624.09,169.70L624.76,169.70L625.42,169.70L626.09,169.70L626.75,169.70L627.42,169.70L628.08,169.70L628.75,169.70L629.42,169.70L630.08,169.70L630.75,169.70L631.41,169.70L632.08,169.70L632.74,169.70L633.41,169.70L634.07,169.70L634.74,169.70L635.41,169.70L636.07,169.70L636.74,169.70L637.40,169.70L638.07,169.70L638.73,169.70L639.40,169.70L640.07,169.70L640.73,169.70L641.40,169.70L642.06,169.70L642.73,169.70L643.39,169.70L644.06,169.70L644.72,169.70L645.39,169.70L646.06,169.70L646.72,169.70L647.39,169.70L648.05,169.70L648.72,169.70L649.38,169.70L650.05,169.70L650.72,169.70L651.38,169.70L652.05,169.70L652.71,169.70L653.38,169.70L654.04,169.70L654.71,169.70L655.37,169.70L656.04,169.70L656.71,169.70L657.37,169.70L658.04,169.70L658.70,169.70L659.37,169.70L660.03,169.70L660.70,169.70L661.37,169.70L662.03,169.70L662.70,169.70L663.36,169.70L664.03,169.70L664.69,169.70L665.36,169.70L666.02,169.70L666.69,169.70L667.36,169.70L668.02,169.70L668.69,169.70L669.35,169.70L670.02,169.70L670.68,169.70L671.35,169.70L672.02,169.70L672.68,169.70L673.35,169.70L674.01,169.70L674.68,169.70L675.34,169.70L676.01,169.70L676.67,169.70L677.34,169.70L678.01,169.70L678.67,169.70L679.34,169.70L680.00,169.70L680.67,169.70L681.33,169.70L682.00,169.70" fill="none" stroke="#800080" stroke-width="3.00" stroke-dasharray="10,4" stroke-linecap="butt" stroke-linejoin="round"/>
</g>
<text x="149.60" y="171.6" font-family="Liberation Serif" font-size="22.3" text-anchor="middle">0.1</text>
<text x="224.95" y="171.6" font-family="Liberation Serif" font-size="22.3" text-anchor="middle">0.2</text>
<text x="324.55" y="171.6" font-family="Liberation Serif" font-size="22.3" text-anchor="middle">0.5</text>
<text x="399.90" y="171.6" font-family="Liberation Serif" font-size="22.3" text-anchor="middle">1</text>
<text x="475.25" y="171.6" font-family="Liberation Serif" font-size="22.3" text-anchor="middle">2</text>
<text x="574.85" y="171.6" font-family="Liberation Serif" font-size="22.3" text-anchor="middle">5</text>
<text x="650.20" y="171.6" font-family="Liberation Serif" font-size="22.3" text-anchor="middle">10</text>
<text x="75" y="35.07" font-family="Liberation Serif" font-size="22.3" text-anchor="end">10<tspan dy="-7.5" font-size="16.4">1</tspan></text>
<text x="75" y="73.20" font-family="Liberation Serif" font-size="22.3" text-anchor="end">10<tspan dy="-7.5" font-size="16.4">0</tspan></text>
<text x="75" y="111.33" font-family="Liberation Serif" font-size="22.3" text-anchor="end">10<tspan dy="-7.5" font-size="16.4">−1</tspan></text>
<text x="75" y="149.46" font-family="Liberation Serif" font-size="22.3" text-anchor="end">10<tspan dy="-7.5" font-size="16.4">−2</tspan></text>
<text transform="translate(297.64,210.50) scale(0.9570,1)" font-family="Liberation Sans" font-size="22.40">Frequency</text>
<text x="405.06" y="210.50" font-family="Liberation Serif" font-size="22.40" font-style="italic">ω</text>
<text x="426.42" y="210.50" font-family="Liberation Serif" font-size="22.40">(</text>
<text x="433.36" y="210.50" font-family="Liberation Serif" font-size="22.40" font-style="italic">ω</text>
<text x="449.38" y="214.00" font-family="Liberation Sans" font-size="17.00">c</text>
<text x="460.48" y="210.50" font-family="Liberation Serif" font-size="22.40">)</text>
<text x="8.25" y="16.40" font-family="Liberation Sans" font-size="25.50" font-weight="bold">a</text>
<text transform="translate(17.90,141.92) rotate(-90)" font-family="Liberation Serif" font-size="22.00" font-style="italic">π</text>
<path d="M2.47,110.40 C2.60,110.93 2.38,112.50 3.23,113.60 C4.08,114.70 5.60,116.25 7.60,117.00 C9.59,117.75 13.30,117.53 15.20,118.10 C17.10,118.67 18.08,119.45 19.00,120.40 C19.92,121.35 20.52,122.65 20.70,123.80 C20.88,124.95 20.52,126.40 20.10,127.30 C19.68,128.20 18.90,128.95 18.20,129.20 C17.50,129.45 16.28,128.87 15.90,128.80" fill="none" stroke="#000" stroke-width="1.9" stroke-linecap="round"/>
<path d="M3.23,113.60 C3.01,114.23 1.99,116.13 1.90,117.40 C1.80,118.67 2.16,120.13 2.66,121.20 C3.16,122.27 4.08,123.30 4.90,123.80 C5.72,124.30 6.97,124.25 7.60,124.20 C8.23,124.15 8.52,123.62 8.70,123.50" fill="none" stroke="#000" stroke-width="1.4" stroke-linecap="round"/>
<text transform="translate(17.90,110.13) rotate(-90)" font-family="Liberation Serif" font-size="22.00">[</text>
<text transform="translate(17.90,103.13) rotate(-90)" font-family="Liberation Serif" font-size="22.00" font-style="italic">ω</text>
<text transform="translate(17.90,85.89) rotate(-90)" font-family="Liberation Serif" font-size="22.00">]</text>
<text transform="translate(17.90,74.27) rotate(-90)" font-family="Liberation Serif" font-size="22.00">(</text>
<text transform="translate(17.90,67.53) rotate(-90)" font-family="Liberation Serif" font-size="22.00" font-style="italic">ω</text>
<text transform="translate(22.35,51.95) rotate(-90)" font-family="Liberation Sans" font-size="15.30">c</text>
<text transform="translate(17.90,41.21) rotate(-90)" font-family="Liberation Serif" font-size="22.00">)</text>
<defs><clipPath id="cb"><rect x="70.90" y="231.50" width="613.60" height="152.70"/></clipPath></defs>
<line x1="113.39" y1="231.50" x2="113.39" y2="384.20" stroke="#a9a9a9" stroke-width="1"/>
<line x1="212.91" y1="231.50" x2="212.91" y2="384.20" stroke="#a9a9a9" stroke-width="1"/>
<line x1="288.20" y1="231.50" x2="288.20" y2="384.20" stroke="#a9a9a9" stroke-width="1"/>
<line x1="363.49" y1="231.50" x2="363.49" y2="384.20" stroke="#a9a9a9" stroke-width="1"/>
<line x1="463.01" y1="231.50" x2="463.01" y2="384.20" stroke="#a9a9a9" stroke-width="1"/>
<line x1="538.30" y1="231.50" x2="538.30" y2="384.20" stroke="#a9a9a9" stroke-width="1"/>
<line x1="613.59" y1="231.50" x2="613.59" y2="384.20" stroke="#a9a9a9" stroke-width="1"/>
<line x1="70.90" y1="356.80" x2="684.50" y2="356.80" stroke="#a9a9a9" stroke-width="1"/>
<line x1="70.90" y1="326.00" x2="684.50" y2="326.00" stroke="#a9a9a9" stroke-width="1"/>
<line x1="70.90" y1="295.20" x2="684.50" y2="295.20" stroke="#a9a9a9" stroke-width="1"/>
<line x1="70.90" y1="264.40" x2="684.50" y2="264.40" stroke="#a9a9a9" stroke-width="1"/>
<g clip-path="url(#cb)">
<line x1="82.14" y1="318.30" x2="678.03" y2="318.30" stroke="#9bcbde" stroke-width="2.7" stroke-linecap="round"/>
<path d="M82.14,313.04L82.54,312.92L82.94,312.79L83.33,312.66L83.73,312.54L84.13,312.41L84.53,312.27L84.92,312.14L85.32,312.01L85.72,311.87L86.12,311.74L86.51,311.60L86.91,311.46L87.31,311.33L87.71,311.18L88.10,311.04L88.50,310.90L88.90,310.76L89.30,310.61L89.69,310.47L90.09,310.32L90.49,310.17L90.89,310.02L91.28,309.87L91.68,309.71L92.08,309.56L92.48,309.41L92.87,309.25L93.27,309.09L93.67,308.93L94.07,308.77L94.46,308.61L94.86,308.45L95.26,308.28L95.66,308.12L96.05,307.95L96.45,307.78L96.85,307.61L97.25,307.44L97.64,307.27L98.04,307.09L98.44,306.92L98.84,306.74L99.23,306.56L99.63,306.38L100.03,306.20L100.43,306.02L100.82,305.84L101.22,305.65L101.62,305.47L102.02,305.28L102.41,305.09L102.81,304.90L103.21,304.70L103.61,304.51L104.00,304.32L104.40,304.12L104.80,303.92L105.20,303.72L105.59,303.52L105.99,303.32L106.39,303.11L106.79,302.90L107.18,302.70L107.58,302.49L107.98,302.28L108.38,302.06L108.77,301.85L109.17,301.64L109.57,301.42L109.97,301.20L110.36,300.98L110.76,300.76L111.16,300.54L111.56,300.31L111.95,300.08L112.35,299.86L112.75,299.63L113.15,299.39L113.55,299.16L113.94,298.93L114.34,298.69L114.74,298.45L115.14,298.21L115.53,297.97L115.93,297.73L116.33,297.49L116.73,297.24L117.12,296.99L117.52,296.74L117.92,296.49L118.32,296.24L118.71,295.99L119.11,295.73L119.51,295.47L119.91,295.21L120.30,294.95L120.70,294.69L121.10,294.43L121.50,294.16L121.89,293.89L122.29,293.62L122.69,293.35L123.09,293.08L123.48,292.81L123.88,292.53L124.28,292.25L124.68,291.97L125.07,291.69L125.47,291.41L125.87,291.13L126.27,290.84L126.66,290.55L127.06,290.27L127.46,289.98L127.86,289.68L128.25,289.39L128.65,289.09L129.05,288.80L129.45,288.50L129.84,288.20L130.24,287.90L130.64,287.59L131.04,287.29L131.43,286.98L131.83,286.67L132.23,286.36L132.63,286.05L133.02,285.74L133.42,285.43L133.82,285.11L134.22,284.79L134.61,284.47L135.01,284.15L135.41,283.83L135.81,283.51L136.20,283.19L136.60,282.86L137.00,282.53L137.40,282.20L137.79,281.87L138.19,281.54L138.59,281.21L138.99,280.87L139.38,280.54L139.78,280.20L140.18,279.86L140.58,279.52L140.97,279.18L141.37,278.84L141.77,278.50L142.17,278.15L142.56,277.81L142.96,277.46L143.36,277.11L143.76,276.76L144.15,276.41L144.55,276.06L144.95,275.71L145.35,275.35L145.74,275.00L146.14,274.64L146.54,274.29L146.94,273.93L147.33,273.57L147.73,273.21L148.13,272.85L148.53,272.49L148.92,272.13L149.32,271.77L149.72,271.41L150.12,271.04L150.52,270.68L150.91,270.31L151.31,269.95L151.71,269.58L152.11,269.21L152.50,268.85L152.90,268.48L153.30,268.11L153.70,267.74L154.09,267.38L154.49,267.01L154.89,266.64L155.29,266.27L155.68,265.90L156.08,265.53L156.48,265.16L156.88,264.79L157.27,264.42L157.67,264.05L158.07,263.68L158.47,263.31L158.86,262.95L159.26,262.58L159.66,262.21L160.06,261.84L160.45,261.47L160.85,261.11L161.25,260.74L161.65,260.38L162.04,260.01L162.44,259.65L162.84,259.28L163.24,258.92L163.63,258.56L164.03,258.20L164.43,257.84L164.83,257.48L165.22,257.12L165.62,256.77L166.02,256.41L166.42,256.06L166.81,255.71L167.21,255.36L167.61,255.01L168.01,254.66L168.40,254.31L168.80,253.97L169.20,253.63L169.60,253.29L169.99,252.95L170.39,252.62L170.79,252.28L171.19,251.95L171.58,251.62L171.98,251.30L172.38,250.97L172.78,250.65L173.17,250.33L173.57,250.02L173.97,249.70L174.37,249.39L174.76,249.09L175.16,248.78L175.56,248.48L175.96,248.19L176.35,247.89L176.75,247.60L177.15,247.31L177.55,247.03L177.94,246.75L178.34,246.48L178.74,246.20L179.14,245.94L179.53,245.67L179.93,245.41L180.33,245.16L180.73,244.91L181.12,244.66L181.52,244.42L181.92,244.19L182.32,243.95L182.71,243.73L183.11,243.51L183.51,243.29L183.91,243.08L184.30,242.87L184.70,242.67L185.10,242.48L185.50,242.29L185.89,242.11L186.29,241.93L186.69,241.76L187.09,241.60L187.49,241.44L187.88,241.29L188.28,241.14L188.68,241.00L189.08,240.87L189.47,240.74L189.87,240.63L190.27,240.52L190.67,240.41L191.06,240.32L191.46,240.23L191.86,240.14L192.26,240.07L192.65,240.00L193.05,239.95L193.45,239.90L193.85,239.85L194.24,239.82L194.64,239.79L195.04,239.78L195.44,239.77L195.83,239.77L196.23,239.78L196.63,239.79L197.03,239.82L197.42,239.86L197.82,239.90L198.22,239.96L198.62,240.02L199.01,240.09L199.41,240.18L199.81,240.27L200.21,240.37L200.60,240.49L201.00,240.61L201.40,240.74L201.80,240.88L202.19,241.04L202.59,241.20L202.99,241.38L203.39,241.56L203.78,241.76L204.18,241.97L204.58,242.18L204.98,242.41L205.37,242.65L205.77,242.91L206.17,243.17L206.57,243.44L206.96,243.73L207.36,244.03L207.76,244.33L208.16,244.66L208.55,244.99L208.95,245.33L209.35,245.69L209.75,246.06L210.14,246.44L210.54,246.83L210.94,247.23L211.34,247.65L211.73,248.08L212.13,248.52L212.53,248.97L212.93,249.44L213.32,249.91L213.72,250.41L214.12,250.91L214.52,251.42L214.91,251.95L215.31,252.49L215.71,253.04L216.11,253.61L216.50,254.19L216.90,254.78L217.30,255.38L217.70,256.00L218.09,256.62L218.49,257.26L218.89,257.92L219.29,258.58L219.68,259.26L220.08,259.95L220.48,260.65L220.88,261.37L221.27,262.09L221.67,262.83L222.07,263.58L222.47,264.35L222.86,265.12L223.26,265.91L223.66,266.71L224.06,267.52L224.45,268.34L224.85,269.18L225.25,270.02L225.65,270.88L226.05,271.75L226.44,272.62L226.84,273.51L227.24,274.41L227.64,275.33L228.03,276.25L228.43,277.18L228.83,278.12L229.23,279.07L229.62,280.03L230.02,281.01L230.42,281.99L230.82,282.98L231.21,283.98L231.61,284.99L232.01,286.00L232.41,287.03L232.80,288.06L233.20,289.10L233.60,290.15L234.00,291.21L234.39,292.27L234.79,293.34L235.19,294.42L235.59,295.51L235.98,296.60L236.38,297.69L236.78,298.79L237.18,299.90L237.57,301.01L237.97,302.13L238.37,303.25L238.77,304.38L239.16,305.50L239.56,306.64L239.96,307.77L240.36,308.91L240.75,310.05L241.15,311.19L241.55,312.34L241.95,313.48L242.34,314.63L242.74,315.77L243.14,316.92L243.54,318.07L243.93,319.21L244.33,320.35L244.73,321.50L245.13,322.64L245.52,323.78L245.92,324.91L246.32,326.05L246.72,327.18L247.11,328.30L247.51,329.42L247.91,330.54L248.31,331.65L248.70,332.75L249.10,333.85L249.50,334.95L249.90,336.03L250.29,337.11L250.69,338.18L251.09,339.24L251.49,340.29L251.88,341.34L252.28,342.37L252.68,343.40L253.08,344.41L253.47,345.41L253.87,346.40L254.27,347.38L254.67,348.35L255.06,349.31L255.46,350.25L255.86,351.18L256.26,352.09L256.65,352.99L257.05,353.87L257.45,354.74L257.85,355.60L258.24,356.44L258.64,357.26L259.04,358.06L259.44,358.85L259.83,359.62L260.23,360.37L260.63,361.11L261.03,361.82L261.42,362.52L261.82,363.20L262.22,363.86L262.62,364.50L263.02,365.11L263.41,365.71L263.81,366.29L264.21,366.85L264.61,367.38L265.00,367.89L265.40,368.39L265.80,368.86L266.20,369.31L266.59,369.73L266.99,370.13L267.39,370.52L267.79,370.87L268.18,371.21L268.58,371.52L268.98,371.81L269.38,372.08L269.77,372.32L270.17,372.54L270.57,372.73L270.97,372.91L271.36,373.06L271.76,373.18L272.16,373.29L272.56,373.37L272.95,373.42L273.35,373.46L273.75,373.47L274.15,373.45L274.54,373.42L274.94,373.36L275.34,373.28L275.74,373.18L276.13,373.05L276.53,372.91L276.93,372.74L277.33,372.55L277.72,372.34L278.12,372.11L278.52,371.86L278.92,371.59L279.31,371.30L279.71,370.99L280.11,370.66L280.51,370.31L280.90,369.95L281.30,369.56L281.70,369.16L282.10,368.75L282.49,368.31L282.89,367.86L283.29,367.40L283.69,366.92L284.08,366.43L284.48,365.92L284.88,365.40L285.28,364.87L285.67,364.32L286.07,363.76L286.47,363.19L286.87,362.61L287.26,362.03L287.66,361.43L288.06,360.82L288.46,360.21L288.85,359.59L289.25,358.96L289.65,358.32L290.05,357.68L290.44,357.03L290.84,356.38L291.24,355.73L291.64,355.07L292.03,354.41L292.43,353.75L292.83,353.08L293.23,352.42L293.62,351.75L294.02,351.09L294.42,350.42L294.82,349.76L295.21,349.10L295.61,348.44L296.01,347.78L296.41,347.12L296.80,346.47L297.20,345.82L297.60,345.18L298.00,344.54L298.39,343.91L298.79,343.28L299.19,342.66L299.59,342.04L299.99,341.43L300.38,340.83L300.78,340.23L301.18,339.64L301.58,339.05L301.97,338.48L302.37,337.91L302.77,337.34L303.17,336.79L303.56,336.24L303.96,335.70L304.36,335.17L304.76,334.64L305.15,334.12L305.55,333.61L305.95,333.11L306.35,332.61L306.74,332.11L307.14,331.63L307.54,331.15L307.94,330.67L308.33,330.20L308.73,329.74L309.13,329.28L309.53,328.82L309.92,328.37L310.32,327.92L310.72,327.47L311.12,327.03L311.51,326.58L311.91,326.14L312.31,325.70L312.71,325.26L313.10,324.82L313.50,324.38L313.90,323.93L314.30,323.49L314.69,323.04L315.09,322.59L315.49,322.13L315.89,321.67L316.28,321.20L316.68,320.73L317.08,320.26L317.48,319.77L317.87,319.28L318.27,318.78L318.67,318.28L319.07,317.76L319.46,317.24L319.86,316.71L320.26,316.16L320.66,315.61L321.05,315.04L321.45,314.47L321.85,313.88L322.25,313.28L322.64,312.68L323.04,312.06L323.44,311.42L323.84,310.78L324.23,310.13L324.63,309.46L325.03,308.78L325.43,308.10L325.82,307.40L326.22,306.69L326.62,305.97L327.02,305.24L327.41,304.50L327.81,303.76L328.21,303.01L328.61,302.25L329.00,301.48L329.40,300.71L329.80,299.94L330.20,299.16L330.59,298.38L330.99,297.60L331.39,296.82L331.79,296.04L332.18,295.26L332.58,294.49L332.98,293.72L333.38,292.96L333.77,292.21L334.17,291.46L334.57,290.73L334.97,290.02L335.36,289.31L335.76,288.63L336.16,287.96L336.56,287.31L336.96,286.69L337.35,286.09L337.75,285.51L338.15,284.96L338.55,284.44L338.94,283.95L339.34,283.49L339.74,283.07L340.14,282.68L340.53,282.33L340.93,282.02L341.33,281.75L341.73,281.52L342.12,281.33L342.52,281.19L342.92,281.09L343.32,281.04L343.71,281.05L344.11,281.09L344.51,281.19L344.91,281.35L345.30,281.55L345.70,281.80L346.10,282.11L346.50,282.47L346.89,282.89L347.29,283.35L347.69,283.88L348.09,284.45L348.48,285.08L348.88,285.76L349.28,286.49L349.68,287.28L350.07,288.11L350.47,288.99L350.87,289.92L351.27,290.90L351.66,291.93L352.06,292.99L352.46,294.10L352.86,295.25L353.25,296.43L353.65,297.66L354.05,298.91L354.45,300.20L354.84,301.51L355.24,302.85L355.64,304.21L356.04,305.60L356.43,307.00L356.83,308.41L357.23,309.84L357.63,311.27L358.02,312.71L358.42,314.15L358.82,315.59L359.22,317.02L359.61,318.45L360.01,319.87L360.41,321.27L360.81,322.66L361.20,324.02L361.60,325.36L362.00,326.68L362.40,327.96L362.79,329.22L363.19,330.43L363.59,331.62L363.99,332.76L364.38,333.86L364.78,334.91L365.18,335.92L365.58,336.88L365.97,337.79L366.37,338.65L366.77,339.46L367.17,340.21L367.56,340.91L367.96,341.55L368.36,342.14L368.76,342.67L369.15,343.14L369.55,343.55L369.95,343.91L370.35,344.21L370.74,344.45L371.14,344.64L371.54,344.77L371.94,344.85L372.33,344.88L372.73,344.85L373.13,344.78L373.53,344.66L373.93,344.49L374.32,344.27L374.72,344.02L375.12,343.72L375.52,343.38L375.91,343.01L376.31,342.60L376.71,342.16L377.11,341.69L377.50,341.19L377.90,340.66L378.30,340.12L378.70,339.54L379.09,338.95L379.49,338.35L379.89,337.72L380.29,337.08L380.68,336.43L381.08,335.77L381.48,335.10L381.88,334.42L382.27,333.74L382.67,333.05L383.07,332.36L383.47,331.66L383.86,330.96L384.26,330.25L384.66,329.55L385.06,328.84L385.45,328.13L385.85,327.42L386.25,326.71L386.65,326.00L387.04,325.29L387.44,324.58L387.84,323.86L388.24,323.14L388.63,322.42L389.03,321.70L389.43,320.98L389.83,320.25L390.22,319.52L390.62,318.79L391.02,318.05L391.42,317.31L391.81,316.56L392.21,315.81L392.61,315.06L393.01,314.31L393.40,313.56L393.80,312.80L394.20,312.04L394.60,311.29L394.99,310.54L395.39,309.79L395.79,309.05L396.19,308.32L396.58,307.60L396.98,306.89L397.38,306.19L397.78,305.52L398.17,304.86L398.57,304.23L398.97,303.62L399.37,303.04L399.76,302.49L400.16,301.98L400.56,301.50L400.96,301.07L401.35,300.68L401.75,300.34L402.15,300.05L402.55,299.81L402.94,299.63L403.34,299.50L403.74,299.44L404.14,299.43L404.53,299.49L404.93,299.62L405.33,299.81L405.73,300.06L406.12,300.38L406.52,300.77L406.92,301.22L407.32,301.74L407.71,302.32L408.11,302.96L408.51,303.66L408.91,304.41L409.30,305.22L409.70,306.08L410.10,306.99L410.50,307.93L410.90,308.92L411.29,309.94L411.69,310.98L412.09,312.05L412.49,313.14L412.88,314.24L413.28,315.35L413.68,316.45L414.08,317.56L414.47,318.65L414.87,319.73L415.27,320.79L415.67,321.82L416.06,322.82L416.46,323.79L416.86,324.71L417.26,325.59L417.65,326.43L418.05,327.21L418.45,327.94L418.85,328.61L419.24,329.22L419.64,329.78L420.04,330.26L420.44,330.69L420.83,331.05L421.23,331.35L421.63,331.59L422.03,331.76L422.42,331.88L422.82,331.93L423.22,331.92L423.62,331.86L424.01,331.74L424.41,331.58L424.81,331.36L425.21,331.09L425.60,330.78L426.00,330.43L426.40,330.05L426.80,329.62L427.19,329.17L427.59,328.68L427.99,328.17L428.39,327.63L428.78,327.07L429.18,326.48L429.58,325.89L429.98,325.27L430.37,324.64L430.77,324.00L431.17,323.35L431.57,322.68L431.96,322.01L432.36,321.34L432.76,320.66L433.16,319.98L433.55,319.29L433.95,318.61L434.35,317.93L434.75,317.25L435.14,316.58L435.54,315.91L435.94,315.26L436.34,314.61L436.73,313.99L437.13,313.37L437.53,312.78L437.93,312.22L438.32,311.68L438.72,311.17L439.12,310.69L439.52,310.25L439.91,309.85L440.31,309.50L440.71,309.19L441.11,308.93L441.50,308.72L441.90,308.57L442.30,308.47L442.70,308.44L443.09,308.46L443.49,308.54L443.89,308.69L444.29,308.90L444.68,309.17L445.08,309.50L445.48,309.89L445.88,310.34L446.27,310.83L446.67,311.38L447.07,311.97L447.47,312.61L447.87,313.27L448.26,313.97L448.66,314.69L449.06,315.43L449.46,316.19L449.85,316.94L450.25,317.70L450.65,318.45L451.05,319.19L451.44,319.90L451.84,320.60L452.24,321.26L452.64,321.88L453.03,322.47L453.43,323.01L453.83,323.50L454.23,323.94L454.62,324.33L455.02,324.66L455.42,324.94L455.82,325.15L456.21,325.32L456.61,325.42L457.01,325.47L457.41,325.46L457.80,325.40L458.20,325.29L458.60,325.13L459.00,324.92L459.39,324.67L459.79,324.38L460.19,324.06L460.59,323.69L460.98,323.30L461.38,322.88L461.78,322.44L462.18,321.97L462.57,321.49L462.97,320.99L463.37,320.48L463.77,319.97L464.16,319.44L464.56,318.92L464.96,318.40L465.36,317.88L465.75,317.37L466.15,316.87L466.55,316.39L466.95,315.93L467.34,315.49L467.74,315.08L468.14,314.69L468.54,314.34L468.93,314.03L469.33,313.76L469.73,313.53L470.13,313.34L470.52,313.20L470.92,313.12L471.32,313.08L471.72,313.10L472.11,313.17L472.51,313.29L472.91,313.46L473.31,313.68L473.70,313.95L474.10,314.27L474.50,314.62L474.90,315.01L475.29,315.43L475.69,315.88L476.09,316.35L476.49,316.83L476.88,317.32L477.28,317.82L477.68,318.31L478.08,318.79L478.47,319.25L478.87,319.70L479.27,320.12L479.67,320.50L480.06,320.85L480.46,321.16L480.86,321.43L481.26,321.66L481.65,321.84L482.05,321.97L482.45,322.06L482.85,322.10L483.24,322.09L483.64,322.04L484.04,321.94L484.44,321.81L484.84,321.63L485.23,321.42L485.63,321.18L486.03,320.91L486.43,320.62L486.82,320.30L487.22,319.97L487.62,319.62L488.02,319.26L488.41,318.90L488.81,318.54L489.21,318.18L489.61,317.83L490.00,317.49L490.40,317.17L490.80,316.86L491.20,316.58L491.59,316.33L491.99,316.10L492.39,315.91L492.79,315.76L493.18,315.64L493.58,315.57L493.98,315.53L494.38,315.54L494.77,315.59L495.17,315.67L495.57,315.80L495.97,315.97L496.36,316.16L496.76,316.39L497.16,316.65L497.56,316.92L497.95,317.22L498.35,317.52L498.75,317.84L499.15,318.15L499.54,318.46L499.94,318.75L500.34,319.04L500.74,319.30L501.13,319.54L501.53,319.75L501.93,319.93L502.33,320.08L502.72,320.19L503.12,320.27L503.52,320.31L503.92,320.32L504.31,320.29L504.71,320.22L505.11,320.13L505.51,320.00L505.90,319.85L506.30,319.67L506.70,319.48L507.10,319.27L507.49,319.04L507.89,318.81L508.29,318.58L508.69,318.34L509.08,318.11L509.48,317.89L509.88,317.68L510.28,317.49L510.67,317.31L511.07,317.16L511.47,317.04L511.87,316.94L512.26,316.87L512.66,316.83L513.06,316.83L513.46,316.85L513.85,316.91L514.25,316.99L514.65,317.10L515.05,317.24L515.44,317.39L515.84,317.56L516.24,317.74L516.64,317.93L517.03,318.13L517.43,318.32L517.83,318.50L518.23,318.68L518.62,318.84L519.02,318.99L519.42,319.12L519.82,319.22L520.21,319.29L520.61,319.35L521.01,319.37L521.41,319.37L521.81,319.34L522.20,319.29L522.60,319.22L523.00,319.12L523.40,319.01L523.79,318.89L524.19,318.75L524.59,318.61L524.99,318.46L525.38,318.31L525.78,318.17L526.18,318.03L526.58,317.91L526.97,317.79L527.37,317.70L527.77,317.62L528.17,317.56L528.56,317.53L528.96,317.52L529.36,317.53L529.76,317.56L530.15,317.61L530.55,317.68L530.95,317.76L531.35,317.86L531.74,317.97L532.14,318.08L532.54,318.20L532.94,318.32L533.33,318.43L533.73,318.54L534.13,318.63L534.53,318.71L534.92,318.78L535.32,318.83L535.72,318.86L536.12,318.87L536.51,318.86L536.91,318.84L537.31,318.80L537.71,318.75L538.10,318.68L538.50,318.60L538.90,318.52L539.30,318.43L539.69,318.34L540.09,318.25L540.49,318.16L540.89,318.09L541.28,318.02L541.68,317.96L542.08,317.92L542.48,317.90L542.87,317.88L543.27,317.89L543.67,317.91L544.07,317.94L544.46,317.98L544.86,318.04L545.26,318.10L545.66,318.17L546.05,318.24L546.45,318.31L546.85,318.37L547.25,318.44L547.64,318.49L548.04,318.54L548.44,318.57L548.84,318.59L549.23,318.60L549.63,318.60L550.03,318.59L550.43,318.56L550.82,318.52L551.22,318.48L551.62,318.43L552.02,318.38L552.41,318.32L552.81,318.27L553.21,318.22L553.61,318.18L554.00,318.14L554.40,318.11L554.80,318.09L555.20,318.08L555.59,318.08L555.99,318.09L556.39,318.11L556.79,318.14L557.18,318.17L557.58,318.21L557.98,318.25L558.38,318.29L558.77,318.33L559.17,318.37L559.57,318.40L559.97,318.43L560.37,318.45L560.76,318.46L561.16,318.46L561.56,318.46L561.96,318.44L562.35,318.42L562.75,318.40L563.15,318.37L563.55,318.34L563.94,318.30L564.34,318.27L564.74,318.25L565.14,318.22L565.53,318.20L565.93,318.19L566.33,318.18L566.73,318.18L567.12,318.19L567.52,318.20L567.92,318.22L568.32,318.24L568.71,318.26L569.11,318.29L569.51,318.31L569.91,318.34L570.30,318.35L570.70,318.37L571.10,318.38L571.50,318.39L571.89,318.39L572.29,318.38L572.69,318.37L573.09,318.36L573.48,318.34L573.88,318.32L574.28,318.30L574.68,318.28L575.07,318.27L575.47,318.25L575.87,318.24L576.27,318.24L576.66,318.24L577.06,318.24L577.46,318.25L577.86,318.26L578.25,318.27L578.65,318.28L579.05,318.30L579.45,318.31L579.84,318.32L580.24,318.33L580.64,318.34L581.04,318.34L581.43,318.35L581.83,318.34L582.23,318.34L582.63,318.33L583.02,318.32L583.42,318.31L583.82,318.30L584.22,318.29L584.61,318.28L585.01,318.27L585.41,318.27L585.81,318.27L586.20,318.27L586.60,318.27L587.00,318.28L587.40,318.28L587.79,318.29L588.19,318.30L588.59,318.31L588.99,318.31L589.38,318.32L589.78,318.32L590.18,318.32L590.58,318.32L590.97,318.32L591.37,318.32L591.77,318.31L592.17,318.30L592.56,318.30L592.96,318.29L593.36,318.29L593.76,318.28L594.15,318.28L594.55,318.28L594.95,318.28L595.35,318.29L595.74,318.29L596.14,318.30L596.54,318.30L596.94,318.30L597.34,318.31L597.73,318.31L598.13,318.31L598.53,318.31L598.93,318.31L599.32,318.31L599.72,318.31L600.12,318.30L600.52,318.30L600.91,318.30L601.31,318.29L601.71,318.29L602.11,318.29L602.50,318.29L602.90,318.29L603.30,318.29L603.70,318.30L604.09,318.30L604.49,318.30L604.89,318.30L605.29,318.31L605.68,318.31L606.08,318.31L606.48,318.31L606.88,318.31L607.27,318.30L607.67,318.30L608.07,318.30L608.47,318.30L608.86,318.30L609.26,318.30L609.66,318.29L610.06,318.30L610.45,318.30L610.85,318.30L611.25,318.30L611.65,318.30L612.04,318.30L612.44,318.30L612.84,318.30L613.24,318.30L613.63,318.30L614.03,318.30L614.43,318.30L614.83,318.30L615.22,318.30L615.62,318.30L616.02,318.30L616.42,318.30L616.81,318.30L617.21,318.30L617.61,318.30L618.01,318.30L618.40,318.30L618.80,318.30L619.20,318.30L619.60,318.30L619.99,318.30L620.39,318.30L620.79,318.30L621.19,318.30L621.58,318.30L621.98,318.30L622.38,318.30L622.78,318.30L623.17,318.30L623.57,318.30L623.97,318.30L624.37,318.30L624.76,318.30L625.16,318.30L625.56,318.30L625.96,318.30L626.35,318.30L626.75,318.30L627.15,318.30L627.55,318.30L627.94,318.30L628.34,318.30L628.74,318.30L629.14,318.30L629.53,318.30L629.93,318.30L630.33,318.30L630.73,318.30L631.12,318.30L631.52,318.30L631.92,318.30L632.32,318.30L632.71,318.30L633.11,318.30L633.51,318.30L633.91,318.30L634.31,318.30L634.70,318.30L635.10,318.30L635.50,318.30L635.90,318.30L636.29,318.30L636.69,318.30L637.09,318.30L637.49,318.30L637.88,318.30L638.28,318.30L638.68,318.30L639.08,318.30L639.47,318.30L639.87,318.30L640.27,318.30L640.67,318.30L641.06,318.30L641.46,318.30L641.86,318.30L642.26,318.30L642.65,318.30L643.05,318.30L643.45,318.30L643.85,318.30L644.24,318.30L644.64,318.30L645.04,318.30L645.44,318.30L645.83,318.30L646.23,318.30L646.63,318.30L647.03,318.30L647.42,318.30L647.82,318.30L648.22,318.30L648.62,318.30L649.01,318.30L649.41,318.30L649.81,318.30L650.21,318.30L650.60,318.30L651.00,318.30L651.40,318.30L651.80,318.30L652.19,318.30L652.59,318.30L652.99,318.30L653.39,318.30L653.78,318.30L654.18,318.30L654.58,318.30L654.98,318.30L655.37,318.30L655.77,318.30L656.17,318.30L656.57,318.30L656.96,318.30L657.36,318.30L657.76,318.30L658.16,318.30L658.55,318.30L658.95,318.30L659.35,318.30L659.75,318.30L660.14,318.30L660.54,318.30L660.94,318.30L661.34,318.30L661.73,318.30L662.13,318.30L662.53,318.30L662.93,318.30L663.32,318.30L663.72,318.30L664.12,318.30L664.52,318.30L664.91,318.30L665.31,318.30L665.71,318.30L666.11,318.30L666.50,318.30L666.90,318.30L667.30,318.30L667.70,318.30L668.09,318.30L668.49,318.30L668.89,318.30L669.29,318.30L669.68,318.30L670.08,318.30L670.48,318.30L670.88,318.30L671.28,318.30L671.67,318.30L672.07,318.30L672.47,318.30L672.87,318.30L673.26,318.30L673.66,318.30L674.06,318.30L674.46,318.30L674.85,318.30L675.25,318.30L675.65,318.30L676.05,318.30L676.44,318.30L676.84,318.30L677.24,318.30L677.64,318.30L678.03,318.30" fill="none" stroke="#aa1e05" stroke-width="3.1" stroke-linejoin="round" stroke-linecap="round"/>
</g>
<line x1="157.43" y1="384.20" x2="157.43" y2="379.70" stroke="#555" stroke-width="0.9"/>
<line x1="188.68" y1="384.20" x2="188.68" y2="379.70" stroke="#555" stroke-width="0.9"/>
<line x1="232.72" y1="384.20" x2="232.72" y2="379.70" stroke="#555" stroke-width="0.9"/>
<line x1="249.46" y1="384.20" x2="249.46" y2="379.70" stroke="#555" stroke-width="0.9"/>
<line x1="263.96" y1="384.20" x2="263.96" y2="379.70" stroke="#555" stroke-width="0.9"/>
<line x1="276.76" y1="384.20" x2="276.76" y2="379.70" stroke="#555" stroke-width="0.9"/>
<line x1="407.53" y1="384.20" x2="407.53" y2="379.70" stroke="#555" stroke-width="0.9"/>
<line x1="438.78" y1="384.20" x2="438.78" y2="379.70" stroke="#555" stroke-width="0.9"/>
<line x1="482.82" y1="384.20" x2="482.82" y2="379.70" stroke="#555" stroke-width="0.9"/>
<line x1="499.56" y1="384.20" x2="499.56" y2="379.70" stroke="#555" stroke-width="0.9"/>
<line x1="514.06" y1="384.20" x2="514.06" y2="379.70" stroke="#555" stroke-width="0.9"/>
<line x1="526.86" y1="384.20" x2="526.86" y2="379.70" stroke="#555" stroke-width="0.9"/>
<line x1="657.63" y1="384.20" x2="657.63" y2="379.70" stroke="#555" stroke-width="0.9"/>
<line x1="113.39" y1="384.20" x2="113.39" y2="379.70" stroke="#555" stroke-width="0.9"/>
<line x1="212.91" y1="384.20" x2="212.91" y2="379.70" stroke="#555" stroke-width="0.9"/>
<line x1="288.20" y1="384.20" x2="288.20" y2="379.70" stroke="#555" stroke-width="0.9"/>
<line x1="363.49" y1="384.20" x2="363.49" y2="379.70" stroke="#555" stroke-width="0.9"/>
<line x1="463.01" y1="384.20" x2="463.01" y2="379.70" stroke="#555" stroke-width="0.9"/>
<line x1="538.30" y1="384.20" x2="538.30" y2="379.70" stroke="#555" stroke-width="0.9"/>
<line x1="613.59" y1="384.20" x2="613.59" y2="379.70" stroke="#555" stroke-width="0.9"/>
<line x1="70.90" y1="356.80" x2="75.50" y2="356.80" stroke="#555" stroke-width="0.9"/>
<line x1="70.90" y1="326.00" x2="75.50" y2="326.00" stroke="#555" stroke-width="0.9"/>
<line x1="70.90" y1="295.20" x2="75.50" y2="295.20" stroke="#555" stroke-width="0.9"/>
<line x1="70.90" y1="264.40" x2="75.50" y2="264.40" stroke="#555" stroke-width="0.9"/>
<rect x="70.90" y="231.50" width="613.60" height="152.70" fill="none" stroke="#999" stroke-width="1"/>
<text x="113.39" y="406.3" font-family="Liberation Serif" font-size="22.3" text-anchor="middle">2</text>
<text x="212.91" y="406.3" font-family="Liberation Serif" font-size="22.3" text-anchor="middle">5</text>
<text x="288.20" y="406.3" font-family="Liberation Serif" font-size="22.3" text-anchor="middle">10</text>
<text x="363.49" y="406.3" font-family="Liberation Serif" font-size="22.3" text-anchor="middle">20</text>
<text x="463.01" y="406.3" font-family="Liberation Serif" font-size="22.3" text-anchor="middle">50</text>
<text x="538.30" y="406.3" font-family="Liberation Serif" font-size="22.3" text-anchor="middle">100</text>
<text x="613.59" y="406.3" font-family="Liberation Serif" font-size="22.3" text-anchor="middle">200</text>
<text x="65.45" y="362.20" font-family="Liberation Serif" font-size="22.3" text-anchor="end">−2</text>
<text x="65.45" y="331.40" font-family="Liberation Serif" font-size="22.3" text-anchor="end">0</text>
<text x="65.45" y="300.60" font-family="Liberation Serif" font-size="22.3" text-anchor="end">2</text>
<text x="65.45" y="269.80" font-family="Liberation Serif" font-size="22.3" text-anchor="end">4</text>
<text transform="translate(276.03,449.30) scale(0.9620,1)" font-family="Liberation Sans" font-size="22.40">Protocol time</text>
<text x="406.62" y="449.30" font-family="Liberation Serif" font-size="22.40" font-style="italic">t</text>
<text x="413.46" y="450.90" font-family="Liberation Serif" font-size="12.60" font-style="italic" stroke="#000" stroke-width="0.35">f</text>
<text x="428.02" y="449.30" font-family="Liberation Serif" font-size="22.40">(</text>
<text x="435.46" y="449.30" font-family="Liberation Serif" font-size="22.40" font-style="italic">ω</text>
<text x="451.28" y="455.60" font-family="Liberation Sans" font-size="17.00">c</text>
<text x="452.09" y="439.80" font-family="Liberation Sans" font-size="16.50">−1</text>
<text x="471.08" y="449.30" font-family="Liberation Serif" font-size="22.40">)</text>
<text x="5.32" y="252.70" font-family="Liberation Sans" font-size="25.50" font-weight="bold">b</text>
<text transform="translate(15.60,338.77) rotate(-90)" font-family="Liberation Serif" font-size="22.00">Φ</text>
<text transform="translate(19.40,323.23) rotate(-90)" font-family="Liberation Sans" font-size="15.00">q</text>
<text transform="translate(15.60,313.77) rotate(-90)" font-family="Liberation Serif" font-size="22.00">(</text>
<text transform="translate(15.60,306.77) rotate(-90)" font-family="Liberation Serif" font-size="22.00" font-style="italic">t</text>
<text transform="translate(17.60,299.04) rotate(-90)" font-family="Liberation Serif" font-size="12.60" font-style="italic" stroke="#000" stroke-width="0.35">f</text>
<text transform="translate(15.60,290.71) rotate(-90)" font-family="Liberation Serif" font-size="22.00">)</text>
<rect x="366.95" y="238.75" width="302.0" height="45.95" fill="#fff" stroke="#000" stroke-width="1.9"/>
<line x1="371.9" y1="266.7" x2="405.9" y2="266.7" stroke="#aa1e05" stroke-width="2.9"/>
<text x="416.42" y="272.00" font-family="Liberation Sans" font-size="18.00" font-style="italic">ϕ</text>
<text x="426.38" y="272.00" font-family="Liberation Sans" font-size="18.00">(</text>
<text x="434.42" y="272.00" font-family="Liberation Sans" font-size="18.00" font-style="italic">x</text>
<text x="445.39" y="272.00" font-family="Liberation Sans" font-size="18.00">)</text>
<text x="464.33" y="272.00" font-family="Liberation Sans" font-size="18.00">1/4</text>
<text x="492.32" y="272.00" font-family="Liberation Sans" font-size="18.00">[</text>
<text x="498.58" y="272.00" font-family="Liberation Sans" font-size="18.00">(</text>
<text x="505.63" y="272.00" font-family="Liberation Sans" font-size="18.00">1</text>
<text x="515.31" y="272.00" font-family="Liberation Sans" font-size="18.00">−</text>
<text x="527.82" y="272.00" font-family="Liberation Sans" font-size="18.00" font-style="italic">x</text>
<text x="538.20" y="265.00" font-family="Liberation Sans" font-size="16.00">2</text>
<text x="550.99" y="272.00" font-family="Liberation Sans" font-size="18.00">)</text>
<text x="557.90" y="265.00" font-family="Liberation Sans" font-size="16.00">2</text>
<text x="570.62" y="272.00" font-family="Liberation Sans" font-size="18.00">+</text>
<text x="582.32" y="272.00" font-family="Liberation Sans" font-size="18.00" font-style="italic">ϵ</text>
<text x="590.10" y="265.00" font-family="Liberation Sans" font-size="16.00">2</text>
<text x="603.26" y="272.00" font-family="Liberation Sans" font-size="18.00">]</text>
<text x="623.58" y="272.00" font-family="Liberation Sans" font-size="18.00">(</text>
<text x="630.22" y="272.00" font-family="Liberation Sans" font-size="18.00" font-style="italic">x</text>
<text x="649.33" y="272.00" font-family="Liberation Sans" font-size="18.00">1</text>
<text x="659.69" y="272.00" font-family="Liberation Sans" font-size="18.00">)</text>
<path d="M453.60,266.60 C455.87,263.60 457.51,265.00 458.75,265.60 S461.63,267.60 463.90,264.60" fill="none" stroke="#000" stroke-width="1.30"/><line x1="453.60" y1="269.60" x2="463.90" y2="269.60" stroke="#000" stroke-width="1.30"/>
<path d="M639.00,266.70 C641.00,263.70 642.46,265.10 643.55,265.70 S646.10,267.70 648.10,264.70" fill="none" stroke="#000" stroke-width="1.30"/><line x1="639.00" y1="269.40" x2="648.10" y2="269.40" stroke="#000" stroke-width="1.30"/>
<defs><clipPath id="cc"><rect x="89.30" y="475.00" width="591.20" height="147.10"/></clipPath></defs>
<line x1="130.09" y1="475.00" x2="130.09" y2="622.10" stroke="#a9a9a9" stroke-width="1"/>
<line x1="226.06" y1="475.00" x2="226.06" y2="622.10" stroke="#a9a9a9" stroke-width="1"/>
<line x1="298.65" y1="475.00" x2="298.65" y2="622.10" stroke="#a9a9a9" stroke-width="1"/>
<line x1="371.24" y1="475.00" x2="371.24" y2="622.10" stroke="#a9a9a9" stroke-width="1"/>
<line x1="467.21" y1="475.00" x2="467.21" y2="622.10" stroke="#a9a9a9" stroke-width="1"/>
<line x1="539.80" y1="475.00" x2="539.80" y2="622.10" stroke="#a9a9a9" stroke-width="1"/>
<line x1="612.39" y1="475.00" x2="612.39" y2="622.10" stroke="#a9a9a9" stroke-width="1"/>
<line x1="89.30" y1="601.00" x2="680.50" y2="601.00" stroke="#a9a9a9" stroke-width="1"/>
<line x1="89.30" y1="571.74" x2="680.50" y2="571.74" stroke="#a9a9a9" stroke-width="1"/>
<line x1="89.30" y1="542.48" x2="680.50" y2="542.48" stroke="#a9a9a9" stroke-width="1"/>
<line x1="89.30" y1="503.80" x2="680.50" y2="503.80" stroke="#a9a9a9" stroke-width="1"/>
<line x1="89.30" y1="474.54" x2="680.50" y2="474.54" stroke="#a9a9a9" stroke-width="1"/>
<g clip-path="url(#cc)">
<line x1="99.96" y1="503.80" x2="670.70" y2="503.80" stroke="#9bcbde" stroke-width="2.7" stroke-linecap="round"/>
<path d="M99.96,609.24L100.44,608.70L100.92,608.15L101.39,607.61L101.87,607.07L102.35,606.53L102.82,605.99L103.30,605.44L103.77,604.90L104.25,604.36L104.73,603.82L105.20,603.28L105.68,602.74L106.16,602.20L106.63,601.66L107.11,601.12L107.58,600.59L108.06,600.05L108.54,599.51L109.01,598.97L109.49,598.44L109.97,597.90L110.44,597.36L110.92,596.83L111.39,596.29L111.87,595.76L112.35,595.22L112.82,594.69L113.30,594.15L113.78,593.62L114.25,593.09L114.73,592.55L115.20,592.02L115.68,591.49L116.16,590.96L116.63,590.42L117.11,589.89L117.59,589.36L118.06,588.83L118.54,588.30L119.01,587.77L119.49,587.25L119.97,586.72L120.44,586.19L120.92,585.66L121.40,585.13L121.87,584.61L122.35,584.08L122.82,583.56L123.30,583.03L123.78,582.51L124.25,581.98L124.73,581.46L125.21,580.93L125.68,580.41L126.16,579.89L126.64,579.37L127.11,578.85L127.59,578.33L128.06,577.80L128.54,577.28L129.02,576.77L129.49,576.25L129.97,575.73L130.45,575.21L130.92,574.69L131.40,574.18L131.87,573.66L132.35,573.14L132.83,572.63L133.30,572.12L133.78,571.60L134.26,571.09L134.73,570.58L135.21,570.06L135.68,569.55L136.16,569.04L136.64,568.53L137.11,568.02L137.59,567.51L138.07,567.00L138.54,566.49L139.02,565.99L139.49,565.48L139.97,564.97L140.45,564.47L140.92,563.96L141.40,563.46L141.88,562.96L142.35,562.45L142.83,561.95L143.30,561.45L143.78,560.95L144.26,560.45L144.73,559.95L145.21,559.45L145.69,558.95L146.16,558.46L146.64,557.96L147.11,557.46L147.59,556.97L148.07,556.47L148.54,555.98L149.02,555.49L149.50,555.00L149.97,554.50L150.45,554.01L150.92,553.52L151.40,553.03L151.88,552.55L152.35,552.06L152.83,551.57L153.31,551.09L153.78,550.60L154.26,550.12L154.73,549.64L155.21,549.15L155.69,548.67L156.16,548.19L156.64,547.71L157.12,547.23L157.59,546.75L158.07,546.28L158.54,545.80L159.02,545.33L159.50,544.85L159.97,544.38L160.45,543.91L160.93,543.44L161.40,542.96L161.88,542.50L162.35,542.03L162.83,541.56L163.31,541.09L163.78,540.63L164.26,540.16L164.74,539.70L165.21,539.24L165.69,538.78L166.16,538.32L166.64,537.86L167.12,537.40L167.59,536.94L168.07,536.49L168.55,536.03L169.02,535.58L169.50,535.12L169.97,534.67L170.45,534.22L170.93,533.77L171.40,533.33L171.88,532.88L172.36,532.43L172.83,531.99L173.31,531.55L173.78,531.10L174.26,530.66L174.74,530.22L175.21,529.79L175.69,529.35L176.17,528.91L176.64,528.48L177.12,528.05L177.60,527.61L178.07,527.18L178.55,526.75L179.02,526.33L179.50,525.90L179.98,525.48L180.45,525.05L180.93,524.63L181.41,524.21L181.88,523.79L182.36,523.37L182.83,522.96L183.31,522.54L183.79,522.13L184.26,521.72L184.74,521.31L185.22,520.90L185.69,520.49L186.17,520.08L186.64,519.68L187.12,519.28L187.60,518.88L188.07,518.48L188.55,518.08L189.03,517.68L189.50,517.29L189.98,516.90L190.45,516.51L190.93,516.12L191.41,515.73L191.88,515.34L192.36,514.96L192.84,514.58L193.31,514.20L193.79,513.82L194.26,513.44L194.74,513.07L195.22,512.69L195.69,512.32L196.17,511.95L196.65,511.59L197.12,511.22L197.60,510.86L198.07,510.50L198.55,510.14L199.03,509.78L199.50,509.42L199.98,509.07L200.46,508.72L200.93,508.37L201.41,508.02L201.88,507.68L202.36,507.34L202.84,506.99L203.31,506.66L203.79,506.32L204.27,505.99L204.74,505.65L205.22,505.32L205.69,505.00L206.17,504.67L206.65,504.35L207.12,504.03L207.60,503.71L208.08,503.39L208.55,503.08L209.03,502.77L209.50,502.46L209.98,502.16L210.46,501.85L210.93,501.55L211.41,501.25L211.89,500.96L212.36,500.66L212.84,500.37L213.31,500.09L213.79,499.80L214.27,499.52L214.74,499.24L215.22,498.96L215.70,498.69L216.17,498.42L216.65,498.15L217.12,497.88L217.60,497.62L218.08,497.36L218.55,497.10L219.03,496.85L219.51,496.60L219.98,496.35L220.46,496.10L220.93,495.86L221.41,495.62L221.89,495.38L222.36,495.15L222.84,494.92L223.32,494.69L223.79,494.47L224.27,494.25L224.74,494.03L225.22,493.82L225.70,493.61L226.17,493.40L226.65,493.20L227.13,493.00L227.60,492.80L228.08,492.61L228.56,492.42L229.03,492.23L229.51,492.05L229.98,491.87L230.46,491.69L230.94,491.52L231.41,491.35L231.89,491.19L232.37,491.03L232.84,490.87L233.32,490.72L233.79,490.57L234.27,490.42L234.75,490.28L235.22,490.14L235.70,490.01L236.18,489.88L236.65,489.75L237.13,489.63L237.60,489.51L238.08,489.40L238.56,489.29L239.03,489.18L239.51,489.08L239.99,488.98L240.46,488.89L240.94,488.80L241.41,488.72L241.89,488.64L242.37,488.56L242.84,488.49L243.32,488.42L243.80,488.36L244.27,488.30L244.75,488.25L245.22,488.20L245.70,488.16L246.18,488.12L246.65,488.08L247.13,488.05L247.61,488.03L248.08,488.00L248.56,487.99L249.03,487.98L249.51,487.97L249.99,487.97L250.46,487.97L250.94,487.98L251.42,487.99L251.89,488.00L252.37,488.03L252.84,488.05L253.32,488.08L253.80,488.12L254.27,488.16L254.75,488.21L255.23,488.26L255.70,488.32L256.18,488.38L256.65,488.45L257.13,488.52L257.61,488.59L258.08,488.68L258.56,488.76L259.04,488.85L259.51,488.95L259.99,489.05L260.46,489.16L260.94,489.27L261.42,489.39L261.89,489.51L262.37,489.63L262.85,489.77L263.32,489.90L263.80,490.04L264.27,490.19L264.75,490.34L265.23,490.50L265.70,490.66L266.18,490.83L266.66,491.00L267.13,491.17L267.61,491.35L268.08,491.54L268.56,491.72L269.04,491.92L269.51,492.12L269.99,492.32L270.47,492.53L270.94,492.74L271.42,492.95L271.89,493.17L272.37,493.39L272.85,493.62L273.32,493.85L273.80,494.09L274.28,494.33L274.75,494.57L275.23,494.81L275.70,495.06L276.18,495.31L276.66,495.57L277.13,495.83L277.61,496.09L278.09,496.35L278.56,496.62L279.04,496.88L279.52,497.15L279.99,497.43L280.47,497.70L280.94,497.98L281.42,498.25L281.90,498.53L282.37,498.81L282.85,499.09L283.33,499.37L283.80,499.65L284.28,499.93L284.75,500.22L285.23,500.50L285.71,500.78L286.18,501.06L286.66,501.34L287.14,501.62L287.61,501.89L288.09,502.17L288.56,502.44L289.04,502.72L289.52,502.99L289.99,503.25L290.47,503.52L290.95,503.78L291.42,504.04L291.90,504.29L292.37,504.54L292.85,504.79L293.33,505.04L293.80,505.27L294.28,505.51L294.76,505.74L295.23,505.96L295.71,506.19L296.18,506.40L296.66,506.61L297.14,506.81L297.61,507.01L298.09,507.21L298.57,507.39L299.04,507.57L299.52,507.75L299.99,507.92L300.47,508.08L300.95,508.24L301.42,508.39L301.90,508.53L302.38,508.67L302.85,508.80L303.33,508.92L303.80,509.04L304.28,509.15L304.76,509.26L305.23,509.36L305.71,509.45L306.19,509.54L306.66,509.63L307.14,509.70L307.61,509.77L308.09,509.84L308.57,509.90L309.04,509.96L309.52,510.01L310.00,510.06L310.47,510.10L310.95,510.14L311.42,510.17L311.90,510.20L312.38,510.23L312.85,510.26L313.33,510.28L313.81,510.30L314.28,510.31L314.76,510.32L315.23,510.34L315.71,510.35L316.19,510.35L316.66,510.36L317.14,510.36L317.62,510.37L318.09,510.37L318.57,510.37L319.04,510.38L319.52,510.38L320.00,510.38L320.47,510.38L320.95,510.38L321.43,510.38L321.90,510.38L322.38,510.38L322.85,510.38L323.33,510.38L323.81,510.38L324.28,510.38L324.76,510.38L325.24,510.38L325.71,510.38L326.19,510.38L326.66,510.37L327.14,510.37L327.62,510.37L328.09,510.36L328.57,510.36L329.05,510.35L329.52,510.34L330.00,510.33L330.47,510.31L330.95,510.29L331.43,510.27L331.90,510.25L332.38,510.22L332.86,510.19L333.33,510.15L333.81,510.11L334.29,510.06L334.76,510.01L335.24,509.95L335.71,509.88L336.19,509.81L336.67,509.73L337.14,509.64L337.62,509.54L338.10,509.44L338.57,509.32L339.05,509.20L339.52,509.07L340.00,508.93L340.48,508.78L340.95,508.62L341.43,508.45L341.91,508.27L342.38,508.08L342.86,507.89L343.33,507.68L343.81,507.46L344.29,507.23L344.76,507.00L345.24,506.76L345.72,506.50L346.19,506.24L346.67,505.98L347.14,505.70L347.62,505.42L348.10,505.13L348.57,504.84L349.05,504.55L349.53,504.25L350.00,503.94L350.48,503.64L350.95,503.33L351.43,503.02L351.91,502.71L352.38,502.40L352.86,502.10L353.34,501.79L353.81,501.49L354.29,501.20L354.76,500.91L355.24,500.62L355.72,500.34L356.19,500.07L356.67,499.81L357.15,499.56L357.62,499.32L358.10,499.08L358.57,498.86L359.05,498.66L359.53,498.46L360.00,498.28L360.48,498.11L360.96,497.96L361.43,497.82L361.91,497.70L362.38,497.59L362.86,497.50L363.34,497.43L363.81,497.38L364.29,497.34L364.77,497.32L365.24,497.32L365.72,497.34L366.19,497.37L366.67,497.42L367.15,497.49L367.62,497.58L368.10,497.69L368.58,497.81L369.05,497.95L369.53,498.11L370.00,498.28L370.48,498.47L370.96,498.67L371.43,498.88L371.91,499.11L372.39,499.35L372.86,499.61L373.34,499.87L373.81,500.14L374.29,500.42L374.77,500.71L375.24,501.00L375.72,501.30L376.20,501.60L376.67,501.90L377.15,502.20L377.62,502.50L378.10,502.80L378.58,503.10L379.05,503.39L379.53,503.68L380.01,503.95L380.48,504.22L380.96,504.48L381.43,504.73L381.91,504.97L382.39,505.19L382.86,505.40L383.34,505.60L383.82,505.79L384.29,505.96L384.77,506.12L385.25,506.26L385.72,506.39L386.20,506.50L386.67,506.61L387.15,506.70L387.63,506.77L388.10,506.84L388.58,506.90L389.06,506.94L389.53,506.98L390.01,507.01L390.48,507.03L390.96,507.05L391.44,507.06L391.91,507.07L392.39,507.08L392.87,507.08L393.34,507.08L393.82,507.08L394.29,507.09L394.77,507.09L395.25,507.09L395.72,507.09L396.20,507.08L396.68,507.08L397.15,507.08L397.63,507.08L398.10,507.08L398.58,507.07L399.06,507.06L399.53,507.04L400.01,507.02L400.49,506.99L400.96,506.95L401.44,506.91L401.91,506.85L402.39,506.78L402.87,506.69L403.34,506.59L403.82,506.48L404.30,506.35L404.77,506.20L405.25,506.04L405.72,505.86L406.20,505.66L406.68,505.44L407.15,505.21L407.63,504.96L408.11,504.70L408.58,504.42L409.06,504.14L409.53,503.84L410.01,503.54L410.49,503.23L410.96,502.92L411.44,502.61L411.92,502.30L412.39,502.00L412.87,501.71L413.34,501.43L413.82,501.16L414.30,500.91L414.77,500.68L415.25,500.47L415.73,500.28L416.20,500.12L416.68,499.99L417.15,499.88L417.63,499.81L418.11,499.76L418.58,499.75L419.06,499.77L419.54,499.82L420.01,499.90L420.49,500.02L420.96,500.16L421.44,500.33L421.92,500.52L422.39,500.74L422.87,500.98L423.35,501.25L423.82,501.52L424.30,501.81L424.77,502.11L425.25,502.42L425.73,502.72L426.20,503.03L426.68,503.33L427.16,503.63L427.63,503.91L428.11,504.18L428.58,504.44L429.06,504.67L429.54,504.89L430.01,505.09L430.49,505.26L430.97,505.41L431.44,505.54L431.92,505.65L432.39,505.74L432.87,505.81L433.35,505.86L433.82,505.91L434.30,505.94L434.78,505.96L435.25,505.97L435.73,505.97L436.21,505.98L436.68,505.98L437.16,505.98L437.63,505.98L438.11,505.98L438.59,505.98L439.06,505.98L439.54,505.97L440.02,505.97L440.49,505.95L440.97,505.93L441.44,505.90L441.92,505.85L442.40,505.79L442.87,505.71L443.35,505.61L443.83,505.48L444.30,505.33L444.78,505.16L445.25,504.96L445.73,504.74L446.21,504.49L446.68,504.22L447.16,503.94L447.64,503.64L448.11,503.33L448.59,503.02L449.06,502.71L449.54,502.41L450.02,502.12L450.49,501.85L450.97,501.60L451.45,501.38L451.92,501.19L452.40,501.05L452.87,500.94L453.35,500.88L453.83,500.86L454.30,500.89L454.78,500.96L455.26,501.08L455.73,501.24L456.21,501.43L456.68,501.66L457.16,501.92L457.64,502.20L458.11,502.50L458.59,502.80L459.07,503.11L459.54,503.42L460.02,503.72L460.49,504.00L460.97,504.26L461.45,504.50L461.92,504.70L462.40,504.88L462.88,505.03L463.35,505.15L463.83,505.25L464.30,505.32L464.78,505.36L465.26,505.40L465.73,505.41L466.21,505.42L466.69,505.43L467.16,505.43L467.64,505.43L468.11,505.43L468.59,505.43L469.07,505.43L469.54,505.42L470.02,505.41L470.50,505.38L470.97,505.34L471.45,505.27L471.92,505.19L472.40,505.07L472.88,504.92L473.35,504.74L473.83,504.52L474.31,504.28L474.78,504.01L475.26,503.71L475.73,503.41L476.21,503.09L476.69,502.78L477.16,502.49L477.64,502.22L478.12,501.98L478.59,501.78L479.07,501.63L479.54,501.53L480.02,501.49L480.50,501.51L480.97,501.59L481.45,501.73L481.93,501.91L482.40,502.15L482.88,502.41L483.35,502.70L483.83,503.01L484.31,503.32L484.78,503.63L485.26,503.92L485.74,504.18L486.21,504.41L486.69,504.61L487.17,504.77L487.64,504.89L488.12,504.98L488.59,505.03L489.07,505.07L489.55,505.09L490.02,505.10L490.50,505.10L490.98,505.10L491.45,505.10L491.93,505.10L492.40,505.10L492.88,505.08L493.36,505.06L493.83,505.01L494.31,504.94L494.79,504.83L495.26,504.69L495.74,504.50L496.21,504.27L496.69,504.01L497.17,503.72L497.64,503.41L498.12,503.10L498.60,502.80L499.07,502.52L499.55,502.28L500.02,502.09L500.50,501.96L500.98,501.90L501.45,501.92L501.93,502.01L502.41,502.16L502.88,502.38L503.36,502.64L503.83,502.93L504.31,503.24L504.79,503.56L505.26,503.85L505.74,504.12L506.22,504.35L506.69,504.53L507.17,504.67L507.64,504.77L508.12,504.83L508.60,504.86L509.07,504.88L509.55,504.88L510.03,504.88L510.50,504.88L510.98,504.88L511.45,504.87L511.93,504.86L512.41,504.82L512.88,504.75L513.36,504.64L513.84,504.48L514.31,504.27L514.79,504.02L515.26,503.74L515.74,503.43L516.22,503.11L516.69,502.82L517.17,502.56L517.65,502.36L518.12,502.23L518.60,502.19L519.07,502.23L519.55,502.35L520.03,502.55L520.50,502.81L520.98,503.11L521.46,503.42L521.93,503.73L522.41,504.01L522.88,504.24L523.36,504.43L523.84,504.56L524.31,504.65L524.79,504.70L525.27,504.72L525.74,504.72L526.22,504.73L526.69,504.73L527.17,504.72L527.65,504.71L528.12,504.68L528.60,504.62L529.08,504.51L529.55,504.35L530.03,504.13L530.50,503.86L530.98,503.56L531.46,503.25L531.93,502.95L532.41,502.69L532.89,502.51L533.36,502.41L533.84,502.41L534.31,502.51L534.79,502.70L535.27,502.96L535.74,503.26L536.22,503.57L536.70,503.87L537.17,504.13L537.65,504.33L538.13,504.46L538.60,504.55L539.08,504.59L539.55,504.61L540.03,504.61L540.51,504.61L540.98,504.61L541.46,504.60L541.94,504.57L542.41,504.50L542.89,504.37L543.36,504.18L543.84,503.94L544.32,503.64L544.79,503.33L545.27,503.03L545.75,502.78L546.22,502.62L546.70,502.56L547.17,502.62L547.65,502.78L548.13,503.03L548.60,503.33L549.08,503.64L549.56,503.93L550.03,504.17L550.51,504.34L550.98,504.44L551.46,504.50L551.94,504.52L552.41,504.52L552.89,504.52L553.37,504.52L553.84,504.50L554.32,504.45L554.79,504.35L555.27,504.18L555.75,503.95L556.22,503.65L556.70,503.34L557.18,503.05L557.65,502.82L558.13,502.70L558.60,502.71L559.08,502.84L559.56,503.07L560.03,503.36L560.51,503.68L560.99,503.96L561.46,504.18L561.94,504.33L562.41,504.41L562.89,504.44L563.37,504.45L563.84,504.45L564.32,504.44L564.80,504.43L565.27,504.38L565.75,504.26L566.22,504.07L566.70,503.80L567.18,503.49L567.65,503.19L568.13,502.94L568.61,502.81L569.08,502.81L569.56,502.95L570.03,503.20L570.51,503.51L570.99,503.81L571.46,504.07L571.94,504.24L572.42,504.34L572.89,504.38L573.37,504.39L573.84,504.39L574.32,504.38L574.80,504.36L575.27,504.29L575.75,504.14L576.23,503.91L576.70,503.61L577.18,503.30L577.65,503.05L578.13,502.90L578.61,502.90L579.08,503.05L579.56,503.32L580.04,503.63L580.51,503.92L580.99,504.14L581.46,504.27L581.94,504.32L582.42,504.34L582.89,504.34L583.37,504.34L583.85,504.31L584.32,504.23L584.80,504.07L585.27,503.82L585.75,503.51L586.23,503.21L586.70,503.01L587.18,502.96L587.66,503.07L588.13,503.31L588.61,503.62L589.09,503.92L589.56,504.13L590.04,504.25L590.51,504.29L590.99,504.30L591.47,504.30L591.94,504.29L592.42,504.24L592.90,504.11L593.37,503.87L593.85,503.57L594.32,503.27L594.80,503.07L595.28,503.02L595.75,503.15L596.23,503.42L596.71,503.73L597.18,504.00L597.66,504.17L598.13,504.24L598.61,504.26L599.09,504.26L599.56,504.26L600.04,504.22L600.52,504.09L600.99,503.86L601.47,503.56L601.94,503.27L602.42,503.09L602.90,503.10L603.37,503.29L603.85,503.58L604.33,503.88L604.80,504.10L605.28,504.20L605.75,504.23L606.23,504.23L606.71,504.23L607.18,504.19L607.66,504.06L608.14,503.83L608.61,503.52L609.09,503.24L609.56,503.12L610.04,503.20L610.52,503.44L610.99,503.75L611.47,504.01L611.95,504.15L612.42,504.20L612.90,504.20L613.37,504.20L613.85,504.17L614.33,504.05L614.80,503.81L615.28,503.50L615.76,503.24L616.23,503.16L616.71,503.29L617.18,503.58L617.66,503.88L618.14,504.08L618.61,504.17L619.09,504.18L619.57,504.18L620.04,504.16L620.52,504.06L620.99,503.84L621.47,503.53L621.95,503.27L622.42,503.20L622.90,503.35L623.38,503.65L623.85,503.93L624.33,504.10L624.80,504.15L625.28,504.16L625.76,504.15L626.23,504.10L626.71,503.93L627.19,503.64L627.66,503.35L628.14,503.23L628.61,503.34L629.09,503.62L629.57,503.91L630.04,504.09L630.52,504.14L631.00,504.14L631.47,504.13L631.95,504.06L632.42,503.85L632.90,503.55L633.38,503.30L633.85,503.28L634.33,503.49L634.81,503.79L635.28,504.02L635.76,504.11L636.23,504.12L636.71,504.12L637.19,504.07L637.66,503.89L638.14,503.59L638.62,503.33L639.09,503.30L639.57,503.52L640.05,503.83L640.52,504.04L641.00,504.10L641.47,504.11L641.95,504.10L642.43,504.01L642.90,503.77L643.38,503.46L643.86,503.31L644.33,503.42L644.81,503.72L645.28,503.98L645.76,504.08L646.24,504.09L646.71,504.09L647.19,504.02L647.67,503.80L648.14,503.49L648.62,503.33L649.09,503.45L649.57,503.75L650.05,503.99L650.52,504.07L651.00,504.08L651.48,504.07L651.95,503.96L652.43,503.69L652.90,503.41L653.38,503.37L653.86,503.60L654.33,503.90L654.81,504.05L655.29,504.07L655.76,504.07L656.24,504.00L656.71,503.76L657.19,503.47L657.67,503.37L658.14,503.58L658.62,503.88L659.10,504.03L659.57,504.06L660.05,504.05L660.52,503.98L661.00,503.72L661.48,503.44L661.95,503.41L662.43,503.66L662.91,503.94L663.38,504.04L663.86,504.05L664.33,504.03L664.81,503.88L665.29,503.58L665.76,503.40L666.24,503.55L666.72,503.85L667.19,504.02L667.67,504.04L668.14,504.03L668.62,503.92L669.10,503.64L669.57,503.42L670.05,503.52L670.53,503.82L671.00,504.00" fill="none" stroke="#00008b" stroke-width="3.0" stroke-dasharray="10,4" stroke-linejoin="round"/>
<path d="M99.96,557.78L100.44,557.52L100.92,557.26L101.39,557.01L101.87,556.75L102.35,556.50L102.82,556.24L103.30,555.99L103.77,555.73L104.25,555.48L104.73,555.23L105.20,554.97L105.68,554.72L106.16,554.47L106.63,554.22L107.11,553.97L107.58,553.72L108.06,553.47L108.54,553.22L109.01,552.97L109.49,552.72L109.97,552.48L110.44,552.23L110.92,551.98L111.39,551.74L111.87,551.49L112.35,551.25L112.82,551.00L113.30,550.76L113.78,550.52L114.25,550.27L114.73,550.03L115.20,549.79L115.68,549.55L116.16,549.31L116.63,549.07L117.11,548.83L117.59,548.59L118.06,548.35L118.54,548.12L119.01,547.88L119.49,547.64L119.97,547.41L120.44,547.17L120.92,546.94L121.40,546.70L121.87,546.47L122.35,546.24L122.82,546.00L123.30,545.77L123.78,545.54L124.25,545.31L124.73,545.08L125.21,544.85L125.68,544.62L126.16,544.39L126.64,544.16L127.11,543.94L127.59,543.71L128.06,543.48L128.54,543.26L129.02,543.03L129.49,542.81L129.97,542.58L130.45,542.36L130.92,542.14L131.40,541.91L131.87,541.69L132.35,541.47L132.83,541.25L133.30,541.03L133.78,540.81L134.26,540.59L134.73,540.38L135.21,540.16L135.68,539.94L136.16,539.73L136.64,539.51L137.11,539.30L137.59,539.08L138.07,538.87L138.54,538.66L139.02,538.44L139.49,538.23L139.97,538.02L140.45,537.81L140.92,537.60L141.40,537.39L141.88,537.18L142.35,536.97L142.83,536.77L143.30,536.56L143.78,536.35L144.26,536.15L144.73,535.94L145.21,535.74L145.69,535.53L146.16,535.33L146.64,535.13L147.11,534.93L147.59,534.73L148.07,534.53L148.54,534.33L149.02,534.13L149.50,533.93L149.97,533.73L150.45,533.53L150.92,533.34L151.40,533.14L151.88,532.95L152.35,532.75L152.83,532.56L153.31,532.36L153.78,532.17L154.26,531.98L154.73,531.79L155.21,531.60L155.69,531.41L156.16,531.22L156.64,531.03L157.12,530.84L157.59,530.66L158.07,530.47L158.54,530.28L159.02,530.10L159.50,529.91L159.97,529.73L160.45,529.55L160.93,529.36L161.40,529.18L161.88,529.00L162.35,528.82L162.83,528.64L163.31,528.46L163.78,528.28L164.26,528.10L164.74,527.93L165.21,527.75L165.69,527.57L166.16,527.40L166.64,527.22L167.12,527.05L167.59,526.88L168.07,526.71L168.55,526.53L169.02,526.36L169.50,526.19L169.97,526.02L170.45,525.85L170.93,525.69L171.40,525.52L171.88,525.35L172.36,525.19L172.83,525.02L173.31,524.86L173.78,524.69L174.26,524.53L174.74,524.37L175.21,524.20L175.69,524.04L176.17,523.88L176.64,523.72L177.12,523.56L177.60,523.41L178.07,523.25L178.55,523.09L179.02,522.94L179.50,522.78L179.98,522.63L180.45,522.47L180.93,522.32L181.41,522.17L181.88,522.01L182.36,521.86L182.83,521.71L183.31,521.56L183.79,521.41L184.26,521.26L184.74,521.12L185.22,520.97L185.69,520.82L186.17,520.68L186.64,520.53L187.12,520.39L187.60,520.25L188.07,520.10L188.55,519.96L189.03,519.82L189.50,519.68L189.98,519.54L190.45,519.40L190.93,519.26L191.41,519.13L191.88,518.99L192.36,518.85L192.84,518.72L193.31,518.58L193.79,518.45L194.26,518.31L194.74,518.18L195.22,518.05L195.69,517.92L196.17,517.79L196.65,517.66L197.12,517.53L197.60,517.40L198.07,517.27L198.55,517.15L199.03,517.02L199.50,516.90L199.98,516.77L200.46,516.65L200.93,516.52L201.41,516.40L201.88,516.28L202.36,516.16L202.84,516.04L203.31,515.92L203.79,515.80L204.27,515.68L204.74,515.56L205.22,515.45L205.69,515.33L206.17,515.22L206.65,515.10L207.12,514.99L207.60,514.88L208.08,514.76L208.55,514.65L209.03,514.54L209.50,514.43L209.98,514.32L210.46,514.21L210.93,514.10L211.41,514.00L211.89,513.89L212.36,513.78L212.84,513.68L213.31,513.57L213.79,513.47L214.27,513.37L214.74,513.26L215.22,513.16L215.70,513.06L216.17,512.96L216.65,512.86L217.12,512.76L217.60,512.66L218.08,512.56L218.55,512.47L219.03,512.37L219.51,512.28L219.98,512.18L220.46,512.09L220.93,511.99L221.41,511.90L221.89,511.81L222.36,511.72L222.84,511.63L223.32,511.54L223.79,511.45L224.27,511.36L224.74,511.27L225.22,511.18L225.70,511.10L226.17,511.01L226.65,510.92L227.13,510.84L227.60,510.76L228.08,510.67L228.56,510.59L229.03,510.51L229.51,510.43L229.98,510.35L230.46,510.27L230.94,510.19L231.41,510.11L231.89,510.03L232.37,509.95L232.84,509.88L233.32,509.80L233.79,509.72L234.27,509.65L234.75,509.58L235.22,509.50L235.70,509.43L236.18,509.36L236.65,509.29L237.13,509.21L237.60,509.14L238.08,509.07L238.56,509.01L239.03,508.94L239.51,508.87L239.99,508.80L240.46,508.73L240.94,508.67L241.41,508.60L241.89,508.54L242.37,508.47L242.84,508.41L243.32,508.35L243.80,508.29L244.27,508.22L244.75,508.16L245.22,508.10L245.70,508.04L246.18,507.98L246.65,507.92L247.13,507.87L247.61,507.81L248.08,507.75L248.56,507.69L249.03,507.64L249.51,507.58L249.99,507.53L250.46,507.47L250.94,507.42L251.42,507.37L251.89,507.32L252.37,507.26L252.84,507.21L253.32,507.16L253.80,507.11L254.27,507.06L254.75,507.01L255.23,506.96L255.70,506.92L256.18,506.87L256.65,506.82L257.13,506.77L257.61,506.73L258.08,506.68L258.56,506.64L259.04,506.59L259.51,506.55L259.99,506.51L260.46,506.46L260.94,506.42L261.42,506.38L261.89,506.34L262.37,506.30L262.85,506.26L263.32,506.22L263.80,506.18L264.27,506.14L264.75,506.10L265.23,506.06L265.70,506.02L266.18,505.99L266.66,505.95L267.13,505.91L267.61,505.88L268.08,505.84L268.56,505.81L269.04,505.77L269.51,505.74L269.99,505.70L270.47,505.67L270.94,505.64L271.42,505.61L271.89,505.57L272.37,505.54L272.85,505.51L273.32,505.48L273.80,505.45L274.28,505.42L274.75,505.39L275.23,505.36L275.70,505.34L276.18,505.31L276.66,505.28L277.13,505.25L277.61,505.23L278.09,505.20L278.56,505.17L279.04,505.15L279.52,505.12L279.99,505.10L280.47,505.07L280.94,505.05L281.42,505.02L281.90,505.00L282.37,504.98L282.85,504.95L283.33,504.93L283.80,504.91L284.28,504.89L284.75,504.87L285.23,504.84L285.71,504.82L286.18,504.80L286.66,504.78L287.14,504.76L287.61,504.74L288.09,504.72L288.56,504.71L289.04,504.69L289.52,504.67L289.99,504.65L290.47,504.63L290.95,504.61L291.42,504.60L291.90,504.58L292.37,504.56L292.85,504.55L293.33,504.53L293.80,504.52L294.28,504.50L294.76,504.49L295.23,504.47L295.71,504.46L296.18,504.44L296.66,504.43L297.14,504.41L297.61,504.40L298.09,504.39L298.57,504.37L299.04,504.36L299.52,504.35L299.99,504.33L300.47,504.32L300.95,504.31L301.42,504.30L301.90,504.29L302.38,504.28L302.85,504.26L303.33,504.25L303.80,504.24L304.28,504.23L304.76,504.22L305.23,504.21L305.71,504.20L306.19,504.19L306.66,504.18L307.14,504.17L307.61,504.16L308.09,504.16L308.57,504.15L309.04,504.14L309.52,504.13L310.00,504.12L310.47,504.11L310.95,504.11L311.42,504.10L311.90,504.09L312.38,504.08L312.85,504.08L313.33,504.07L313.81,504.06L314.28,504.05L314.76,504.05L315.23,504.04L315.71,504.04L316.19,504.03L316.66,504.02L317.14,504.02L317.62,504.01L318.09,504.01L318.57,504.00L319.04,503.99L319.52,503.99L320.00,503.98L320.47,503.98L320.95,503.97L321.43,503.97L321.90,503.96L322.38,503.96L322.85,503.96L323.33,503.95L323.81,503.95L324.28,503.94L324.76,503.94L325.24,503.93L325.71,503.93L326.19,503.93L326.66,503.92L327.14,503.92L327.62,503.92L328.09,503.91L328.57,503.91L329.05,503.91L329.52,503.90L330.00,503.90L330.47,503.90L330.95,503.89L331.43,503.89L331.90,503.89L332.38,503.89L332.86,503.88L333.33,503.88L333.81,503.88L334.29,503.88L334.76,503.87L335.24,503.87L335.71,503.87L336.19,503.87L336.67,503.86L337.14,503.86L337.62,503.86L338.10,503.86L338.57,503.86L339.05,503.85L339.52,503.85L340.00,503.85L340.48,503.85L340.95,503.85L341.43,503.85L341.91,503.84L342.38,503.84L342.86,503.84L343.33,503.84L343.81,503.84L344.29,503.84L344.76,503.84L345.24,503.83L345.72,503.83L346.19,503.83L346.67,503.83L347.14,503.83L347.62,503.83L348.10,503.83L348.57,503.83L349.05,503.83L349.53,503.82L350.00,503.82L350.48,503.82L350.95,503.82L351.43,503.82L351.91,503.82L352.38,503.82L352.86,503.82L353.34,503.82L353.81,503.82L354.29,503.82L354.76,503.82L355.24,503.82L355.72,503.82L356.19,503.81L356.67,503.81L357.15,503.81L357.62,503.81L358.10,503.81L358.57,503.81L359.05,503.81L359.53,503.81L360.00,503.81L360.48,503.81L360.96,503.81L361.43,503.81L361.91,503.81L362.38,503.81L362.86,503.81L363.34,503.81L363.81,503.81L364.29,503.81L364.77,503.81L365.24,503.81L365.72,503.81L366.19,503.81L366.67,503.81L367.15,503.81L367.62,503.81L368.10,503.81L368.58,503.80L369.05,503.80L369.53,503.80L370.00,503.80L370.48,503.80L370.96,503.80L371.43,503.80L371.91,503.80L372.39,503.80L372.86,503.80L373.34,503.80L373.81,503.80L374.29,503.80L374.77,503.80L375.24,503.80L375.72,503.80L376.20,503.80L376.67,503.80L377.15,503.80L377.62,503.80L378.10,503.80L378.58,503.80L379.05,503.80L379.53,503.80L380.01,503.80L380.48,503.80L380.96,503.80L381.43,503.80L381.91,503.80L382.39,503.80L382.86,503.80L383.34,503.80L383.82,503.80L384.29,503.80L384.77,503.80L385.25,503.80L385.72,503.80L386.20,503.80L386.67,503.80L387.15,503.80L387.63,503.80L388.10,503.80L388.58,503.80L389.06,503.80L389.53,503.80L390.01,503.80L390.48,503.80L390.96,503.80L391.44,503.80L391.91,503.80L392.39,503.80L392.87,503.80L393.34,503.80L393.82,503.80L394.29,503.80L394.77,503.80L395.25,503.80L395.72,503.80L396.20,503.80L396.68,503.80L397.15,503.80L397.63,503.80L398.10,503.80L398.58,503.80L399.06,503.80L399.53,503.80L400.01,503.80L400.49,503.80L400.96,503.80L401.44,503.80L401.91,503.80L402.39,503.80L402.87,503.80L403.34,503.80L403.82,503.80L404.30,503.80L404.77,503.80L405.25,503.80L405.72,503.80L406.20,503.80L406.68,503.80L407.15,503.80L407.63,503.80L408.11,503.80L408.58,503.80L409.06,503.80L409.53,503.80L410.01,503.80L410.49,503.80L410.96,503.80L411.44,503.80L411.92,503.80L412.39,503.80L412.87,503.80L413.34,503.80L413.82,503.80L414.30,503.80L414.77,503.80L415.25,503.80L415.73,503.80L416.20,503.80L416.68,503.80L417.15,503.80L417.63,503.80L418.11,503.80L418.58,503.80L419.06,503.80L419.54,503.80L420.01,503.80L420.49,503.80L420.96,503.80L421.44,503.80L421.92,503.80L422.39,503.80L422.87,503.80L423.35,503.80L423.82,503.80L424.30,503.80L424.77,503.80L425.25,503.80L425.73,503.80L426.20,503.80L426.68,503.80L427.16,503.80L427.63,503.80L428.11,503.80L428.58,503.80L429.06,503.80L429.54,503.80L430.01,503.80L430.49,503.80L430.97,503.80L431.44,503.80L431.92,503.80L432.39,503.80L432.87,503.80L433.35,503.80L433.82,503.80L434.30,503.80L434.78,503.80L435.25,503.80L435.73,503.80L436.21,503.80L436.68,503.80L437.16,503.80L437.63,503.80L438.11,503.80L438.59,503.80L439.06,503.80L439.54,503.80L440.02,503.80L440.49,503.80L440.97,503.80L441.44,503.80L441.92,503.80L442.40,503.80L442.87,503.80L443.35,503.80L443.83,503.80L444.30,503.80L444.78,503.80L445.25,503.80L445.73,503.80L446.21,503.80L446.68,503.80L447.16,503.80L447.64,503.80L448.11,503.80L448.59,503.80L449.06,503.80L449.54,503.80L450.02,503.80L450.49,503.80L450.97,503.80L451.45,503.80L451.92,503.80L452.40,503.80L452.87,503.80L453.35,503.80L453.83,503.80L454.30,503.80L454.78,503.80L455.26,503.80L455.73,503.80L456.21,503.80L456.68,503.80L457.16,503.80L457.64,503.80L458.11,503.80L458.59,503.80L459.07,503.80L459.54,503.80L460.02,503.80L460.49,503.80L460.97,503.80L461.45,503.80L461.92,503.80L462.40,503.80L462.88,503.80L463.35,503.80L463.83,503.80L464.30,503.80L464.78,503.80L465.26,503.80L465.73,503.80L466.21,503.80L466.69,503.80L467.16,503.80L467.64,503.80L468.11,503.80L468.59,503.80L469.07,503.80L469.54,503.80L470.02,503.80L470.50,503.80L470.97,503.80L471.45,503.80L471.92,503.80L472.40,503.80L472.88,503.80L473.35,503.80L473.83,503.80L474.31,503.80L474.78,503.80L475.26,503.80L475.73,503.80L476.21,503.80L476.69,503.80L477.16,503.80L477.64,503.80L478.12,503.80L478.59,503.80L479.07,503.80L479.54,503.80L480.02,503.80L480.50,503.80L480.97,503.80L481.45,503.80L481.93,503.80L482.40,503.80L482.88,503.80L483.35,503.80L483.83,503.80L484.31,503.80L484.78,503.80L485.26,503.80L485.74,503.80L486.21,503.80L486.69,503.80L487.17,503.80L487.64,503.80L488.12,503.80L488.59,503.80L489.07,503.80L489.55,503.80L490.02,503.80L490.50,503.80L490.98,503.80L491.45,503.80L491.93,503.80L492.40,503.80L492.88,503.80L493.36,503.80L493.83,503.80L494.31,503.80L494.79,503.80L495.26,503.80L495.74,503.80L496.21,503.80L496.69,503.80L497.17,503.80L497.64,503.80L498.12,503.80L498.60,503.80L499.07,503.80L499.55,503.80L500.02,503.80L500.50,503.80L500.98,503.80L501.45,503.80L501.93,503.80L502.41,503.80L502.88,503.80L503.36,503.80L503.83,503.80L504.31,503.80L504.79,503.80L505.26,503.80L505.74,503.80L506.22,503.80L506.69,503.80L507.17,503.80L507.64,503.80L508.12,503.80L508.60,503.80L509.07,503.80L509.55,503.80L510.03,503.80L510.50,503.80L510.98,503.80L511.45,503.80L511.93,503.80L512.41,503.80L512.88,503.80L513.36,503.80L513.84,503.80L514.31,503.80L514.79,503.80L515.26,503.80L515.74,503.80L516.22,503.80L516.69,503.80L517.17,503.80L517.65,503.80L518.12,503.80L518.60,503.80L519.07,503.80L519.55,503.80L520.03,503.80L520.50,503.80L520.98,503.80L521.46,503.80L521.93,503.80L522.41,503.80L522.88,503.80L523.36,503.80L523.84,503.80L524.31,503.80L524.79,503.80L525.27,503.80L525.74,503.80L526.22,503.80L526.69,503.80L527.17,503.80L527.65,503.80L528.12,503.80L528.60,503.80L529.08,503.80L529.55,503.80L530.03,503.80L530.50,503.80L530.98,503.80L531.46,503.80L531.93,503.80L532.41,503.80L532.89,503.80L533.36,503.80L533.84,503.80L534.31,503.80L534.79,503.80L535.27,503.80L535.74,503.80L536.22,503.80L536.70,503.80L537.17,503.80L537.65,503.80L538.13,503.80L538.60,503.80L539.08,503.80L539.55,503.80L540.03,503.80L540.51,503.80L540.98,503.80L541.46,503.80L541.94,503.80L542.41,503.80L542.89,503.80L543.36,503.80L543.84,503.80L544.32,503.80L544.79,503.80L545.27,503.80L545.75,503.80L546.22,503.80L546.70,503.80L547.17,503.80L547.65,503.80L548.13,503.80L548.60,503.80L549.08,503.80L549.56,503.80L550.03,503.80L550.51,503.80L550.98,503.80L551.46,503.80L551.94,503.80L552.41,503.80L552.89,503.80L553.37,503.80L553.84,503.80L554.32,503.80L554.79,503.80L555.27,503.80L555.75,503.80L556.22,503.80L556.70,503.80L557.18,503.80L557.65,503.80L558.13,503.80L558.60,503.80L559.08,503.80L559.56,503.80L560.03,503.80L560.51,503.80L560.99,503.80L561.46,503.80L561.94,503.80L562.41,503.80L562.89,503.80L563.37,503.80L563.84,503.80L564.32,503.80L564.80,503.80L565.27,503.80L565.75,503.80L566.22,503.80L566.70,503.80L567.18,503.80L567.65,503.80L568.13,503.80L568.61,503.80L569.08,503.80L569.56,503.80L570.03,503.80L570.51,503.80L570.99,503.80L571.46,503.80L571.94,503.80L572.42,503.80L572.89,503.80L573.37,503.80L573.84,503.80L574.32,503.80L574.80,503.80L575.27,503.80L575.75,503.80L576.23,503.80L576.70,503.80L577.18,503.80L577.65,503.80L578.13,503.80L578.61,503.80L579.08,503.80L579.56,503.80L580.04,503.80L580.51,503.80L580.99,503.80L581.46,503.80L581.94,503.80L582.42,503.80L582.89,503.80L583.37,503.80L583.85,503.80L584.32,503.80L584.80,503.80L585.27,503.80L585.75,503.80L586.23,503.80L586.70,503.80L587.18,503.80L587.66,503.80L588.13,503.80L588.61,503.80L589.09,503.80L589.56,503.80L590.04,503.80L590.51,503.80L590.99,503.80L591.47,503.80L591.94,503.80L592.42,503.80L592.90,503.80L593.37,503.80L593.85,503.80L594.32,503.80L594.80,503.80L595.28,503.80L595.75,503.80L596.23,503.80L596.71,503.80L597.18,503.80L597.66,503.80L598.13,503.80L598.61,503.80L599.09,503.80L599.56,503.80L600.04,503.80L600.52,503.80L600.99,503.80L601.47,503.80L601.94,503.80L602.42,503.80L602.90,503.80L603.37,503.80L603.85,503.80L604.33,503.80L604.80,503.80L605.28,503.80L605.75,503.80L606.23,503.80L606.71,503.80L607.18,503.80L607.66,503.80L608.14,503.80L608.61,503.80L609.09,503.80L609.56,503.80L610.04,503.80L610.52,503.80L610.99,503.80L611.47,503.80L611.95,503.80L612.42,503.80L612.90,503.80L613.37,503.80L613.85,503.80L614.33,503.80L614.80,503.80L615.28,503.80L615.76,503.80L616.23,503.80L616.71,503.80L617.18,503.80L617.66,503.80L618.14,503.80L618.61,503.80L619.09,503.80L619.57,503.80L620.04,503.80L620.52,503.80L620.99,503.80L621.47,503.80L621.95,503.80L622.42,503.80L622.90,503.80L623.38,503.80L623.85,503.80L624.33,503.80L624.80,503.80L625.28,503.80L625.76,503.80L626.23,503.80L626.71,503.80L627.19,503.80L627.66,503.80L628.14,503.80L628.61,503.80L629.09,503.80L629.57,503.80L630.04,503.80L630.52,503.80L631.00,503.80L631.47,503.80L631.95,503.80L632.42,503.80L632.90,503.80L633.38,503.80L633.85,503.80L634.33,503.80L634.81,503.80L635.28,503.80L635.76,503.80L636.23,503.80L636.71,503.80L637.19,503.80L637.66,503.80L638.14,503.80L638.62,503.80L639.09,503.80L639.57,503.80L640.05,503.80L640.52,503.80L641.00,503.80L641.47,503.80L641.95,503.80L642.43,503.80L642.90,503.80L643.38,503.80L643.86,503.80L644.33,503.80L644.81,503.80L645.28,503.80L645.76,503.80L646.24,503.80L646.71,503.80L647.19,503.80L647.67,503.80L648.14,503.80L648.62,503.80L649.09,503.80L649.57,503.80L650.05,503.80L650.52,503.80L651.00,503.80L651.48,503.80L651.95,503.80L652.43,503.80L652.90,503.80L653.38,503.80L653.86,503.80L654.33,503.80L654.81,503.80L655.29,503.80L655.76,503.80L656.24,503.80L656.71,503.80L657.19,503.80L657.67,503.80L658.14,503.80L658.62,503.80L659.10,503.80L659.57,503.80L660.05,503.80L660.52,503.80L661.00,503.80L661.48,503.80L661.95,503.80L662.43,503.80L662.91,503.80L663.38,503.80L663.86,503.80L664.33,503.80L664.81,503.80L665.29,503.80L665.76,503.80L666.24,503.80L666.72,503.80L667.19,503.80L667.67,503.80L668.14,503.80L668.62,503.80L669.10,503.80L669.57,503.80L670.05,503.80L670.53,503.80L671.00,503.80" fill="none" stroke="#ff8c1a" stroke-width="3.0" stroke-dasharray="4.1,4.8" stroke-linejoin="round"/>
<path d="M99.96,573.10L100.44,572.78L100.92,572.47L101.39,572.16L101.87,571.85L102.35,571.54L102.82,571.23L103.30,570.92L103.77,570.62L104.25,570.31L104.73,570.01L105.20,569.70L105.68,569.40L106.16,569.10L106.63,568.80L107.11,568.50L107.58,568.20L108.06,567.90L108.54,567.61L109.01,567.31L109.49,567.02L109.97,566.73L110.44,566.44L110.92,566.14L111.39,565.86L111.87,565.57L112.35,565.28L112.82,564.99L113.30,564.71L113.78,564.42L114.25,564.14L114.73,563.86L115.20,563.58L115.68,563.30L116.16,563.02L116.63,562.74L117.11,562.46L117.59,562.19L118.06,561.91L118.54,561.64L119.01,561.36L119.49,561.09L119.97,560.82L120.44,560.55L120.92,560.28L121.40,560.02L121.87,559.75L122.35,559.48L122.82,559.22L123.30,558.96L123.78,558.69L124.25,558.43L124.73,558.17L125.21,557.91L125.68,557.65L126.16,557.40L126.64,557.14L127.11,556.88L127.59,556.63L128.06,556.38L128.54,556.12L129.02,555.87L129.49,555.62L129.97,555.37L130.45,555.13L130.92,554.88L131.40,554.63L131.87,554.39L132.35,554.14L132.83,553.90L133.30,553.66L133.78,553.42L134.26,553.18L134.73,552.94L135.21,552.70L135.68,552.46L136.16,552.23L136.64,551.99L137.11,551.76L137.59,551.52L138.07,551.29L138.54,551.06L139.02,550.83L139.49,550.60L139.97,550.37L140.45,550.14L140.92,549.92L141.40,549.69L141.88,549.47L142.35,549.24L142.83,549.02L143.30,548.80L143.78,548.58L144.26,548.36L144.73,548.14L145.21,547.92L145.69,547.71L146.16,547.49L146.64,547.28L147.11,547.06L147.59,546.85L148.07,546.64L148.54,546.43L149.02,546.22L149.50,546.01L149.97,545.80L150.45,545.59L150.92,545.38L151.40,545.18L151.88,544.97L152.35,544.77L152.83,544.57L153.31,544.37L153.78,544.16L154.26,543.96L154.73,543.76L155.21,543.57L155.69,543.37L156.16,543.17L156.64,542.98L157.12,542.78L157.59,542.59L158.07,542.40L158.54,542.20L159.02,542.01L159.50,541.82L159.97,541.63L160.45,541.44L160.93,541.26L161.40,541.07L161.88,540.88L162.35,540.70L162.83,540.51L163.31,540.33L163.78,540.15L164.26,539.97L164.74,539.78L165.21,539.60L165.69,539.43L166.16,539.25L166.64,539.07L167.12,538.89L167.59,538.72L168.07,538.54L168.55,538.37L169.02,538.19L169.50,538.02L169.97,537.85L170.45,537.68L170.93,537.51L171.40,537.34L171.88,537.17L172.36,537.00L172.83,536.84L173.31,536.67L173.78,536.51L174.26,536.34L174.74,536.18L175.21,536.01L175.69,535.85L176.17,535.69L176.64,535.53L177.12,535.37L177.60,535.21L178.07,535.05L178.55,534.90L179.02,534.74L179.50,534.58L179.98,534.43L180.45,534.27L180.93,534.12L181.41,533.97L181.88,533.82L182.36,533.66L182.83,533.51L183.31,533.36L183.79,533.21L184.26,533.07L184.74,532.92L185.22,532.77L185.69,532.62L186.17,532.48L186.64,532.33L187.12,532.19L187.60,532.05L188.07,531.90L188.55,531.76L189.03,531.62L189.50,531.48L189.98,531.34L190.45,531.20L190.93,531.06L191.41,530.92L191.88,530.79L192.36,530.65L192.84,530.51L193.31,530.38L193.79,530.25L194.26,530.11L194.74,529.98L195.22,529.85L195.69,529.71L196.17,529.58L196.65,529.45L197.12,529.32L197.60,529.19L198.07,529.07L198.55,528.94L199.03,528.81L199.50,528.68L199.98,528.56L200.46,528.43L200.93,528.31L201.41,528.18L201.88,528.06L202.36,527.94L202.84,527.82L203.31,527.69L203.79,527.57L204.27,527.45L204.74,527.33L205.22,527.21L205.69,527.10L206.17,526.98L206.65,526.86L207.12,526.74L207.60,526.63L208.08,526.51L208.55,526.40L209.03,526.28L209.50,526.17L209.98,526.06L210.46,525.94L210.93,525.83L211.41,525.72L211.89,525.61L212.36,525.50L212.84,525.39L213.31,525.28L213.79,525.17L214.27,525.06L214.74,524.96L215.22,524.85L215.70,524.74L216.17,524.64L216.65,524.53L217.12,524.43L217.60,524.32L218.08,524.22L218.55,524.12L219.03,524.01L219.51,523.91L219.98,523.81L220.46,523.71L220.93,523.61L221.41,523.51L221.89,523.41L222.36,523.31L222.84,523.21L223.32,523.11L223.79,523.02L224.27,522.92L224.74,522.82L225.22,522.73L225.70,522.63L226.17,522.54L226.65,522.44L227.13,522.35L227.60,522.26L228.08,522.16L228.56,522.07L229.03,521.98L229.51,521.89L229.98,521.80L230.46,521.71L230.94,521.62L231.41,521.53L231.89,521.44L232.37,521.35L232.84,521.26L233.32,521.17L233.79,521.08L234.27,521.00L234.75,520.91L235.22,520.82L235.70,520.74L236.18,520.65L236.65,520.57L237.13,520.49L237.60,520.40L238.08,520.32L238.56,520.24L239.03,520.15L239.51,520.07L239.99,519.99L240.46,519.91L240.94,519.83L241.41,519.75L241.89,519.67L242.37,519.59L242.84,519.51L243.32,519.43L243.80,519.35L244.27,519.27L244.75,519.20L245.22,519.12L245.70,519.04L246.18,518.97L246.65,518.89L247.13,518.81L247.61,518.74L248.08,518.66L248.56,518.59L249.03,518.52L249.51,518.44L249.99,518.37L250.46,518.30L250.94,518.22L251.42,518.15L251.89,518.08L252.37,518.01L252.84,517.94L253.32,517.87L253.80,517.80L254.27,517.73L254.75,517.66L255.23,517.59L255.70,517.52L256.18,517.45L256.65,517.38L257.13,517.32L257.61,517.25L258.08,517.18L258.56,517.12L259.04,517.05L259.51,516.98L259.99,516.92L260.46,516.85L260.94,516.79L261.42,516.72L261.89,516.66L262.37,516.60L262.85,516.53L263.32,516.47L263.80,516.41L264.27,516.34L264.75,516.28L265.23,516.22L265.70,516.16L266.18,516.10L266.66,516.04L267.13,515.97L267.61,515.91L268.08,515.85L268.56,515.79L269.04,515.73L269.51,515.68L269.99,515.62L270.47,515.56L270.94,515.50L271.42,515.44L271.89,515.38L272.37,515.33L272.85,515.27L273.32,515.21L273.80,515.16L274.28,515.10L274.75,515.05L275.23,514.99L275.70,514.93L276.18,514.88L276.66,514.83L277.13,514.77L277.61,514.72L278.09,514.66L278.56,514.61L279.04,514.56L279.52,514.50L279.99,514.45L280.47,514.40L280.94,514.35L281.42,514.29L281.90,514.24L282.37,514.19L282.85,514.14L283.33,514.09L283.80,514.04L284.28,513.99L284.75,513.94L285.23,513.89L285.71,513.84L286.18,513.79L286.66,513.74L287.14,513.69L287.61,513.64L288.09,513.59L288.56,513.55L289.04,513.50L289.52,513.45L289.99,513.40L290.47,513.36L290.95,513.31L291.42,513.26L291.90,513.22L292.37,513.17L292.85,513.13L293.33,513.08L293.80,513.03L294.28,512.99L294.76,512.94L295.23,512.90L295.71,512.85L296.18,512.81L296.66,512.77L297.14,512.72L297.61,512.68L298.09,512.64L298.57,512.59L299.04,512.55L299.52,512.51L299.99,512.46L300.47,512.42L300.95,512.38L301.42,512.34L301.90,512.30L302.38,512.26L302.85,512.21L303.33,512.17L303.80,512.13L304.28,512.09L304.76,512.05L305.23,512.01L305.71,511.97L306.19,511.93L306.66,511.89L307.14,511.85L307.61,511.81L308.09,511.77L308.57,511.74L309.04,511.70L309.52,511.66L310.00,511.62L310.47,511.58L310.95,511.55L311.42,511.51L311.90,511.47L312.38,511.43L312.85,511.40L313.33,511.36L313.81,511.32L314.28,511.29L314.76,511.25L315.23,511.21L315.71,511.18L316.19,511.14L316.66,511.11L317.14,511.07L317.62,511.04L318.09,511.00L318.57,510.97L319.04,510.93L319.52,510.90L320.00,510.86L320.47,510.83L320.95,510.80L321.43,510.76L321.90,510.73L322.38,510.69L322.85,510.66L323.33,510.63L323.81,510.59L324.28,510.56L324.76,510.53L325.24,510.50L325.71,510.46L326.19,510.43L326.66,510.40L327.14,510.37L327.62,510.34L328.09,510.31L328.57,510.27L329.05,510.24L329.52,510.21L330.00,510.18L330.47,510.15L330.95,510.12L331.43,510.09L331.90,510.06L332.38,510.03L332.86,510.00L333.33,509.97L333.81,509.94L334.29,509.91L334.76,509.88L335.24,509.85L335.71,509.82L336.19,509.79L336.67,509.77L337.14,509.74L337.62,509.71L338.10,509.68L338.57,509.65L339.05,509.62L339.52,509.60L340.00,509.57L340.48,509.54L340.95,509.51L341.43,509.49L341.91,509.46L342.38,509.43L342.86,509.40L343.33,509.38L343.81,509.35L344.29,509.32L344.76,509.30L345.24,509.27L345.72,509.25L346.19,509.22L346.67,509.19L347.14,509.17L347.62,509.14L348.10,509.12L348.57,509.09L349.05,509.07L349.53,509.04L350.00,509.02L350.48,508.99L350.95,508.97L351.43,508.94L351.91,508.92L352.38,508.89L352.86,508.87L353.34,508.84L353.81,508.82L354.29,508.80L354.76,508.77L355.24,508.75L355.72,508.73L356.19,508.70L356.67,508.68L357.15,508.66L357.62,508.63L358.10,508.61L358.57,508.59L359.05,508.56L359.53,508.54L360.00,508.52L360.48,508.50L360.96,508.47L361.43,508.45L361.91,508.43L362.38,508.41L362.86,508.39L363.34,508.36L363.81,508.34L364.29,508.32L364.77,508.30L365.24,508.28L365.72,508.26L366.19,508.24L366.67,508.21L367.15,508.19L367.62,508.17L368.10,508.15L368.58,508.13L369.05,508.11L369.53,508.09L370.00,508.07L370.48,508.05L370.96,508.03L371.43,508.01L371.91,507.99L372.39,507.97L372.86,507.95L373.34,507.93L373.81,507.91L374.29,507.89L374.77,507.87L375.24,507.85L375.72,507.83L376.20,507.82L376.67,507.80L377.15,507.78L377.62,507.76L378.10,507.74L378.58,507.72L379.05,507.70L379.53,507.68L380.01,507.67L380.48,507.65L380.96,507.63L381.43,507.61L381.91,507.59L382.39,507.58L382.86,507.56L383.34,507.54L383.82,507.52L384.29,507.51L384.77,507.49L385.25,507.47L385.72,507.45L386.20,507.44L386.67,507.42L387.15,507.40L387.63,507.38L388.10,507.37L388.58,507.35L389.06,507.33L389.53,507.32L390.01,507.30L390.48,507.28L390.96,507.27L391.44,507.25L391.91,507.24L392.39,507.22L392.87,507.20L393.34,507.19L393.82,507.17L394.29,507.16L394.77,507.14L395.25,507.12L395.72,507.11L396.20,507.09L396.68,507.08L397.15,507.06L397.63,507.05L398.10,507.03L398.58,507.02L399.06,507.00L399.53,506.99L400.01,506.97L400.49,506.96L400.96,506.94L401.44,506.93L401.91,506.91L402.39,506.90L402.87,506.88L403.34,506.87L403.82,506.85L404.30,506.84L404.77,506.83L405.25,506.81L405.72,506.80L406.20,506.78L406.68,506.77L407.15,506.76L407.63,506.74L408.11,506.73L408.58,506.71L409.06,506.70L409.53,506.69L410.01,506.67L410.49,506.66L410.96,506.65L411.44,506.63L411.92,506.62L412.39,506.61L412.87,506.59L413.34,506.58L413.82,506.57L414.30,506.56L414.77,506.54L415.25,506.53L415.73,506.52L416.20,506.50L416.68,506.49L417.15,506.48L417.63,506.47L418.11,506.45L418.58,506.44L419.06,506.43L419.54,506.42L420.01,506.40L420.49,506.39L420.96,506.38L421.44,506.37L421.92,506.36L422.39,506.34L422.87,506.33L423.35,506.32L423.82,506.31L424.30,506.30L424.77,506.29L425.25,506.27L425.73,506.26L426.20,506.25L426.68,506.24L427.16,506.23L427.63,506.22L428.11,506.21L428.58,506.19L429.06,506.18L429.54,506.17L430.01,506.16L430.49,506.15L430.97,506.14L431.44,506.13L431.92,506.12L432.39,506.11L432.87,506.10L433.35,506.09L433.82,506.08L434.30,506.06L434.78,506.05L435.25,506.04L435.73,506.03L436.21,506.02L436.68,506.01L437.16,506.00L437.63,505.99L438.11,505.98L438.59,505.97L439.06,505.96L439.54,505.95L440.02,505.94L440.49,505.93L440.97,505.92L441.44,505.91L441.92,505.90L442.40,505.89L442.87,505.88L443.35,505.87L443.83,505.86L444.30,505.85L444.78,505.84L445.25,505.83L445.73,505.83L446.21,505.82L446.68,505.81L447.16,505.80L447.64,505.79L448.11,505.78L448.59,505.77L449.06,505.76L449.54,505.75L450.02,505.74L450.49,505.73L450.97,505.72L451.45,505.72L451.92,505.71L452.40,505.70L452.87,505.69L453.35,505.68L453.83,505.67L454.30,505.66L454.78,505.65L455.26,505.65L455.73,505.64L456.21,505.63L456.68,505.62L457.16,505.61L457.64,505.60L458.11,505.59L458.59,505.59L459.07,505.58L459.54,505.57L460.02,505.56L460.49,505.55L460.97,505.55L461.45,505.54L461.92,505.53L462.40,505.52L462.88,505.51L463.35,505.51L463.83,505.50L464.30,505.49L464.78,505.48L465.26,505.47L465.73,505.47L466.21,505.46L466.69,505.45L467.16,505.44L467.64,505.44L468.11,505.43L468.59,505.42L469.07,505.41L469.54,505.41L470.02,505.40L470.50,505.39L470.97,505.38L471.45,505.38L471.92,505.37L472.40,505.36L472.88,505.35L473.35,505.35L473.83,505.34L474.31,505.33L474.78,505.33L475.26,505.32L475.73,505.31L476.21,505.31L476.69,505.30L477.16,505.29L477.64,505.28L478.12,505.28L478.59,505.27L479.07,505.26L479.54,505.26L480.02,505.25L480.50,505.24L480.97,505.24L481.45,505.23L481.93,505.22L482.40,505.22L482.88,505.21L483.35,505.20L483.83,505.20L484.31,505.19L484.78,505.19L485.26,505.18L485.74,505.17L486.21,505.17L486.69,505.16L487.17,505.15L487.64,505.15L488.12,505.14L488.59,505.13L489.07,505.13L489.55,505.12L490.02,505.12L490.50,505.11L490.98,505.10L491.45,505.10L491.93,505.09L492.40,505.09L492.88,505.08L493.36,505.07L493.83,505.07L494.31,505.06L494.79,505.06L495.26,505.05L495.74,505.05L496.21,505.04L496.69,505.03L497.17,505.03L497.64,505.02L498.12,505.02L498.60,505.01L499.07,505.01L499.55,505.00L500.02,505.00L500.50,504.99L500.98,504.98L501.45,504.98L501.93,504.97L502.41,504.97L502.88,504.96L503.36,504.96L503.83,504.95L504.31,504.95L504.79,504.94L505.26,504.94L505.74,504.93L506.22,504.93L506.69,504.92L507.17,504.92L507.64,504.91L508.12,504.90L508.60,504.90L509.07,504.89L509.55,504.89L510.03,504.88L510.50,504.88L510.98,504.87L511.45,504.87L511.93,504.87L512.41,504.86L512.88,504.86L513.36,504.85L513.84,504.85L514.31,504.84L514.79,504.84L515.26,504.83L515.74,504.83L516.22,504.82L516.69,504.82L517.17,504.81L517.65,504.81L518.12,504.80L518.60,504.80L519.07,504.79L519.55,504.79L520.03,504.78L520.50,504.78L520.98,504.78L521.46,504.77L521.93,504.77L522.41,504.76L522.88,504.76L523.36,504.75L523.84,504.75L524.31,504.74L524.79,504.74L525.27,504.74L525.74,504.73L526.22,504.73L526.69,504.72L527.17,504.72L527.65,504.72L528.12,504.71L528.60,504.71L529.08,504.70L529.55,504.70L530.03,504.69L530.50,504.69L530.98,504.69L531.46,504.68L531.93,504.68L532.41,504.67L532.89,504.67L533.36,504.67L533.84,504.66L534.31,504.66L534.79,504.65L535.27,504.65L535.74,504.65L536.22,504.64L536.70,504.64L537.17,504.63L537.65,504.63L538.13,504.63L538.60,504.62L539.08,504.62L539.55,504.62L540.03,504.61L540.51,504.61L540.98,504.60L541.46,504.60L541.94,504.60L542.41,504.59L542.89,504.59L543.36,504.59L543.84,504.58L544.32,504.58L544.79,504.58L545.27,504.57L545.75,504.57L546.22,504.57L546.70,504.56L547.17,504.56L547.65,504.55L548.13,504.55L548.60,504.55L549.08,504.54L549.56,504.54L550.03,504.54L550.51,504.53L550.98,504.53L551.46,504.53L551.94,504.52L552.41,504.52L552.89,504.52L553.37,504.51L553.84,504.51L554.32,504.51L554.79,504.50L555.27,504.50L555.75,504.50L556.22,504.49L556.70,504.49L557.18,504.49L557.65,504.49L558.13,504.48L558.60,504.48L559.08,504.48L559.56,504.47L560.03,504.47L560.51,504.47L560.99,504.46L561.46,504.46L561.94,504.46L562.41,504.45L562.89,504.45L563.37,504.45L563.84,504.45L564.32,504.44L564.80,504.44L565.27,504.44L565.75,504.43L566.22,504.43L566.70,504.43L567.18,504.43L567.65,504.42L568.13,504.42L568.61,504.42L569.08,504.41L569.56,504.41L570.03,504.41L570.51,504.41L570.99,504.40L571.46,504.40L571.94,504.40L572.42,504.39L572.89,504.39L573.37,504.39L573.84,504.39L574.32,504.38L574.80,504.38L575.27,504.38L575.75,504.38L576.23,504.37L576.70,504.37L577.18,504.37L577.65,504.37L578.13,504.36L578.61,504.36L579.08,504.36L579.56,504.36L580.04,504.35L580.51,504.35L580.99,504.35L581.46,504.35L581.94,504.34L582.42,504.34L582.89,504.34L583.37,504.34L583.85,504.33L584.32,504.33L584.80,504.33L585.27,504.33L585.75,504.32L586.23,504.32L586.70,504.32L587.18,504.32L587.66,504.31L588.13,504.31L588.61,504.31L589.09,504.31L589.56,504.30L590.04,504.30L590.51,504.30L590.99,504.30L591.47,504.30L591.94,504.29L592.42,504.29L592.90,504.29L593.37,504.29L593.85,504.28L594.32,504.28L594.80,504.28L595.28,504.28L595.75,504.28L596.23,504.27L596.71,504.27L597.18,504.27L597.66,504.27L598.13,504.26L598.61,504.26L599.09,504.26L599.56,504.26L600.04,504.26L600.52,504.25L600.99,504.25L601.47,504.25L601.94,504.25L602.42,504.25L602.90,504.24L603.37,504.24L603.85,504.24L604.33,504.24L604.80,504.24L605.28,504.23L605.75,504.23L606.23,504.23L606.71,504.23L607.18,504.23L607.66,504.22L608.14,504.22L608.61,504.22L609.09,504.22L609.56,504.22L610.04,504.21L610.52,504.21L610.99,504.21L611.47,504.21L611.95,504.21L612.42,504.20L612.90,504.20L613.37,504.20L613.85,504.20L614.33,504.20L614.80,504.20L615.28,504.19L615.76,504.19L616.23,504.19L616.71,504.19L617.18,504.19L617.66,504.19L618.14,504.18L618.61,504.18L619.09,504.18L619.57,504.18L620.04,504.18L620.52,504.17L620.99,504.17L621.47,504.17L621.95,504.17L622.42,504.17L622.90,504.17L623.38,504.16L623.85,504.16L624.33,504.16L624.80,504.16L625.28,504.16L625.76,504.16L626.23,504.15L626.71,504.15L627.19,504.15L627.66,504.15L628.14,504.15L628.61,504.15L629.09,504.15L629.57,504.14L630.04,504.14L630.52,504.14L631.00,504.14L631.47,504.14L631.95,504.14L632.42,504.13L632.90,504.13L633.38,504.13L633.85,504.13L634.33,504.13L634.81,504.13L635.28,504.13L635.76,504.12L636.23,504.12L636.71,504.12L637.19,504.12L637.66,504.12L638.14,504.12L638.62,504.11L639.09,504.11L639.57,504.11L640.05,504.11L640.52,504.11L641.00,504.11L641.47,504.11L641.95,504.11L642.43,504.10L642.90,504.10L643.38,504.10L643.86,504.10L644.33,504.10L644.81,504.10L645.28,504.10L645.76,504.09L646.24,504.09L646.71,504.09L647.19,504.09L647.67,504.09L648.14,504.09L648.62,504.09L649.09,504.08L649.57,504.08L650.05,504.08L650.52,504.08L651.00,504.08L651.48,504.08L651.95,504.08L652.43,504.08L652.90,504.07L653.38,504.07L653.86,504.07L654.33,504.07L654.81,504.07L655.29,504.07L655.76,504.07L656.24,504.07L656.71,504.06L657.19,504.06L657.67,504.06L658.14,504.06L658.62,504.06L659.10,504.06L659.57,504.06L660.05,504.06L660.52,504.06L661.00,504.05L661.48,504.05L661.95,504.05L662.43,504.05L662.91,504.05L663.38,504.05L663.86,504.05L664.33,504.05L664.81,504.05L665.29,504.04L665.76,504.04L666.24,504.04L666.72,504.04L667.19,504.04L667.67,504.04L668.14,504.04L668.62,504.04L669.10,504.04L669.57,504.03L670.05,504.03L670.53,504.03L671.00,504.03" fill="none" stroke="#006400" stroke-width="3.0" stroke-dasharray="9,5,4,5" stroke-linejoin="round"/>
<path d="M99.96,602.25L100.44,601.75L100.92,601.25L101.39,600.75L101.87,600.26L102.35,599.76L102.82,599.26L103.30,598.76L103.77,598.27L104.25,597.77L104.73,597.28L105.20,596.79L105.68,596.29L106.16,595.80L106.63,595.31L107.11,594.82L107.58,594.33L108.06,593.84L108.54,593.35L109.01,592.86L109.49,592.38L109.97,591.89L110.44,591.41L110.92,590.92L111.39,590.44L111.87,589.95L112.35,589.47L112.82,588.99L113.30,588.51L113.78,588.03L114.25,587.55L114.73,587.07L115.20,586.59L115.68,586.12L116.16,585.64L116.63,585.17L117.11,584.69L117.59,584.22L118.06,583.74L118.54,583.27L119.01,582.80L119.49,582.33L119.97,581.86L120.44,581.39L120.92,580.93L121.40,580.46L121.87,579.99L122.35,579.53L122.82,579.06L123.30,578.60L123.78,578.14L124.25,577.68L124.73,577.22L125.21,576.76L125.68,576.30L126.16,575.84L126.64,575.39L127.11,574.93L127.59,574.48L128.06,574.02L128.54,573.57L129.02,573.12L129.49,572.67L129.97,572.22L130.45,571.77L130.92,571.32L131.40,570.88L131.87,570.43L132.35,569.98L132.83,569.54L133.30,569.10L133.78,568.66L134.26,568.22L134.73,567.78L135.21,567.34L135.68,566.90L136.16,566.47L136.64,566.03L137.11,565.60L137.59,565.17L138.07,564.73L138.54,564.30L139.02,563.87L139.49,563.45L139.97,563.02L140.45,562.59L140.92,562.17L141.40,561.75L141.88,561.32L142.35,560.90L142.83,560.48L143.30,560.06L143.78,559.65L144.26,559.23L144.73,558.81L145.21,558.40L145.69,557.99L146.16,557.58L146.64,557.17L147.11,556.76L147.59,556.35L148.07,555.94L148.54,555.54L149.02,555.13L149.50,554.73L149.97,554.33L150.45,553.93L150.92,553.53L151.40,553.13L151.88,552.74L152.35,552.34L152.83,551.95L153.31,551.56L153.78,551.17L154.26,550.78L154.73,550.39L155.21,550.00L155.69,549.62L156.16,549.24L156.64,548.85L157.12,548.47L157.59,548.09L158.07,547.72L158.54,547.34L159.02,546.96L159.50,546.59L159.97,546.22L160.45,545.85L160.93,545.48L161.40,545.11L161.88,544.74L162.35,544.38L162.83,544.02L163.31,543.65L163.78,543.29L164.26,542.93L164.74,542.58L165.21,542.22L165.69,541.87L166.16,541.51L166.64,541.16L167.12,540.81L167.59,540.46L168.07,540.12L168.55,539.77L169.02,539.43L169.50,539.09L169.97,538.75L170.45,538.41L170.93,538.07L171.40,537.74L171.88,537.40L172.36,537.07L172.83,536.74L173.31,536.41L173.78,536.08L174.26,535.76L174.74,535.43L175.21,535.11L175.69,534.79L176.17,534.47L176.64,534.15L177.12,533.84L177.60,533.52L178.07,533.21L178.55,532.90L179.02,532.59L179.50,532.28L179.98,531.98L180.45,531.67L180.93,531.37L181.41,531.07L181.88,530.77L182.36,530.48L182.83,530.18L183.31,529.89L183.79,529.60L184.26,529.31L184.74,529.02L185.22,528.73L185.69,528.45L186.17,528.16L186.64,527.88L187.12,527.60L187.60,527.33L188.07,527.05L188.55,526.77L189.03,526.50L189.50,526.23L189.98,525.96L190.45,525.70L190.93,525.43L191.41,525.17L191.88,524.91L192.36,524.65L192.84,524.39L193.31,524.13L193.79,523.88L194.26,523.63L194.74,523.37L195.22,523.13L195.69,522.88L196.17,522.63L196.65,522.39L197.12,522.15L197.60,521.91L198.07,521.67L198.55,521.43L199.03,521.20L199.50,520.97L199.98,520.74L200.46,520.51L200.93,520.28L201.41,520.05L201.88,519.83L202.36,519.61L202.84,519.39L203.31,519.17L203.79,518.96L204.27,518.74L204.74,518.53L205.22,518.32L205.69,518.11L206.17,517.90L206.65,517.70L207.12,517.49L207.60,517.29L208.08,517.09L208.55,516.89L209.03,516.70L209.50,516.50L209.98,516.31L210.46,516.12L210.93,515.93L211.41,515.74L211.89,515.56L212.36,515.38L212.84,515.19L213.31,515.01L213.79,514.84L214.27,514.66L214.74,514.49L215.22,514.31L215.70,514.14L216.17,513.97L216.65,513.80L217.12,513.64L217.60,513.47L218.08,513.31L218.55,513.15L219.03,512.99L219.51,512.84L219.98,512.68L220.46,512.53L220.93,512.38L221.41,512.23L221.89,512.08L222.36,511.93L222.84,511.78L223.32,511.64L223.79,511.50L224.27,511.36L224.74,511.22L225.22,511.08L225.70,510.95L226.17,510.82L226.65,510.68L227.13,510.55L227.60,510.43L228.08,510.30L228.56,510.17L229.03,510.05L229.51,509.93L229.98,509.81L230.46,509.69L230.94,509.57L231.41,509.46L231.89,509.34L232.37,509.23L232.84,509.12L233.32,509.01L233.79,508.90L234.27,508.80L234.75,508.69L235.22,508.59L235.70,508.49L236.18,508.39L236.65,508.29L237.13,508.19L237.60,508.09L238.08,508.00L238.56,507.91L239.03,507.82L239.51,507.73L239.99,507.64L240.46,507.55L240.94,507.46L241.41,507.38L241.89,507.30L242.37,507.21L242.84,507.13L243.32,507.05L243.80,506.98L244.27,506.90L244.75,506.82L245.22,506.75L245.70,506.68L246.18,506.61L246.65,506.54L247.13,506.47L247.61,506.40L248.08,506.33L248.56,506.27L249.03,506.21L249.51,506.14L249.99,506.08L250.46,506.02L250.94,505.96L251.42,505.90L251.89,505.85L252.37,505.79L252.84,505.74L253.32,505.68L253.80,505.63L254.27,505.58L254.75,505.53L255.23,505.48L255.70,505.43L256.18,505.39L256.65,505.34L257.13,505.29L257.61,505.25L258.08,505.21L258.56,505.16L259.04,505.12L259.51,505.08L259.99,505.04L260.46,505.01L260.94,504.97L261.42,504.93L261.89,504.90L262.37,504.86L262.85,504.83L263.32,504.79L263.80,504.76L264.27,504.73L264.75,504.70L265.23,504.67L265.70,504.64L266.18,504.61L266.66,504.58L267.13,504.56L267.61,504.53L268.08,504.50L268.56,504.48L269.04,504.46L269.51,504.43L269.99,504.41L270.47,504.39L270.94,504.37L271.42,504.34L271.89,504.32L272.37,504.30L272.85,504.29L273.32,504.27L273.80,504.25L274.28,504.23L274.75,504.21L275.23,504.20L275.70,504.18L276.18,504.17L276.66,504.15L277.13,504.14L277.61,504.12L278.09,504.11L278.56,504.10L279.04,504.09L279.52,504.07L279.99,504.06L280.47,504.05L280.94,504.04L281.42,504.03L281.90,504.02L282.37,504.01L282.85,504.00L283.33,503.99L283.80,503.98L284.28,503.97L284.75,503.97L285.23,503.96L285.71,503.95L286.18,503.94L286.66,503.94L287.14,503.93L287.61,503.92L288.09,503.92L288.56,503.91L289.04,503.91L289.52,503.90L289.99,503.90L290.47,503.89L290.95,503.89L291.42,503.88L291.90,503.88L292.37,503.87L292.85,503.87L293.33,503.87L293.80,503.86L294.28,503.86L294.76,503.86L295.23,503.85L295.71,503.85L296.18,503.85L296.66,503.84L297.14,503.84L297.61,503.84L298.09,503.84L298.57,503.83L299.04,503.83L299.52,503.83L299.99,503.83L300.47,503.83L300.95,503.83L301.42,503.82L301.90,503.82L302.38,503.82L302.85,503.82L303.33,503.82L303.80,503.82L304.28,503.82L304.76,503.82L305.23,503.81L305.71,503.81L306.19,503.81L306.66,503.81L307.14,503.81L307.61,503.81L308.09,503.81L308.57,503.81L309.04,503.81L309.52,503.81L310.00,503.81L310.47,503.81L310.95,503.81L311.42,503.81L311.90,503.81L312.38,503.80L312.85,503.80L313.33,503.80L313.81,503.80L314.28,503.80L314.76,503.80L315.23,503.80L315.71,503.80L316.19,503.80L316.66,503.80L317.14,503.80L317.62,503.80L318.09,503.80L318.57,503.80L319.04,503.80L319.52,503.80L320.00,503.80L320.47,503.80L320.95,503.80L321.43,503.80L321.90,503.80L322.38,503.80L322.85,503.80L323.33,503.80L323.81,503.80L324.28,503.80L324.76,503.80L325.24,503.80L325.71,503.80L326.19,503.80L326.66,503.80L327.14,503.80L327.62,503.80L328.09,503.80L328.57,503.80L329.05,503.80L329.52,503.80L330.00,503.80L330.47,503.80L330.95,503.80L331.43,503.80L331.90,503.80L332.38,503.80L332.86,503.80L333.33,503.80L333.81,503.80L334.29,503.80L334.76,503.80L335.24,503.80L335.71,503.80L336.19,503.80L336.67,503.80L337.14,503.80L337.62,503.80L338.10,503.80L338.57,503.80L339.05,503.80L339.52,503.80L340.00,503.80L340.48,503.80L340.95,503.80L341.43,503.80L341.91,503.80L342.38,503.80L342.86,503.80L343.33,503.80L343.81,503.80L344.29,503.80L344.76,503.80L345.24,503.80L345.72,503.80L346.19,503.80L346.67,503.80L347.14,503.80L347.62,503.80L348.10,503.80L348.57,503.80L349.05,503.80L349.53,503.80L350.00,503.80L350.48,503.80L350.95,503.80L351.43,503.80L351.91,503.80L352.38,503.80L352.86,503.80L353.34,503.80L353.81,503.80L354.29,503.80L354.76,503.80L355.24,503.80L355.72,503.80L356.19,503.80L356.67,503.80L357.15,503.80L357.62,503.80L358.10,503.80L358.57,503.80L359.05,503.80L359.53,503.80L360.00,503.80L360.48,503.80L360.96,503.80L361.43,503.80L361.91,503.80L362.38,503.80L362.86,503.80L363.34,503.80L363.81,503.80L364.29,503.80L364.77,503.80L365.24,503.80L365.72,503.80L366.19,503.80L366.67,503.80L367.15,503.80L367.62,503.80L368.10,503.80L368.58,503.80L369.05,503.80L369.53,503.80L370.00,503.80L370.48,503.80L370.96,503.80L371.43,503.80L371.91,503.80L372.39,503.80L372.86,503.80L373.34,503.80L373.81,503.80L374.29,503.80L374.77,503.80L375.24,503.80L375.72,503.80L376.20,503.80L376.67,503.80L377.15,503.80L377.62,503.80L378.10,503.80L378.58,503.80L379.05,503.80L379.53,503.80L380.01,503.80L380.48,503.80L380.96,503.80L381.43,503.80L381.91,503.80L382.39,503.80L382.86,503.80L383.34,503.80L383.82,503.80L384.29,503.80L384.77,503.80L385.25,503.80L385.72,503.80L386.20,503.80L386.67,503.80L387.15,503.80L387.63,503.80L388.10,503.80L388.58,503.80L389.06,503.80L389.53,503.80L390.01,503.80L390.48,503.80L390.96,503.80L391.44,503.80L391.91,503.80L392.39,503.80L392.87,503.80L393.34,503.80L393.82,503.80L394.29,503.80L394.77,503.80L395.25,503.80L395.72,503.80L396.20,503.80L396.68,503.80L397.15,503.80L397.63,503.80L398.10,503.80L398.58,503.80L399.06,503.80L399.53,503.80L400.01,503.80L400.49,503.80L400.96,503.80L401.44,503.80L401.91,503.80L402.39,503.80L402.87,503.80L403.34,503.80L403.82,503.80L404.30,503.80L404.77,503.80L405.25,503.80L405.72,503.80L406.20,503.80L406.68,503.80L407.15,503.80L407.63,503.80L408.11,503.80L408.58,503.80L409.06,503.80L409.53,503.80L410.01,503.80L410.49,503.80L410.96,503.80L411.44,503.80L411.92,503.80L412.39,503.80L412.87,503.80L413.34,503.80L413.82,503.80L414.30,503.80L414.77,503.80L415.25,503.80L415.73,503.80L416.20,503.80L416.68,503.80L417.15,503.80L417.63,503.80L418.11,503.80L418.58,503.80L419.06,503.80L419.54,503.80L420.01,503.80L420.49,503.80L420.96,503.80L421.44,503.80L421.92,503.80L422.39,503.80L422.87,503.80L423.35,503.80L423.82,503.80L424.30,503.80L424.77,503.80L425.25,503.80L425.73,503.80L426.20,503.80L426.68,503.80L427.16,503.80L427.63,503.80L428.11,503.80L428.58,503.80L429.06,503.80L429.54,503.80L430.01,503.80L430.49,503.80L430.97,503.80L431.44,503.80L431.92,503.80L432.39,503.80L432.87,503.80L433.35,503.80L433.82,503.80L434.30,503.80L434.78,503.80L435.25,503.80L435.73,503.80L436.21,503.80L436.68,503.80L437.16,503.80L437.63,503.80L438.11,503.80L438.59,503.80L439.06,503.80L439.54,503.80L440.02,503.80L440.49,503.80L440.97,503.80L441.44,503.80L441.92,503.80L442.40,503.80L442.87,503.80L443.35,503.80L443.83,503.80L444.30,503.80L444.78,503.80L445.25,503.80L445.73,503.80L446.21,503.80L446.68,503.80L447.16,503.80L447.64,503.80L448.11,503.80L448.59,503.80L449.06,503.80L449.54,503.80L450.02,503.80L450.49,503.80L450.97,503.80L451.45,503.80L451.92,503.80L452.40,503.80L452.87,503.80L453.35,503.80L453.83,503.80L454.30,503.80L454.78,503.80L455.26,503.80L455.73,503.80L456.21,503.80L456.68,503.80L457.16,503.80L457.64,503.80L458.11,503.80L458.59,503.80L459.07,503.80L459.54,503.80L460.02,503.80L460.49,503.80L460.97,503.80L461.45,503.80L461.92,503.80L462.40,503.80L462.88,503.80L463.35,503.80L463.83,503.80L464.30,503.80L464.78,503.80L465.26,503.80L465.73,503.80L466.21,503.80L466.69,503.80L467.16,503.80L467.64,503.80L468.11,503.80L468.59,503.80L469.07,503.80L469.54,503.80L470.02,503.80L470.50,503.80L470.97,503.80L471.45,503.80L471.92,503.80L472.40,503.80L472.88,503.80L473.35,503.80L473.83,503.80L474.31,503.80L474.78,503.80L475.26,503.80L475.73,503.80L476.21,503.80L476.69,503.80L477.16,503.80L477.64,503.80L478.12,503.80L478.59,503.80L479.07,503.80L479.54,503.80L480.02,503.80L480.50,503.80L480.97,503.80L481.45,503.80L481.93,503.80L482.40,503.80L482.88,503.80L483.35,503.80L483.83,503.80L484.31,503.80L484.78,503.80L485.26,503.80L485.74,503.80L486.21,503.80L486.69,503.80L487.17,503.80L487.64,503.80L488.12,503.80L488.59,503.80L489.07,503.80L489.55,503.80L490.02,503.80L490.50,503.80L490.98,503.80L491.45,503.80L491.93,503.80L492.40,503.80L492.88,503.80L493.36,503.80L493.83,503.80L494.31,503.80L494.79,503.80L495.26,503.80L495.74,503.80L496.21,503.80L496.69,503.80L497.17,503.80L497.64,503.80L498.12,503.80L498.60,503.80L499.07,503.80L499.55,503.80L500.02,503.80L500.50,503.80L500.98,503.80L501.45,503.80L501.93,503.80L502.41,503.80L502.88,503.80L503.36,503.80L503.83,503.80L504.31,503.80L504.79,503.80L505.26,503.80L505.74,503.80L506.22,503.80L506.69,503.80L507.17,503.80L507.64,503.80L508.12,503.80L508.60,503.80L509.07,503.80L509.55,503.80L510.03,503.80L510.50,503.80L510.98,503.80L511.45,503.80L511.93,503.80L512.41,503.80L512.88,503.80L513.36,503.80L513.84,503.80L514.31,503.80L514.79,503.80L515.26,503.80L515.74,503.80L516.22,503.80L516.69,503.80L517.17,503.80L517.65,503.80L518.12,503.80L518.60,503.80L519.07,503.80L519.55,503.80L520.03,503.80L520.50,503.80L520.98,503.80L521.46,503.80L521.93,503.80L522.41,503.80L522.88,503.80L523.36,503.80L523.84,503.80L524.31,503.80L524.79,503.80L525.27,503.80L525.74,503.80L526.22,503.80L526.69,503.80L527.17,503.80L527.65,503.80L528.12,503.80L528.60,503.80L529.08,503.80L529.55,503.80L530.03,503.80L530.50,503.80L530.98,503.80L531.46,503.80L531.93,503.80L532.41,503.80L532.89,503.80L533.36,503.80L533.84,503.80L534.31,503.80L534.79,503.80L535.27,503.80L535.74,503.80L536.22,503.80L536.70,503.80L537.17,503.80L537.65,503.80L538.13,503.80L538.60,503.80L539.08,503.80L539.55,503.80L540.03,503.80L540.51,503.80L540.98,503.80L541.46,503.80L541.94,503.80L542.41,503.80L542.89,503.80L543.36,503.80L543.84,503.80L544.32,503.80L544.79,503.80L545.27,503.80L545.75,503.80L546.22,503.80L546.70,503.80L547.17,503.80L547.65,503.80L548.13,503.80L548.60,503.80L549.08,503.80L549.56,503.80L550.03,503.80L550.51,503.80L550.98,503.80L551.46,503.80L551.94,503.80L552.41,503.80L552.89,503.80L553.37,503.80L553.84,503.80L554.32,503.80L554.79,503.80L555.27,503.80L555.75,503.80L556.22,503.80L556.70,503.80L557.18,503.80L557.65,503.80L558.13,503.80L558.60,503.80L559.08,503.80L559.56,503.80L560.03,503.80L560.51,503.80L560.99,503.80L561.46,503.80L561.94,503.80L562.41,503.80L562.89,503.80L563.37,503.80L563.84,503.80L564.32,503.80L564.80,503.80L565.27,503.80L565.75,503.80L566.22,503.80L566.70,503.80L567.18,503.80L567.65,503.80L568.13,503.80L568.61,503.80L569.08,503.80L569.56,503.80L570.03,503.80L570.51,503.80L570.99,503.80L571.46,503.80L571.94,503.80L572.42,503.80L572.89,503.80L573.37,503.80L573.84,503.80L574.32,503.80L574.80,503.80L575.27,503.80L575.75,503.80L576.23,503.80L576.70,503.80L577.18,503.80L577.65,503.80L578.13,503.80L578.61,503.80L579.08,503.80L579.56,503.80L580.04,503.80L580.51,503.80L580.99,503.80L581.46,503.80L581.94,503.80L582.42,503.80L582.89,503.80L583.37,503.80L583.85,503.80L584.32,503.80L584.80,503.80L585.27,503.80L585.75,503.80L586.23,503.80L586.70,503.80L587.18,503.80L587.66,503.80L588.13,503.80L588.61,503.80L589.09,503.80L589.56,503.80L590.04,503.80L590.51,503.80L590.99,503.80L591.47,503.80L591.94,503.80L592.42,503.80L592.90,503.80L593.37,503.80L593.85,503.80L594.32,503.80L594.80,503.80L595.28,503.80L595.75,503.80L596.23,503.80L596.71,503.80L597.18,503.80L597.66,503.80L598.13,503.80L598.61,503.80L599.09,503.80L599.56,503.80L600.04,503.80L600.52,503.80L600.99,503.80L601.47,503.80L601.94,503.80L602.42,503.80L602.90,503.80L603.37,503.80L603.85,503.80L604.33,503.80L604.80,503.80L605.28,503.80L605.75,503.80L606.23,503.80L606.71,503.80L607.18,503.80L607.66,503.80L608.14,503.80L608.61,503.80L609.09,503.80L609.56,503.80L610.04,503.80L610.52,503.80L610.99,503.80L611.47,503.80L611.95,503.80L612.42,503.80L612.90,503.80L613.37,503.80L613.85,503.80L614.33,503.80L614.80,503.80L615.28,503.80L615.76,503.80L616.23,503.80L616.71,503.80L617.18,503.80L617.66,503.80L618.14,503.80L618.61,503.80L619.09,503.80L619.57,503.80L620.04,503.80L620.52,503.80L620.99,503.80L621.47,503.80L621.95,503.80L622.42,503.80L622.90,503.80L623.38,503.80L623.85,503.80L624.33,503.80L624.80,503.80L625.28,503.80L625.76,503.80L626.23,503.80L626.71,503.80L627.19,503.80L627.66,503.80L628.14,503.80L628.61,503.80L629.09,503.80L629.57,503.80L630.04,503.80L630.52,503.80L631.00,503.80L631.47,503.80L631.95,503.80L632.42,503.80L632.90,503.80L633.38,503.80L633.85,503.80L634.33,503.80L634.81,503.80L635.28,503.80L635.76,503.80L636.23,503.80L636.71,503.80L637.19,503.80L637.66,503.80L638.14,503.80L638.62,503.80L639.09,503.80L639.57,503.80L640.05,503.80L640.52,503.80L641.00,503.80L641.47,503.80L641.95,503.80L642.43,503.80L642.90,503.80L643.38,503.80L643.86,503.80L644.33,503.80L644.81,503.80L645.28,503.80L645.76,503.80L646.24,503.80L646.71,503.80L647.19,503.80L647.67,503.80L648.14,503.80L648.62,503.80L649.09,503.80L649.57,503.80L650.05,503.80L650.52,503.80L651.00,503.80L651.48,503.80L651.95,503.80L652.43,503.80L652.90,503.80L653.38,503.80L653.86,503.80L654.33,503.80L654.81,503.80L655.29,503.80L655.76,503.80L656.24,503.80L656.71,503.80L657.19,503.80L657.67,503.80L658.14,503.80L658.62,503.80L659.10,503.80L659.57,503.80L660.05,503.80L660.52,503.80L661.00,503.80L661.48,503.80L661.95,503.80L662.43,503.80L662.91,503.80L663.38,503.80L663.86,503.80L664.33,503.80L664.81,503.80L665.29,503.80L665.76,503.80L666.24,503.80L666.72,503.80L667.19,503.80L667.67,503.80L668.14,503.80L668.62,503.80L669.10,503.80L669.57,503.80L670.05,503.80L670.53,503.80L671.00,503.80" fill="none" stroke="#800080" stroke-width="3.0" stroke-dasharray="10,4" stroke-linejoin="round"/>
</g>
<line x1="89.30" y1="610.42" x2="93.90" y2="610.42" stroke="#444" stroke-width="0.9"/>
<line x1="89.30" y1="593.30" x2="93.90" y2="593.30" stroke="#444" stroke-width="0.9"/>
<line x1="89.30" y1="586.80" x2="93.90" y2="586.80" stroke="#444" stroke-width="0.9"/>
<line x1="89.30" y1="581.16" x2="93.90" y2="581.16" stroke="#444" stroke-width="0.9"/>
<line x1="89.30" y1="576.19" x2="93.90" y2="576.19" stroke="#444" stroke-width="0.9"/>
<line x1="89.30" y1="525.36" x2="93.90" y2="525.36" stroke="#444" stroke-width="0.9"/>
<line x1="89.30" y1="513.22" x2="93.90" y2="513.22" stroke="#444" stroke-width="0.9"/>
<line x1="89.30" y1="496.10" x2="93.90" y2="496.10" stroke="#444" stroke-width="0.9"/>
<line x1="89.30" y1="489.60" x2="93.90" y2="489.60" stroke="#444" stroke-width="0.9"/>
<line x1="89.30" y1="483.96" x2="93.90" y2="483.96" stroke="#444" stroke-width="0.9"/>
<line x1="89.30" y1="478.99" x2="93.90" y2="478.99" stroke="#444" stroke-width="0.9"/>
<line x1="89.30" y1="601.00" x2="93.90" y2="601.00" stroke="#444" stroke-width="0.9"/>
<line x1="89.30" y1="571.74" x2="93.90" y2="571.74" stroke="#444" stroke-width="0.9"/>
<line x1="89.30" y1="542.48" x2="93.90" y2="542.48" stroke="#444" stroke-width="0.9"/>
<line x1="89.30" y1="503.80" x2="93.90" y2="503.80" stroke="#444" stroke-width="0.9"/>
<line x1="172.56" y1="622.10" x2="172.56" y2="617.60" stroke="#555" stroke-width="0.9"/>
<line x1="202.69" y1="622.10" x2="202.69" y2="617.60" stroke="#555" stroke-width="0.9"/>
<line x1="245.15" y1="622.10" x2="245.15" y2="617.60" stroke="#555" stroke-width="0.9"/>
<line x1="261.30" y1="622.10" x2="261.30" y2="617.60" stroke="#555" stroke-width="0.9"/>
<line x1="275.28" y1="622.10" x2="275.28" y2="617.60" stroke="#555" stroke-width="0.9"/>
<line x1="287.62" y1="622.10" x2="287.62" y2="617.60" stroke="#555" stroke-width="0.9"/>
<line x1="413.71" y1="622.10" x2="413.71" y2="617.60" stroke="#555" stroke-width="0.9"/>
<line x1="443.84" y1="622.10" x2="443.84" y2="617.60" stroke="#555" stroke-width="0.9"/>
<line x1="486.30" y1="622.10" x2="486.30" y2="617.60" stroke="#555" stroke-width="0.9"/>
<line x1="502.45" y1="622.10" x2="502.45" y2="617.60" stroke="#555" stroke-width="0.9"/>
<line x1="516.43" y1="622.10" x2="516.43" y2="617.60" stroke="#555" stroke-width="0.9"/>
<line x1="528.77" y1="622.10" x2="528.77" y2="617.60" stroke="#555" stroke-width="0.9"/>
<line x1="654.86" y1="622.10" x2="654.86" y2="617.60" stroke="#555" stroke-width="0.9"/>
<line x1="130.09" y1="622.10" x2="130.09" y2="617.60" stroke="#555" stroke-width="0.9"/>
<line x1="226.06" y1="622.10" x2="226.06" y2="617.60" stroke="#555" stroke-width="0.9"/>
<line x1="298.65" y1="622.10" x2="298.65" y2="617.60" stroke="#555" stroke-width="0.9"/>
<line x1="371.24" y1="622.10" x2="371.24" y2="617.60" stroke="#555" stroke-width="0.9"/>
<line x1="467.21" y1="622.10" x2="467.21" y2="617.60" stroke="#555" stroke-width="0.9"/>
<line x1="539.80" y1="622.10" x2="539.80" y2="617.60" stroke="#555" stroke-width="0.9"/>
<line x1="612.39" y1="622.10" x2="612.39" y2="617.60" stroke="#555" stroke-width="0.9"/>
<path d="M89.30,475.00 H680.50 M89.30,474.50 V622.10 H680.50 V474.50" fill="none" stroke="#999" stroke-width="1"/>
<line x1="89.80" y1="475.00" x2="680.00" y2="475.00" stroke="#ccc" stroke-width="1.1"/>
<text x="130.09" y="643.8" font-family="Liberation Serif" font-size="22.3" text-anchor="middle">2</text>
<text x="226.06" y="643.8" font-family="Liberation Serif" font-size="22.3" text-anchor="middle">5</text>
<text x="298.65" y="643.8" font-family="Liberation Serif" font-size="22.3" text-anchor="middle">10</text>
<text x="371.24" y="643.8" font-family="Liberation Serif" font-size="22.3" text-anchor="middle">20</text>
<text x="467.21" y="643.8" font-family="Liberation Serif" font-size="22.3" text-anchor="middle">50</text>
<text x="539.80" y="643.8" font-family="Liberation Serif" font-size="22.3" text-anchor="middle">100</text>
<text x="612.39" y="643.8" font-family="Liberation Serif" font-size="22.3" text-anchor="middle">200</text>
<text x="83.7" y="480.24" font-family="Liberation Serif" font-size="22.3" text-anchor="end">1.00</text>
<text x="83.7" y="509.50" font-family="Liberation Serif" font-size="22.3" text-anchor="end">0.50</text>
<text x="83.7" y="548.18" font-family="Liberation Serif" font-size="22.3" text-anchor="end">0.20</text>
<text x="83.7" y="577.44" font-family="Liberation Serif" font-size="22.3" text-anchor="end">0.10</text>
<text x="83.7" y="606.70" font-family="Liberation Serif" font-size="22.3" text-anchor="end">0.05</text>
<text transform="translate(283.33,686.60) scale(0.9620,1)" font-family="Liberation Sans" font-size="22.40">Protocol time</text>
<text x="413.92" y="686.60" font-family="Liberation Serif" font-size="22.40" font-style="italic">t</text>
<text x="420.76" y="688.20" font-family="Liberation Serif" font-size="12.60" font-style="italic" stroke="#000" stroke-width="0.35">f</text>
<text x="435.32" y="686.60" font-family="Liberation Serif" font-size="22.40">(</text>
<text x="442.76" y="686.60" font-family="Liberation Serif" font-size="22.40" font-style="italic">ω</text>
<text x="458.58" y="692.90" font-family="Liberation Sans" font-size="17.00">c</text>
<text x="459.39" y="677.10" font-family="Liberation Sans" font-size="16.50">−1</text>
<text x="478.38" y="686.60" font-family="Liberation Serif" font-size="22.40">)</text>
<text x="6.20" y="489.70" font-family="Liberation Sans" font-size="25.50" font-weight="bold">c</text>
<text transform="translate(19.20,576.37) rotate(-90)" font-family="Liberation Serif" font-size="22.00">Φ</text>
<text transform="translate(23.00,560.83) rotate(-90)" font-family="Liberation Sans" font-size="15.00">q</text>
<text transform="translate(19.20,551.37) rotate(-90)" font-family="Liberation Serif" font-size="22.00">(</text>
<text transform="translate(19.20,544.37) rotate(-90)" font-family="Liberation Serif" font-size="22.00" font-style="italic">t</text>
<text transform="translate(21.20,536.64) rotate(-90)" font-family="Liberation Serif" font-size="12.60" font-style="italic" stroke="#000" stroke-width="0.35">f</text>
<text transform="translate(19.20,528.31) rotate(-90)" font-family="Liberation Serif" font-size="22.00">)</text>
<rect x="301.2" y="531.5" width="366.25" height="76.25" fill="#fff" stroke="#000" stroke-width="1.9"/>
<line x1="306.50" y1="549.70" x2="340.70" y2="549.70" stroke="#00008b" stroke-width="2.9" stroke-dasharray="10,4.3"/>
<line x1="306.50" y1="590.80" x2="340.70" y2="590.80" stroke="#ff8c1a" stroke-width="2.9" stroke-dasharray="4.6,4.3"/>
<line x1="490.40" y1="549.70" x2="524.70" y2="549.70" stroke="#006400" stroke-width="2.9" stroke-dasharray="4.7,4.2,10.2,4.4"/>
<line x1="490.50" y1="590.80" x2="524.70" y2="590.80" stroke="#800080" stroke-width="2.9" stroke-dasharray="10.2,4.2"/>
<text x="351.02" y="556.40" font-family="Liberation Sans" font-size="18.00" font-style="italic">ϕ</text>
<text x="360.98" y="556.40" font-family="Liberation Sans" font-size="18.00">(</text>
<text x="369.32" y="556.40" font-family="Liberation Sans" font-size="18.00" font-style="italic">x</text>
<text x="379.89" y="556.40" font-family="Liberation Sans" font-size="18.00">)</text>
<text x="387.02" y="556.40" font-family="Liberation Sans" font-size="18.00">=</text>
<text x="398.95" y="556.40" font-family="Liberation Sans" font-size="18.00">Θ</text>
<text x="412.68" y="556.40" font-family="Liberation Sans" font-size="18.00">(</text>
<text x="420.33" y="556.40" font-family="Liberation Sans" font-size="18.00">1</text>
<text x="430.01" y="556.40" font-family="Liberation Sans" font-size="18.00">−</text>
<text x="442.62" y="556.40" font-family="Liberation Sans" font-size="18.00" font-style="italic">x</text>
<text x="453.59" y="556.40" font-family="Liberation Sans" font-size="18.00">)</text>
<text x="351.02" y="597.00" font-family="Liberation Sans" font-size="18.00" font-style="italic">ϕ</text>
<text x="360.98" y="597.00" font-family="Liberation Sans" font-size="18.00">(</text>
<text x="369.32" y="597.00" font-family="Liberation Sans" font-size="18.00" font-style="italic">x</text>
<text x="379.89" y="597.00" font-family="Liberation Sans" font-size="18.00">)</text>
<text x="387.02" y="597.00" font-family="Liberation Sans" font-size="18.00">=</text>
<text x="399.23" y="597.00" font-family="Liberation Sans" font-size="18.00">1</text>
<text x="407.80" y="597.00" font-family="Liberation Sans" font-size="18.00">/</text>
<text x="413.28" y="597.00" font-family="Liberation Sans" font-size="18.00">(</text>
<text x="420.73" y="597.00" font-family="Liberation Sans" font-size="18.00">1</text>
<text x="429.92" y="597.00" font-family="Liberation Sans" font-size="18.00">+</text>
<text x="442.72" y="597.00" font-family="Liberation Sans" font-size="18.00" font-style="italic">x</text>
<text x="453.00" y="589.80" font-family="Liberation Sans" font-size="16.00">2</text>
<text x="465.69" y="597.00" font-family="Liberation Sans" font-size="18.00">)</text>
<text x="535.02" y="556.40" font-family="Liberation Sans" font-size="18.00" font-style="italic">ϕ</text>
<text x="544.98" y="556.40" font-family="Liberation Sans" font-size="18.00">(</text>
<text x="553.32" y="556.40" font-family="Liberation Sans" font-size="18.00" font-style="italic">x</text>
<text x="563.89" y="556.40" font-family="Liberation Sans" font-size="18.00">)</text>
<text x="571.02" y="556.40" font-family="Liberation Sans" font-size="18.00">=</text>
<text x="582.54" y="556.40" font-family="Liberation Sans" font-size="18.00">exp</text>
<text x="613.68" y="556.40" font-family="Liberation Sans" font-size="18.00">(</text>
<text x="621.11" y="556.40" font-family="Liberation Sans" font-size="18.00">−</text>
<text x="633.32" y="556.40" font-family="Liberation Sans" font-size="18.00" font-style="italic">x</text>
<text x="644.89" y="556.40" font-family="Liberation Sans" font-size="18.00">)</text>
<text x="535.02" y="597.00" font-family="Liberation Sans" font-size="18.00" font-style="italic">ϕ</text>
<text x="544.98" y="597.00" font-family="Liberation Sans" font-size="18.00">(</text>
<text x="553.32" y="597.00" font-family="Liberation Sans" font-size="18.00" font-style="italic">x</text>
<text x="563.89" y="597.00" font-family="Liberation Sans" font-size="18.00">)</text>
<text x="571.02" y="597.00" font-family="Liberation Sans" font-size="18.00">=</text>
<text x="582.54" y="597.00" font-family="Liberation Sans" font-size="18.00">exp</text>
<text x="613.68" y="597.00" font-family="Liberation Sans" font-size="18.00">(</text>
<text x="621.11" y="597.00" font-family="Liberation Sans" font-size="18.00">−</text>
<text x="633.32" y="597.00" font-family="Liberation Sans" font-size="18.00" font-style="italic">x</text>
<text x="643.60" y="589.80" font-family="Liberation Sans" font-size="16.00">2</text>
<text x="657.39" y="597.00" font-family="Liberation Sans" font-size="18.00">)</text></svg>
</body></html>
